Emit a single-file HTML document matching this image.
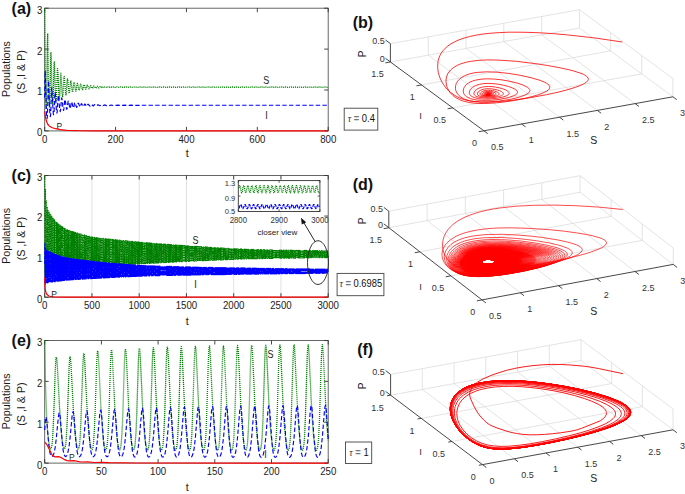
<!DOCTYPE html>
<html><head><meta charset="utf-8"><style>
html,body{margin:0;padding:0;background:#fff;width:685px;height:494px;overflow:hidden}
svg{display:block}
text{font-family:"Liberation Sans", sans-serif}
</style></head><body>
<svg width="685" height="494" viewBox="0 0 685 494" font-family='"Liberation Sans", sans-serif'>
<rect width="685" height="494" fill="#fff"/>
<rect x="44.7" y="8.2" width="283.5" height="122.7" fill="none" stroke="#555" stroke-width="0.9"/>
<line x1="44.7" y1="130.9" x2="44.7" y2="126.9" stroke="#333" stroke-width="0.9" />
<line x1="44.7" y1="8.2" x2="44.7" y2="12.2" stroke="#333" stroke-width="0.9" />
<text transform="translate(44.7,142.9) scale(0.93,1)" font-size="10.4" text-anchor="middle" font-weight="normal" fill="#222" >0</text>
<line x1="115.58" y1="130.9" x2="115.58" y2="126.9" stroke="#333" stroke-width="0.9" />
<line x1="115.58" y1="8.2" x2="115.58" y2="12.2" stroke="#333" stroke-width="0.9" />
<text transform="translate(115.58,142.9) scale(0.93,1)" font-size="10.4" text-anchor="middle" font-weight="normal" fill="#222" >200</text>
<line x1="186.45" y1="130.9" x2="186.45" y2="126.9" stroke="#333" stroke-width="0.9" />
<line x1="186.45" y1="8.2" x2="186.45" y2="12.2" stroke="#333" stroke-width="0.9" />
<text transform="translate(186.45,142.9) scale(0.93,1)" font-size="10.4" text-anchor="middle" font-weight="normal" fill="#222" >400</text>
<line x1="257.32" y1="130.9" x2="257.32" y2="126.9" stroke="#333" stroke-width="0.9" />
<line x1="257.32" y1="8.2" x2="257.32" y2="12.2" stroke="#333" stroke-width="0.9" />
<text transform="translate(257.32,142.9) scale(0.93,1)" font-size="10.4" text-anchor="middle" font-weight="normal" fill="#222" >600</text>
<line x1="328.2" y1="130.9" x2="328.2" y2="126.9" stroke="#333" stroke-width="0.9" />
<line x1="328.2" y1="8.2" x2="328.2" y2="12.2" stroke="#333" stroke-width="0.9" />
<text transform="translate(328.2,142.9) scale(0.93,1)" font-size="10.4" text-anchor="middle" font-weight="normal" fill="#222" >800</text>
<line x1="44.7" y1="130.9" x2="48.7" y2="130.9" stroke="#333" stroke-width="0.9" />
<line x1="328.2" y1="130.9" x2="324.2" y2="130.9" stroke="#333" stroke-width="0.9" />
<text transform="translate(42.3,136.3) scale(0.93,1)" font-size="10.4" text-anchor="end" font-weight="normal" fill="#222" >0</text>
<line x1="44.7" y1="90" x2="48.7" y2="90" stroke="#333" stroke-width="0.9" />
<line x1="328.2" y1="90" x2="324.2" y2="90" stroke="#333" stroke-width="0.9" />
<text transform="translate(42.3,95.4) scale(0.93,1)" font-size="10.4" text-anchor="end" font-weight="normal" fill="#222" >1</text>
<line x1="44.7" y1="49.1" x2="48.7" y2="49.1" stroke="#333" stroke-width="0.9" />
<line x1="328.2" y1="49.1" x2="324.2" y2="49.1" stroke="#333" stroke-width="0.9" />
<text transform="translate(42.3,54.5) scale(0.93,1)" font-size="10.4" text-anchor="end" font-weight="normal" fill="#222" >2</text>
<line x1="44.7" y1="8.2" x2="48.7" y2="8.2" stroke="#333" stroke-width="0.9" />
<line x1="328.2" y1="8.2" x2="324.2" y2="8.2" stroke="#333" stroke-width="0.9" />
<text transform="translate(42.3,13.6) scale(0.93,1)" font-size="10.4" text-anchor="end" font-weight="normal" fill="#222" >3</text>
<path d="M44.7 8.2l.7 78.1 .4 16.5 .2 4.4 .2 1.2 .3-3.7 .2-7.8 .7-55.4 .3-8.1 1 59.1 .4 11 .3 3.5 .3-2.5 .2-5.7 .8-39.2 .2-7.5 .3 5.1 .9 38.3 .4 7.2 .3 1.5 .4-5.9 .8-31.9 .3-4.4 .3 4.2 .9 28.5 .3 4.8 .2 1.9 .5-4.2 .7-24.5 .3-4.1 .4 3.5 1 22.8 .3 3.2 .2 .7 .4-4 .7-17.8 .4-3.9 .3 3 .9 16.7 .5 3.8 .5-2.7 .7-15 .4-2.5 .3 2.6 1 13 .5 2.8 .3-1.8 .8-11.7 .4-2.4 .3 1.6 1 10.7 .3 1.8 .2 .3 .4-2.4 .7-8.6 .4-1.5 .3 1.4 1 8.4 .5 1.5 .3-1.1 .8-7.3 .3-1.5 .5 1.2 1 6.6 .4 1.1 .4-1.5 .7-5.3 .4-1 .4 1 .9 5 .5 1 .3-.7 .8-4.5 .4-1 .4 .9 1 3.9 .4 .8 .3-.7 .8-3.6 .4-.7 .4 .7 1 3.2 .4 .6 .4-.6 .8-2.9 .3-.5 .4 .6 1 2.5 .4 .5 .3-.4 .8-2.3 .4-.5 .4 .4 1 2.1 .4 .3 .4-.3 .7-1.9 .4-.3 .4 .3 .9 1.6 .5 .4 .4-.3 .8-1.5 .3-.2 .5 .3 .9 1.2 .4 .3 .4-.2 .7-1.1 .4-.4 .4 .2 1 1.2 .4 .1 1.2-1.2 .3-.1 1.8 1.2 1.6-1.1 1.7 1 1.5-.9 1.8 .8 1.5-.7 1.8 .7 1.5-.7 1.9 .6 1.4-.5 1.8 .5 1.6-.5 1.7 .5 1.5-.5 1.8 .5 1.6-.5 1.7 .4 1.5-.4 1.9 .4 1.5-.3 1.7 .3 1.6-.3 1.8 .3 1.5-.3 1.8 .3 1.5-.3 1.8 .3 1.4-.3 1.9 .3 1.5-.3 1.8 .3 1.5-.3 1.8 .3 1.5-.3 1.8 .3 1.5-.3 1.8 .3 1.5-.3 1.8 .3 1.5-.3 1.8 .3 1.5-.3 1.8 .3 1.5-.3 1.8 .3 1.5-.3 1.8 .3 1.5-.3 1.8 .3 1.5-.3 1.8 .3 1.5-.3 1.8 .3 1.5-.3 1.9 .3 1.4-.3 1.8 .3 1.5-.3 1.8 .3 1.5-.3 1.8 .3 1.6-.3 1.7 .3 1.5-.3 1.9 .3 1.5-.3 1.7 .3 1.5-.3 1.9 .3 1.5-.3 1.7 .3 1.6-.3 1.8 .3 1.4-.3 1.9 .3 1.5-.3 1.7 .3 1.5-.3 1.9 .3 1.5-.3 1.7 .3 1.6-.3 1.8 .3 1.5-.3 1.7 .3 1.6-.3 1.8 .3 1.5-.3 1.8 .3 1.5-.3 1.8 .3 1.5-.3 1.8 .3 1.5-.3 1.8 .3 1.5-.3 1.8 .3 1.5-.3 1.8 .3 1.5-.3 1.8 .3 1.5-.3 1.8 .3 1.5-.3 1.8 .3 1.5-.3 1.8 .3 1.5-.3 1.8 .3 1.5-.3 1.8 .3 1.5-.3 1.8 .3 1.5-.3 1.8 .3 1.5-.3 1.8 .3 1.5-.3 1.9 .3 1.4-.3 1.8 .3 1.5-.3 1.8 .3 1.5-.3 1.8 .3 1.5-.3 1.8 .3 1.5-.3 1.9 .3 1.4-.3 1.8 .3 1.5-.3 1.9 .3 1.4-.3 1.8 .3 1.3-.3" fill="none" stroke="#008000" stroke-width="1.3" stroke-linejoin="round" stroke-dasharray="1.1 0.9"/>
<path d="M44.7 97.7l.3-22.2 .2-4.5 1.1 38.1 .3 7 .4 2.6 .3-1.2 .2-5.1 1-31.7 .2 3.8 1 25.8 .3 5 .3 1.3 .3-1.3 .2-3.3 .7-21.3 .3-3.2 1.2 22.3 .3 4 .3 .9 .5-3.3 .7-16.3 .3-3 .3 2.6 1 15.3 .5 3.1 .2-.5 .2-1.8 .7-12.6 .4-2.8 .3 2.2 1 11.7 .5 2.3 .4-1.5 .8-10.6 .3-1.7 .4 1.8 .9 8.6 .5 2.2 .2-.3 .2-1.2 .7-7.7 .4-1.7 .3 1.1 1.1 7.6 .4 1.2 .4-1 .8-6.5 .3-1.1 .4 1 1 5.9 .5 .9 .3-.9 .7-4.8 .4-1.1 .3 .6 1 4.4 .5 1.1 .4-.6 .7-4 .4-.7 .4 .7 1 3.5 .4 .6 .4-.6 .8-3.2 .3-.4 .5 .6 1 2.7 .3 .5 .4-.4 .7-2.5 .4-.5 .3 .3 1.1 2.3 .4 .4 .5-.5 .7-1.8 .3-.3 .5 .3 .9 1.7 .5 .3 .3-.3 .7-1.5 .4-.3 .3 .2 1.1 1.4 .4 .3 .4-.2 .7-1.2 .4-.3 1.9 1.6 .3-.2 .8-1.1 .4-.1 1.8 1.2 1.4-1.1 1.9 1 1.4-.9 1.9 .8 1.4-.7 1.8 .7 1.5-.6 1.9 .5 1.5-.5 1.8 .5 1.4-.5 1.9 .4 1.5-.3 1.8 .3 1.5-.3 1.8 .3 1.5-.3 1.8 .3 1.5-.3 1.8 .3 1.4-.3 1.9 .3 1.5-.3 1.8 .3 1.5-.2 1.8 .2 1.5-.2 1.8 .1 1.5-.1 1.8 .1 1.5-.1 1.8 .1 1.5-.1 1.8 .1 1.5-.1 1.8 .1 1.5-.1 1.8 .1 1.5-.1 1.9 .1 1.4-.1 1.8 .1 1.5-.1 1.9 .1 1.4-.1 1.8 .1 1.5-.1 1.9 .1 1.4-.1 1.9 .1 1.4-.1 1.8 .1 1.5-.1 1.9 .1 1.5-.1 1.7 .1 1.5-.1 1.9 .1 1.5-.1 1.8 .1 1.4-.1 1.9 .1 1.5-.1 1.8 .1 1.5-.1 1.8 .1 1.4-.1 1.9 .1 1.5-.1 1.8 .1 1.4-.1 1.9 .1 1.5-.1 1.8 .1 1.5-.1 1.8 .1 1.5-.1 1.8 .1 1.5-.1 1.8 .1 1.5-.1 1.8 .1 1.5-.1 1.8 .1 1.5-.1 1.8 .1 1.5-.1 1.8 .1 1.5-.1 1.9 .1 1.4-.1 1.8 .1 1.5-.1 1.8 .1 1.5-.1 1.8 .1 1.5-.1 1.8 .1 1.5-.1 1.9 .1 1.4-.1 1.8 .1 1.5-.1 1.9 .1 1.5-.1 1.7 .1 1.5-.1 1.9 .1 1.4-.1 1.9 .1 1.4-.1 1.9 .1 1.4-.1 1.9 .1 1.5-.1 1.7 .1 1.5-.1 1.9 .1 1.5-.1 1.7 .1 1.5-.1 1.9 .1 1.5-.1 1.8 .1 1.5-.1 1.8 .1 1.5-.1 1.8 .1 1.5-.1 1.8 .1 1.4-.1 1.9 .1 1.5-.1 1.7 .1 1.5-.1 1.9 .1 1.5-.1 5.5 .1" fill="none" stroke="#0000ff" stroke-width="1.15" stroke-linejoin="round" stroke-dasharray="4.4 2.3"/>
<path d="M44.7 111.3l.8 5.8 .9 4 1.2 2.9 1.6 1.9 2.5 1.6 3.8 1.2 5 1 6.2 .6 11.2 .4 18.8 .2 231.5 0" fill="none" stroke="#ff0000" stroke-width="1.2" stroke-linejoin="round" />
<text transform="translate(187.35,157.4) scale(0.92,1)" font-size="11.8" text-anchor="middle" font-weight="normal" fill="#222" >t</text>
<text transform="translate(10.2,69.15) rotate(-90)" font-size="10.7" text-anchor="middle" fill="#1a1a1a">Populations</text>
<text transform="translate(24.6,71.85) rotate(-90)" font-size="10.7" text-anchor="middle" fill="#1a1a1a">(S ,I &amp; P)</text>
<text x="11.6" y="13.7" font-size="16" text-anchor="start" font-weight="bold" fill="#111" >(a)</text>
<text transform="translate(266.3,83.8) scale(0.9,1)" font-size="10" text-anchor="middle" font-weight="normal" fill="#222" >S</text>
<text transform="translate(266.6,119.1) scale(0.9,1)" font-size="10" text-anchor="middle" font-weight="normal" fill="#222" >I</text>
<text x="59.3" y="128.7" font-size="8.5" text-anchor="middle" font-weight="normal" fill="#222" >P</text>
<rect x="344.2" y="108.2" width="33.6" height="21.9" fill="#fff" stroke="#444" stroke-width="0.9"/>
<text transform="translate(361.3,122.05) scale(0.92,1)" font-size="10.2" text-anchor="middle" fill="#111"><tspan font-family="Liberation Serif" font-style="italic" font-size="10.5" fill="#333">&#964;</tspan> <tspan font-weight="bold" fill="#777">=</tspan> 0.4</text>
<line x1="91.95" y1="175.5" x2="91.95" y2="297.2" stroke="#dadada" stroke-width="0.8" />
<line x1="139.2" y1="175.5" x2="139.2" y2="297.2" stroke="#dadada" stroke-width="0.8" />
<line x1="186.45" y1="175.5" x2="186.45" y2="297.2" stroke="#dadada" stroke-width="0.8" />
<line x1="233.7" y1="175.5" x2="233.7" y2="297.2" stroke="#dadada" stroke-width="0.8" />
<line x1="280.95" y1="175.5" x2="280.95" y2="297.2" stroke="#dadada" stroke-width="0.8" />
<rect x="44.7" y="175.5" width="283.5" height="121.7" fill="none" stroke="#555" stroke-width="0.9"/>
<line x1="44.7" y1="297.2" x2="44.7" y2="293.2" stroke="#333" stroke-width="0.9" />
<line x1="44.7" y1="175.5" x2="44.7" y2="179.5" stroke="#333" stroke-width="0.9" />
<text transform="translate(44.7,309.2) scale(0.93,1)" font-size="10.4" text-anchor="middle" font-weight="normal" fill="#222" >0</text>
<line x1="91.95" y1="297.2" x2="91.95" y2="293.2" stroke="#333" stroke-width="0.9" />
<line x1="91.95" y1="175.5" x2="91.95" y2="179.5" stroke="#333" stroke-width="0.9" />
<text transform="translate(91.95,309.2) scale(0.93,1)" font-size="10.4" text-anchor="middle" font-weight="normal" fill="#222" >500</text>
<line x1="139.2" y1="297.2" x2="139.2" y2="293.2" stroke="#333" stroke-width="0.9" />
<line x1="139.2" y1="175.5" x2="139.2" y2="179.5" stroke="#333" stroke-width="0.9" />
<text transform="translate(139.2,309.2) scale(0.93,1)" font-size="10.4" text-anchor="middle" font-weight="normal" fill="#222" >1000</text>
<line x1="186.45" y1="297.2" x2="186.45" y2="293.2" stroke="#333" stroke-width="0.9" />
<line x1="186.45" y1="175.5" x2="186.45" y2="179.5" stroke="#333" stroke-width="0.9" />
<text transform="translate(186.45,309.2) scale(0.93,1)" font-size="10.4" text-anchor="middle" font-weight="normal" fill="#222" >1500</text>
<line x1="233.7" y1="297.2" x2="233.7" y2="293.2" stroke="#333" stroke-width="0.9" />
<line x1="233.7" y1="175.5" x2="233.7" y2="179.5" stroke="#333" stroke-width="0.9" />
<text transform="translate(233.7,309.2) scale(0.93,1)" font-size="10.4" text-anchor="middle" font-weight="normal" fill="#222" >2000</text>
<line x1="280.95" y1="297.2" x2="280.95" y2="293.2" stroke="#333" stroke-width="0.9" />
<line x1="280.95" y1="175.5" x2="280.95" y2="179.5" stroke="#333" stroke-width="0.9" />
<text transform="translate(280.95,309.2) scale(0.93,1)" font-size="10.4" text-anchor="middle" font-weight="normal" fill="#222" >2500</text>
<line x1="328.2" y1="297.2" x2="328.2" y2="293.2" stroke="#333" stroke-width="0.9" />
<line x1="328.2" y1="175.5" x2="328.2" y2="179.5" stroke="#333" stroke-width="0.9" />
<text transform="translate(328.2,309.2) scale(0.93,1)" font-size="10.4" text-anchor="middle" font-weight="normal" fill="#222" >3000</text>
<line x1="44.7" y1="297.2" x2="48.7" y2="297.2" stroke="#333" stroke-width="0.9" />
<line x1="328.2" y1="297.2" x2="324.2" y2="297.2" stroke="#333" stroke-width="0.9" />
<text transform="translate(42.3,302.6) scale(0.93,1)" font-size="10.4" text-anchor="end" font-weight="normal" fill="#222" >0</text>
<line x1="44.7" y1="256.63" x2="48.7" y2="256.63" stroke="#333" stroke-width="0.9" />
<line x1="328.2" y1="256.63" x2="324.2" y2="256.63" stroke="#333" stroke-width="0.9" />
<text transform="translate(42.3,262.03) scale(0.93,1)" font-size="10.4" text-anchor="end" font-weight="normal" fill="#222" >1</text>
<line x1="44.7" y1="216.07" x2="48.7" y2="216.07" stroke="#333" stroke-width="0.9" />
<line x1="328.2" y1="216.07" x2="324.2" y2="216.07" stroke="#333" stroke-width="0.9" />
<text transform="translate(42.3,221.47) scale(0.93,1)" font-size="10.4" text-anchor="end" font-weight="normal" fill="#222" >2</text>
<line x1="44.7" y1="175.5" x2="48.7" y2="175.5" stroke="#333" stroke-width="0.9" />
<line x1="328.2" y1="175.5" x2="324.2" y2="175.5" stroke="#333" stroke-width="0.9" />
<text transform="translate(42.3,180.9) scale(0.93,1)" font-size="10.4" text-anchor="end" font-weight="normal" fill="#222" >3</text>
<path d="M44.7 175.5l.3 95.8 .1 3.5 .1-8.9 .3-77 .5 88.7 .4-76.9 .5 76.3 .4-69.7 .5 68.9 .4-65.6 .5 65.2 .4-63.7 .5 63.3 .5-61.9 .4 61.4 .5-59.9 .4 59.6 .5-58.1 .5 57.8 .4-56.7 .5 56.3 .4-55.1 .5 54.7 .4-53.6 .5 53.2 .4-51.9 .5 51.7 .4-50.7 .5 50.4 .4-49.8 .5 49.6 .4-48.9 .5 48.6 .4-47.9 .5 47.6 .4-46.8 .5 46.6 .4-45.8 .5 45.6 .4-45.1 .5 44.9 .5-44.3 .5 44 .4-43.4 .4 43.1 .5-42.4 .5 42.2 .4-41.5 .5 41.3 .4-40.9 .5 40.7 .4-40.4 .5 40.3 .4-40 .5 39.8 .4-39.4 .5 39.4 .4-39 .5 38.8 .4-38.6 .5 38.5 .4-38.2 .5 38 .4-37.7 .5 37.6 .5-37.3 .4 37.2 .4-36.8 .5 36.7 .4-36.5 .6 36.4 .4-36.2 .5 36 .4-35.7 .4 35.6 .5-35.3 .5 35.2 .4-34.9 .5 34.8 .4-34.6 .5 34.5 .4-34.3 .5 34.1 .4-33.8 .5 33.7 .4-33.4 .5 33.3 .4-33 .5 32.9 .4-32.8 .5 32.7 .4-32.4 .5 32.2 .4-32 .5 31.9 .5-31.6 .4 31.6 .4-31.4 .5 31.3 .5-31.1 .5 30.9 .4-30.7 .5 30.6 .4-30.3 .5 30.2 .4-29.9 .5 29.8 .4-29.7 .5 29.6 .4-29.5 .5 29.5 .4-29.4 .5 29.3 .4-29.2 .5 29.1 .4-28.9 .5 28.9 .4-28.8 .5 28.8 .4-28.7 .5 28.6 .4-28.5 .5 28.4 .5-28.3 .4 28.3 .5-28.1 .4 28 .5-28 .5 28 .4-27.9 .5 27.8 .4-27.7 .5 27.6 .4-27.5 .5 27.5 .4-27.3 .5 27.2 .4-27.1 .5 27.1 .4-27.1 .5 27 .4-26.9 .5 26.8 .4-26.6 .5 26.6 .4-26.5 .5 26.5 .4-26.4 .5 26.3 .4-26.3 .5 26.2 .5-26.1 .4 26 .5-25.8 .4 25.8 .4-25.7 .6 25.7 .4-25.7 .5 25.6 .4-25.5 .5 25.5 .4-25.4 .5 25.3 .4-25.2 .5 25.2 .4-25 .5 24.9 .4-24.9 .5 24.9 .4-24.8 .5 24.7 .4-24.6 .5 24.5 .4-24.4 .5 24.4 .4-24.3 .5 24.3 .4-24.2 .5 24.1 .4-24.1 .6 24 .4-23.9 .4 23.9 .5-23.7 .4 23.7 .5-23.6 .5 23.5 .4-23.5 .5 23.5 .4-23.4 .5 23.3 .4-23.2 .5 23.1 .4-23 .5 23 .4-22.9 .5 22.9 .4-22.9 .5 22.8 .4-22.7 .5 22.6 .4-22.5 .5 22.5 .4-22.4 .5 22.4 .4-22.3 .5 22.2 .4-22.2 .5 22.2 .5-22.1 .5 22 .4-21.9 .4 21.9 .5-21.8 .5 21.7 .4-21.6 .5 21.6 .4-21.6 .5 21.5 .4-21.4 .5 21.4 .4-21.3 .5 21.2 .4-21.1 .5 21.1 .4-21 .5 20.9 .4-20.9 .5 20.9 .4-20.8 .5 20.7 .4-20.6 .5 20.6 .5-20.5 .4 20.4 .4-20.3 .5 20.3 .5-20.3 .5 20.2 .4-20.1 .5 20.1 .4-20 .5 19.9 .4-19.8 .5 19.8 .4-19.7 .5 19.6 .4-19.6 .5 19.6 .4-19.5 .5 19.4 .4-19.3 .5 19.3 .4-19.2 .5 19.2 .4-19.2 .5 19.1 .4-19 .5 18.9 .4-18.8 .5 18.8 .5-18.8 .4 18.7 .5-18.5 .4 18.5 .5-18.5 .5 18.5 .4-18.5 .5 18.4 .4-18.3 .5 18.2 .4-18.1 .5 18.1 .4-18 .5 18 .4-18 .5 17.9 .4-17.8 .5 17.8 .4-17.7 .5 17.6 .4-17.6 .5 17.6 .4-17.5 .5 17.5 .4-17.4 .5 17.3 .4-17.3 .5 17.3 .5-17.2 .4 17.1 .5-17 .4 17 .4-16.9 .6 16.8 .4-16.8 .5 16.8 .4-16.8 .5 16.7 .4-16.6 .5 16.6 .4-16.5 .5 16.5 .4-16.4 .5 16.3 .4-16.3 .5 16.3 .4-16.2 .5 16.1 .4-16.1 .5 16.1 .4-16 .5 16 .4-15.9 .5 15.8 .4-15.8 .5 15.8 .4-15.7 .6 15.6 .4-15.6 .4 15.6 .5-15.5 .4 15.5 .5-15.4 .5 15.3 .4-15.3 .5 15.3 .4-15.3 .5 15.2 .4-15.1 .5 15.1 .4-15 .5 15 .4-15 .5 14.9 .4-14.8 .5 14.8 .4-14.8 .5 14.7 .4-14.6 .5 14.6 .4-14.5 .5 14.5 .4-14.5 .5 14.4 .4-14.3 .5 14.3 .5-14.3 .5 14.2 .4-14.1 .4 14.1 .5-14 .5 13.9 .4-13.9 .5 13.9 .4-13.8 .5 13.7 .4-13.7 .5 13.7 .4-13.6 .5 13.5 .4-13.4 .5 13.4 .4-13.4 .5 13.4 .4-13.3 .5 13.2 .4-13.2 .5 13.1 .4-13 .5 13 .5-12.9 .4 12.9 .4-12.9 .5 12.9 .5-12.8 .5 12.7 .4-12.7 .5 12.6 .4-12.5 .5 12.5 .4-12.4 .5 12.4 .4-12.4 .5 12.3 .4-12.3 .5 12.3 .4-12.2 .5 12.1 .4-12 .5 12 .4-12 .5 12 .4-11.9 .5 11.8 .4-11.8 .5 11.8 .4-11.7 .5 11.6 .5-11.6 .4 11.6 .5-11.5 .4 11.5 .4-11.5 .6 11.5 .4-11.4 .5 11.3 .4-11.3 .4 11.3 .5-11.2 .5 11.1 .4-11.1 .5 11.1 .4-11 .5 11 .4-11 .5 10.9 .4-10.9 .5 10.9 .4-10.8 .5 10.8 .4-10.7 .5 10.6 .4-10.6 .5 10.6 .4-10.6 .5 10.5 .4-10.4 .5 10.4 .5-10.4 .4 10.4 .4-10.3 .5 10.3 .5-10.3 .5 10.2 .4-10.2 .5 10.2 .4-10.1 .5 10 .4-10 .5 10 .4-9.9 .5 9.9 .4-9.9 .5 9.8 .4-9.7 .5 9.7 .4-9.7 .5 9.7 .4-9.6 .5 9.5 .4-9.5 .5 9.5 .4-9.5 .5 9.5 .4-9.5 .5 9.5 .5-9.4 .4 9.3 .5-9.3 .4 9.3 .5-9.3 .5 9.3 .4-9.3 .5 9.3 .4-9.3 .5 9.3 .4-9.2 .5 9.2 .4-9.2 .5 9.2 .4-9.2 .5 9.1 .4-9.1 .5 9.1 .4-9.1 .5 9.1 .4-9 .5 9 .4-9 .5 9 .4-9 .5 9 .4-9 .5 9 .5-9 .5 8.9 .4-8.8 .4 8.8 .5-8.8 .5 8.8 .4-8.8 .5 8.8 .4-8.8 .5 8.8 .4-8.8 .5 8.7 .4-8.7 .5 8.7 .4-8.6 .5 8.6 .4-8.6 .5 8.6 .4-8.6 .5 8.6 .4-8.6 .5 8.6 .4-8.6 .5 8.6 .5-8.5 .4 8.5 .4-8.5 .5 8.5 .4-8.5 .6 8.4 .4-8.4 .4 8.4 .5-8.4 .4 8.4 .5-8.3 .5 8.3 .4-8.3 .5 8.3 .4-8.3 .5 8.3 .4-8.3 .5 8.2 .4-8.2 .5 8.2 .4-8.2 .5 8.2 .4-8.2 .5 8.2 .4-8.2 .5 8.2 .4-8.1 .5 8.1 .4-8.1 .5 8.1 .4-8.1 .5 8.1 .4-8.1 .5 8 .5-8 .5 8 .4-8 .4 8 .5-7.9 .5 7.9 .4-7.9 .5 7.9 .4-7.9 .5 7.9 .4-7.9 .5 7.9 .4-7.9 .5 7.8 .4-7.7 .5 7.7 .4-7.7 .5 7.7 .4-7.7 .5 7.7 .4-7.7 .5 7.7 .4-7.7 .5 7.7 .5-7.7 .4 7.7 .4-7.6 .5 7.6 .5-7.6 .5 7.5 .4-7.5 .5 7.5 .4-7.5 .5 7.5 .4-7.5 .5 7.5 .4-7.5 .5 7.5 .4-7.5 .5 7.5 .4-7.5 .5 7.5 .4-7.4 .5 7.3 .4-7.3 .5 7.3 .4-7.3 .5 7.3 .4-7.3 .5 7.3 .4-7.3 .5 7.3 .5-7.3 .4 7.3 .5-7.2 .4 7.2 .5-7.2 .5 7.2 .4-7.2 .5 7.2 .4-7.2 .5 7.1 .4-7.1 .5 7.1 .4-7.1 .5 7.1 .4-7.1 .5 7.1 .4-7.1 .5 7.1 .4-7 .5 7 .4-7 .5 7 .4-7 .5 7 .4-7 .5 7 .4-7 .5 6.9 .5-6.9 .4 6.9 .5-6.9 .5 6.7" fill="none" stroke="#008000" stroke-width="1.1" stroke-linejoin="round" stroke-dasharray="1.2 0.5"/>
<path d="M44.7 264.3l.1-20.7 .5 40.4 .4-35.4 .5 34.6 .5-33.3 .5 33 .4-32.1 .5 31.9 .3-31.3 .6 31.1 .4-30.8 .5 30.7 .4-30.3 .5 30.2 .4-29.7 .5 29.5 .4-29.1 .5 28.9 .4-28.4 .5 28.3 .4-28 .5 27.9 .4-27.6 .5 27.5 .4-27.1 .5 26.9 .4-26.5 .5 26.4 .4-26.1 .5 26 .4-25.7 .5 25.6 .4-25.4 .6 25.3 .4-25 .5 24.9 .4-24.5 .5 24.3 .4-24 .5 23.9 .4-23.7 .5 23.6 .4-23.4 .5 23.3 .4-23 .5 22.9 .4-22.6 .5 22.5 .4-22.3 .5 22.2 .4-22.1 .5 22.1 .4-22 .5 21.9 .4-21.7 .5 21.7 .4-21.5 .6 21.4 .3-21.3 .5 21.2 .4-21.1 .5 21.1 .5-21 .5 20.9 .4-20.8 .5 20.8 .4-20.6 .5 20.5 .4-20.4 .5 20.3 .4-20.2 .5 20.2 .4-20.1 .5 20.1 .4-20 .5 19.9 .4-19.7 .5 19.6 .4-19.5 .5 19.5 .4-19.4 .5 19.3 .4-19.2 .5 19.2 .4-19.1 .5 19 .5-18.8 .5 18.7 .3-18.7 .5 18.7 .5-18.6 .5 18.6 .4-18.5 .5 18.4 .4-18.3 .5 18.2 .4-18 .5 18 .4-17.9 .5 17.8 .4-17.8 .5 17.8 .4-17.7 .5 17.6 .4-17.4 .5 17.4 .4-17.3 .5 17.2 .4-17.1 .5 17.1 .4-17.1 .5 17 .4-16.9 .5 16.9 .5-16.7 .5 16.6 .3-16.5 .5 16.5 .5-16.5 .5 16.4 .4-16.3 .5 16.3 .4-16.2 .5 16.1 .4-16 .5 16 .4-15.8 .5 15.7 .4-15.7 .5 15.7 .4-15.6 .5 15.5 .4-15.4 .5 15.4 .4-15.3 .5 15.2 .4-15.1 .5 15.1 .4-15.1 .5 15 .4-14.9 .5 14.9 .5-14.8 .5 14.7 .4-14.6 .5 14.6 .3-14.5 .6 14.4 .4-14.3 .5 14.3 .4-14.3 .5 14.3 .4-14.2 .5 14.1 .4-14 .5 13.9 .4-13.8 .5 13.8 .4-13.7 .5 13.7 .4-13.7 .5 13.6 .4-13.5 .5 13.5 .4-13.4 .5 13.3 .4-13.2 .5 13.2 .4-13.2 .5 13.1 .4-13 .6 13 .4-12.9 .5 12.9 .4-12.8 .5 12.7 .4-12.7 .5 12.7 .4-12.6 .5 12.5 .4-12.5 .5 12.5 .4-12.4 .5 12.3 .4-12.2 .5 12.2 .4-12.1 .5 12.1 .4-12.1 .5 12 .4-11.9 .5 11.9 .4-11.9 .5 11.8 .4-11.7 .6 11.7 .3-11.6 .5 11.6 .4-11.6 .5 11.5 .5-11.4 .5 11.4 .4-11.3 .5 11.2 .4-11.2 .5 11.2 .4-11.1 .5 11.1 .4-11.1 .5 11 .4-10.9 .5 10.9 .4-10.9 .5 10.8 .4-10.7 .5 10.7 .4-10.6 .5 10.6 .4-10.6 .5 10.5 .4-10.4 .5 10.4 .4-10.4 .5 10.4 .5-10.3 .4 10.2 .4-10.2 .5 10.2 .5-10.2 .5 10.2 .4-10.2 .5 10.2 .4-10.1 .5 10.1 .4-10.1 .5 10 .4-10 .5 10 .4-10 .5 10 .4-9.9 .5 9.9 .4-9.9 .5 9.9 .4-9.8 .5 9.7 .4-9.7 .5 9.7 .4-9.7 .5 9.7 .4-9.7 .5 9.7 .5-9.6 .5 9.6 .3-9.6 .5 9.5 .4-9.5 .6 9.5 .4-9.5 .5 9.5 .4-9.4 .5 9.4 .4-9.4 .5 9.4 .4-9.4 .5 9.3 .4-9.2 .5 9.2 .4-9.2 .5 9.2 .4-9.2 .5 9.2 .4-9.2 .5 9.2 .4-9.1 .5 9.1 .4-9.1 .5 9.1 .4-9.1 .5 9 .4-9 .6 9 .4-8.9 .5 8.9 .3-8.9 .5 8.9 .5-8.9 .5 8.9 .4-8.9 .5 8.8 .4-8.7 .5 8.7 .4-8.7 .5 8.7 .4-8.7 .5 8.7 .4-8.7 .5 8.7 .4-8.6 .5 8.6 .4-8.6 .5 8.5 .4-8.5 .5 8.5 .4-8.4 .5 8.4 .4-8.4 .5 8.4 .4-8.4 .5 8.4 .5-8.4 .5 8.3 .4-8.2 .5 8.2 .4-8.2 .5 8.2 .4-8.2 .5 8.2 .4-8.2 .5 8.2 .4-8.2 .5 8.2 .4-8.1 .5 8 .4-8 .5 8 .4-8 .5 8 .4-8 .5 8 .4-7.9 .5 7.9 .4-7.9 .5 7.8 .4-7.8 .5 7.8 .4-7.8 .5 7.8 .5-7.8 .5 7.8 .4-7.7 .5 7.7 .4-7.7 .5 7.7 .4-7.7 .5 7.7 .4-7.7 .5 7.7 .4-7.7 .5 7.6 .4-7.6 .5 7.6 .4-7.5 .5 7.5 .4-7.5 .5 7.5 .4-7.5 .5 7.5 .4-7.5 .5 7.5 .4-7.5 .5 7.5 .4-7.4 .5 7.3 .4-7.3 .5 7.3 .4-7.3 .6 7.3 .4-7.3 .5 7.3 .4-7.3 .5 7.3 .4-7.3 .5 7.3 .4-7.3 .5 7.3 .4-7.2 .5 7.2 .4-7.2 .5 7.2 .4-7.2 .5 7.1 .4-7.1 .5 7.1 .4-7.1 .5 7.1 .4-7.1 .5 7.1 .4-7 .5 7 .4-7 .6 7 .3-7 .5 7 .4-7 .5 7 .5-7 .5 7 .4-7 .5 6.9 .4-6.8 .5 6.8 .4-6.8 .5 6.8 .4-6.8 .5 6.8 .4-6.8 .5 6.8 .4-6.8 .5 6.8 .4-6.8 .5 6.8 .4-6.8 .5 6.8 .4-6.8 .5 6.7 .4-6.6 .5 6.6 .4-6.6 .5 6.6 .5-6.6 .5 6.6 .3-6.6 .5 6.6 .5-6.6 .5 6.6 .4-6.6 .5 6.6 .4-6.5 .5 6.5 .4-6.5 .5 6.4 .4-6.4 .5 6.4 .4-6.4 .5 6.4 .4-6.4 .5 6.4 .4-6.4 .5 6.4 .4-6.4 .5 6.4 .4-6.3 .5 6.3 .4-6.3 .5 6.3 .4-6.3 .5 6.3 .5-6.3 .5 6.3 .4-6.3 .5 6.2 .4-6.2 .5 6.2 .4-6.2 .5 6.2 .4-6.2 .5 6.2 .4-6.1 .5 6.1 .4-6.1 .5 6.1 .4-6.1 .5 6.1 .4-6.1 .5 6.1 .4-6.1 .5 6.1 .4-6 .5 5.9 .4-5.9 .5 5.9 .4-5.9 .5 5.9 .4-5.9 .5 5.9 .5-5.9 .5 5.9 .4-5.9 .5 5.9 .3-5.8 .6 5.7 .4-5.7 .5 5.7 .4-5.7 .5 5.7 .4-5.7 .5 5.7 .4-5.7 .5 5.7 .4-5.7 .5 5.7 .4-5.7 .5 5.7 .4-5.7 .5 5.7 .4-5.6 .5 5.6 .4-5.6 .5 5.5 .4-5.5 .5 5.5 .4-5.5 .5 5.5 .4-5.5 .6 5.5 .4-5.5 .5 5.5 .4-5.4 .5 5.4 .4-5.4 .5 5.4 .4-5.4 .5 5.4 .4-5.4 .5 5.4 .4-5.4 .5 5.4 .4-5.4 .5 5.3 .4-5.3 .5 5.3 .4-5.3 .5 5.3 .4-5.2 .5 5.2 .4-5.2 .5 5.2 .4-5.2 .6 5.2 .3-5.2 .5 5.2 .4-5.2 .5 5.2 .5-5.2 .5 5.2 .4-5.2 .5 5.1 .4-5 .5 5 .4-5 .5 5 .4-5 .5 5 .4-5 .5 5 .4-5 .5 5 .4-5 .5 5 .4-5 .5 5 .4-5 .5 5 .4-4.9 .5 4.8 .4-4.8 .5 4.8 .5-4.8 .5 4.8 .3-4.8 .5 4.8 .5-4.8 .5 4.8 .4-4.8 .5 4.8 .4-4.8 .5 4.8 .4-4.7 .5 4.7 .4-4.7 .5 4.7 .4-4.7 .5 4.7 .4-4.7 .5 4.6 .4-4.6 .5 4.6 .4-4.6 .5 4.6 .4-4.6 .5 4.6 .4-4.6 .5 4.6 .4-4.6 .5 4.6 .5-4.5 .5 4.5 .4-4.5 .4 4.5 .4-4.5 .6 4.5 .4-4.5 .5 4.5 .4-4.5 .5 4.4 .4-4.4 .5 4.4 .4-4.4 .5 4.4 .4-4.4 .5 4.4 .4-4.4 .5 4.4 .4-4.3 .5 4.3 .4-4.3 .5 4.3 .4-4.3 .5 4.3 .4-4.3 .5 4.3 .4-4.3 .5 4.3 .4-4.3 .6 4.3 .4-4.3 .4 4.2 .4-4.2 .5 4.2 .5-4.2 .5 4.2 .4-4.2 .4 4.2 .5-4.1 .3 2.8" fill="none" stroke="#0000ff" stroke-width="1.1" stroke-linejoin="round" stroke-dasharray="4 0.7"/>
<path d="M44.7 277.7l.5 10.7 .4 2.9 .6 1.9 1.1 1.6 1.6 1.2 2 .7 2.8 .3 11.2 .2 263.3 0" fill="none" stroke="#ff0000" stroke-width="1.2" stroke-linejoin="round" />
<text transform="translate(187.35,324.8) scale(0.92,1)" font-size="11.8" text-anchor="middle" font-weight="normal" fill="#222" >t</text>
<text transform="translate(10.2,235.95) rotate(-90)" font-size="10.7" text-anchor="middle" fill="#1a1a1a">Populations</text>
<text transform="translate(24.6,238.65) rotate(-90)" font-size="10.7" text-anchor="middle" fill="#1a1a1a">(S ,I &amp; P)</text>
<text x="11.6" y="181" font-size="16" text-anchor="start" font-weight="bold" fill="#111" >(c)</text>
<text transform="translate(195.5,243.6) scale(0.9,1)" font-size="10" text-anchor="middle" font-weight="normal" fill="#222" >S</text>
<text transform="translate(195.5,288.2) scale(0.9,1)" font-size="10" text-anchor="middle" font-weight="normal" fill="#222" >I</text>
<text x="54.2" y="296.7" font-size="8.5" text-anchor="middle" font-weight="normal" fill="#222" >P</text>
<rect x="337.1" y="273.4" width="46.8" height="22.3" fill="#fff" stroke="#444" stroke-width="0.9"/>
<text transform="translate(360.8,287.45) scale(0.92,1)" font-size="10.2" text-anchor="middle" fill="#111"><tspan font-family="Liberation Serif" font-style="italic" font-size="10.5" fill="#333">&#964;</tspan> <tspan font-weight="bold" fill="#777">=</tspan> 0.6985</text>
<rect x="238.3" y="180.6" width="81.6" height="30.9" fill="#fff" stroke="#333" stroke-width="0.9"/>
<line x1="238.3" y1="211.5" x2="238.3" y2="209.3" stroke="#333" stroke-width="0.8" />
<line x1="238.3" y1="180.6" x2="238.3" y2="182.8" stroke="#333" stroke-width="0.8" />
<text transform="translate(238.3,222.7) scale(0.95,1)" font-size="8.2" text-anchor="middle" font-weight="normal" fill="#333" >2800</text>
<line x1="279.1" y1="211.5" x2="279.1" y2="209.3" stroke="#333" stroke-width="0.8" />
<line x1="279.1" y1="180.6" x2="279.1" y2="182.8" stroke="#333" stroke-width="0.8" />
<text transform="translate(279.1,222.7) scale(0.95,1)" font-size="8.2" text-anchor="middle" font-weight="normal" fill="#333" >2900</text>
<line x1="319.9" y1="211.5" x2="319.9" y2="209.3" stroke="#333" stroke-width="0.8" />
<line x1="319.9" y1="180.6" x2="319.9" y2="182.8" stroke="#333" stroke-width="0.8" />
<text transform="translate(319.9,222.7) scale(0.95,1)" font-size="8.2" text-anchor="middle" font-weight="normal" fill="#333" >3000</text>
<line x1="238.3" y1="211.5" x2="240.5" y2="211.5" stroke="#333" stroke-width="0.8" />
<line x1="319.9" y1="211.5" x2="317.7" y2="211.5" stroke="#333" stroke-width="0.8" />
<text transform="translate(235.3,213.8) scale(0.95,1)" font-size="8.0" text-anchor="end" font-weight="normal" fill="#333" >0.5</text>
<line x1="238.3" y1="196.05" x2="240.5" y2="196.05" stroke="#333" stroke-width="0.8" />
<line x1="319.9" y1="196.05" x2="317.7" y2="196.05" stroke="#333" stroke-width="0.8" />
<text transform="translate(235.3,200.7) scale(0.95,1)" font-size="8.0" text-anchor="end" font-weight="normal" fill="#333" >0.9</text>
<line x1="238.3" y1="180.6" x2="240.5" y2="180.6" stroke="#333" stroke-width="0.8" />
<line x1="319.9" y1="180.6" x2="317.7" y2="180.6" stroke="#333" stroke-width="0.8" />
<text transform="translate(235.3,185.9) scale(0.95,1)" font-size="8.0" text-anchor="end" font-weight="normal" fill="#333" >1.3</text>
<path d="M238.9 188l.5-2.2 .2-.3 .1 0 .2 .1 .4 1.4 1 5.1 .3 .7 .2 0 .2-.3 .3-1.1 1-5.2 .3-.7 .2 0 .2 .3 .3 1.1 1 5.1 .3 .8 .2 0 .2-.3 .3-1 1.1-5.2 .3-.8 .2 0 .2 .2 .3 1.1 1 5.1 .3 .8 .2 .1 .2-.2 .3-1 1-5.2 .3-.8 .2-.1 .2 .2 .3 .9 1 5.3 .3 .8 .2 .1 .2-.2 .3-.9 1-5.2 .3-.9 .2-.1 .2 .1 .2 .6 1.1 5.6 .3 .9 .2 .1 .2-.1 .3-.9 1-5.2 .3-.9 .2-.2 .2 .1 .3 .8 1 5.2 .3 1 .2 .2 .2-.1 .3-.8 1.2-5.6 .3-.8 .2 0 .2 .2 .3 1.1 1 5.2 .3 .7 .2 .1 .2-.2 .3-1 1-5.2 .3-.8 .2-.1 .2 .2 .3 1 1 5.2 .3 .8 .2 .1 .2-.2 .3-.9 1-5.2 .3-.9 .2-.1 .2 .1 .3 .9 1.1 5.6 .2 .6 .2 .1 .2-.1 .3-.9 1-5.2 .3-.9 .2-.2 .2 .1 .3 .8 1 5.3 .3 .9 .2 .2 .2-.1 .3-.8 1.2-5.6 .3-.8 .2 0 .2 .2 .3 1.1 1 5.2 .3 .7 .2 .1 .2-.2 .3-1 1-5.2 .3-.8 .2-.1 .2 .2 .3 1 1 5.2 .3 .8 .2 .1 .2-.2 .3-.9 1-5.2 .3-.9 .2-.1 .2 .1 .3 1 1.1 5.5 .2 .6 .2 .1 .2-.1 .3-.9 1-5.2 .3-.9 .2-.2 .2 .1 .3 .9 1 5.2 .3 .9 .2 .2 .2-.1 .3-.8 1.2-5.6 .3-.8 .2 0 .2 .2 .3 1.1 1 5.2 .3 .7 .2 .1 .2-.2 .3-1 1-5.2 .3-.8 .2-.1 .2 .2 .3 1 1 5.2 .3 .8 .2 .1 .2-.2 .3-.9 1-5.2 .3-.9 .2-.1 .2 .1 .3 1 1.1 5.5 .2 .6 .2 .1 .2-.1 .3-.9 1-5.2 .3-.9 .2-.2 .2 .1 .3 .9 1 5.2 .3 .9 .2 .2 .2-.1 .3-.8 1.1-5.2 .3-1 .2-.2 .2 .1 .3 .8 1.1 5.6 .3 .7 .2 .1 .2-.2 .3-1 1-5.2 .3-.8 .2-.1 .2 .2 .3 1 .8 4.3 .4 1.5 .2 .3 .2 0 .2-.4 .3-1.2" fill="none" stroke="#008000" stroke-width="1.2" stroke-linejoin="round" stroke-dasharray="1.1 0.8"/>
<path d="M238.9 208.4l.3-.6 1-2.8 .3-.4 .2-.1 .2 .1 .3 .5 1.1 3 .3 .5 .2 .1 .3-.2 .3-.5 1.1-3 .3-.4 .2-.1 .2 .1 .3 .5 1.1 3.1 .4 .4 .2 .1 .2-.1 .3-.4 1.1-3.1 .3-.5 .2-.1 .2 .1 .3 .4 1.1 3 .3 .5 .3 .2 .2-.1 .3-.5 1.1-3 .3-.5 .2-.1 .2 .1 .3 .4 1.1 3.1 .3 .5 .2 .1 .2-.1 .3-.4 1.1-3 .3-.5 .3-.2 .2 .1 .3 .5 1.1 3 .3 .5 .2 .1 .2-.1 .3-.4 1.1-3 .3-.6 .2-.1 .2 0 .3 .4 1.2 3.1 .3 .5 .3 .2 .2-.1 .3-.5 1.1-3 .3-.5 .2-.1 .3 .2 .3 .5 1.1 3 .3 .4 .2 .1 .2-.1 .3-.5 1.1-3.1 .3-.4 .2-.1 .2 .1 .3 .4 1.1 3.1 .3 .5 .2 .1 .2-.1 .3-.4 1.1-3 .3-.5 .3-.2 .2 .1 .3 .5 1.1 3 .3 .5 .2 .1 .2-.1 .3-.4 1.1-3.1 .4-.5 .2-.1 .2 .1 .3 .3 1.1 3.1 .3 .5 .3 .2 .2-.1 .3-.5 1.1-3 .3-.5 .2-.1 .2 .1 .3 .4 1.1 3 .3 .6 .2 .1 .2 0 .3-.4 1.1-3 .3-.6 .3-.2 .2 .1 .3 .5 1.1 3 .3 .5 .2 .1 .3-.2 .3-.5 1.1-3 .3-.4 .2-.1 .2 .1 .3 .5 1.1 3 .3 .5 .2 .1 .2-.1 .3-.4 1.2-3.1 .3-.5 .2-.1 .2 .1 .3 .4 1.1 3 .3 .5 .3 .2 .2-.1 .3-.5 1.1-3 .3-.5 .2-.1 .2 .1 .3 .4 1.1 3 .3 .6 .2 .1 .2-.1 .3-.3 1.1-3.1 .3-.5 .3-.2 .2 .1 .3 .5 1.1 3 .3 .5 .2 .1 .2-.1 .3-.4 1.1-3 .3-.5 .2-.2 .2 0 .3 .4 1.1 3 .4 .6 .2 .2 .2 0 .3-.4 1.2-3.2 .3-.5 .2-.1 .2 .1 .3 .4 1.1 3 .3 .5 .2 .2 .2 0 .3-.4 1.1-3 .3-.6 .2-.2 .3 .1 .3 .4 .7 2" fill="none" stroke="#0000ff" stroke-width="1.2" stroke-linejoin="round" stroke-dasharray="3.5 1"/>
<text x="277.4" y="235.2" font-size="8.1" text-anchor="middle" font-weight="normal" fill="#222" >closer view</text>
<ellipse cx="318" cy="262.6" rx="10.5" ry="21.9" fill="none" stroke="#222" stroke-width="0.9"/>
<line x1="315.1" y1="241.6" x2="303.2" y2="221.6" stroke="#111" stroke-width="0.9" />
<path d="M301 217.8 L306.2 222.2 L301.8 224.6 Z" fill="#111"/>
<rect x="44.7" y="340.5" width="283.5" height="122.6" fill="none" stroke="#555" stroke-width="0.9"/>
<line x1="44.7" y1="463.1" x2="44.7" y2="459.1" stroke="#333" stroke-width="0.9" />
<line x1="44.7" y1="340.5" x2="44.7" y2="344.5" stroke="#333" stroke-width="0.9" />
<text transform="translate(44.7,475.1) scale(0.93,1)" font-size="10.4" text-anchor="middle" font-weight="normal" fill="#222" >0</text>
<line x1="101.4" y1="463.1" x2="101.4" y2="459.1" stroke="#333" stroke-width="0.9" />
<line x1="101.4" y1="340.5" x2="101.4" y2="344.5" stroke="#333" stroke-width="0.9" />
<text transform="translate(101.4,475.1) scale(0.93,1)" font-size="10.4" text-anchor="middle" font-weight="normal" fill="#222" >50</text>
<line x1="158.1" y1="463.1" x2="158.1" y2="459.1" stroke="#333" stroke-width="0.9" />
<line x1="158.1" y1="340.5" x2="158.1" y2="344.5" stroke="#333" stroke-width="0.9" />
<text transform="translate(158.1,475.1) scale(0.93,1)" font-size="10.4" text-anchor="middle" font-weight="normal" fill="#222" >100</text>
<line x1="214.8" y1="463.1" x2="214.8" y2="459.1" stroke="#333" stroke-width="0.9" />
<line x1="214.8" y1="340.5" x2="214.8" y2="344.5" stroke="#333" stroke-width="0.9" />
<text transform="translate(214.8,475.1) scale(0.93,1)" font-size="10.4" text-anchor="middle" font-weight="normal" fill="#222" >150</text>
<line x1="271.5" y1="463.1" x2="271.5" y2="459.1" stroke="#333" stroke-width="0.9" />
<line x1="271.5" y1="340.5" x2="271.5" y2="344.5" stroke="#333" stroke-width="0.9" />
<text transform="translate(271.5,475.1) scale(0.93,1)" font-size="10.4" text-anchor="middle" font-weight="normal" fill="#222" >200</text>
<line x1="328.2" y1="463.1" x2="328.2" y2="459.1" stroke="#333" stroke-width="0.9" />
<line x1="328.2" y1="340.5" x2="328.2" y2="344.5" stroke="#333" stroke-width="0.9" />
<text transform="translate(328.2,475.1) scale(0.93,1)" font-size="10.4" text-anchor="middle" font-weight="normal" fill="#222" >250</text>
<line x1="44.7" y1="463.1" x2="48.7" y2="463.1" stroke="#333" stroke-width="0.9" />
<line x1="328.2" y1="463.1" x2="324.2" y2="463.1" stroke="#333" stroke-width="0.9" />
<text transform="translate(42.3,468.5) scale(0.93,1)" font-size="10.4" text-anchor="end" font-weight="normal" fill="#222" >0</text>
<line x1="44.7" y1="422.23" x2="48.7" y2="422.23" stroke="#333" stroke-width="0.9" />
<line x1="328.2" y1="422.23" x2="324.2" y2="422.23" stroke="#333" stroke-width="0.9" />
<text transform="translate(42.3,427.63) scale(0.93,1)" font-size="10.4" text-anchor="end" font-weight="normal" fill="#222" >1</text>
<line x1="44.7" y1="381.37" x2="48.7" y2="381.37" stroke="#333" stroke-width="0.9" />
<line x1="328.2" y1="381.37" x2="324.2" y2="381.37" stroke="#333" stroke-width="0.9" />
<text transform="translate(42.3,386.77) scale(0.93,1)" font-size="10.4" text-anchor="end" font-weight="normal" fill="#222" >2</text>
<line x1="44.7" y1="340.5" x2="48.7" y2="340.5" stroke="#333" stroke-width="0.9" />
<line x1="328.2" y1="340.5" x2="324.2" y2="340.5" stroke="#333" stroke-width="0.9" />
<text transform="translate(42.3,345.9) scale(0.93,1)" font-size="10.4" text-anchor="end" font-weight="normal" fill="#222" >3</text>
<path d="M44.7 340.5l.8 43.9 1.2 33.4 .8 13 1 9.6 1 6.3 .6 1.7 .5 .5 .3-.2 .3-.5 .6-2.5 .6-4.7 .4-6.3 .9-18.4 1.7-49.5 .5-7.6 .1-1.5 .3-.7 .5 2.6 .5 6.2 2.1 39.4 1.3 20.1 1.2 13.1 .7 4.9 .6 3.3 .5 1.5 .5 .7 .4-.2 .4-.8 .7-3.4 .6-6.8 1-18.3 1.8-51.7 .5-7.9 .4-2.7 .5 2.2 .5 5.9 2.4 45.6 1.7 22.9 .9 7.6 .9 5.5 .5 1.6 .5 .8 .5-.1 .3-.7 .5-1.9 .5-3.4 .8-11.7 2.4-67 .5-8.3 .4-2.7 .4 1.6 .5 5.8 2.4 48 1.7 24.1 .9 8.1 .9 5.8 .5 1.7 .5 1 .5 .1 .3-.5 .6-2.1 .5-3.4 .8-11.7 .8-18.4 1.6-50.8 .5-8.8 .4-3 .4 1.5 .5 5.8 2.4 49.6 1.7 23.7 .8 8.5 .9 6.3 1 3.2 .5 .4 .3-.3 .6-1.7 .6-3.7 .8-11.2 .8-17.9 1.7-54.1 .5-8.5 .2-1.8 .2-.9 .4 1.8 .5 6.1 2.3 48.6 1.7 24.4 .8 8.7 1 6.6 .9 3.4 .5 .6 .3-.2 .6-1.5 .6-3.3 .9-12 .8-18 1.7-54.5 .5-8.7 .4-2.8 .4 1.8 .5 6.1 2.3 49 1.7 24.6 .8 8.8 .9 6.7 1 3.5 .5 .5 .3-.1 .6-1.4 .6-3.2 .9-11.7 .9-20.5 1.6-52.3 .5-9.2 .4-3.3 .2 .4 .3 2 .5 6.6 2.2 47.7 1.6 24.9 .9 9.1 .9 6.8 1 3.6 .5 .7 .3-.1 .7-1.6 .6-3.3 .9-12.1 .8-18.1 1.7-55.3 .4-8.9 .5-2.9 .4 1.7 .5 6.2 2.3 49.6 1.6 24.9 .9 9 .9 6.7 1 3.6 .5 .6 .3 0 .7-1.6 .6-3.4 .9-12.2 .8-18.3 1.7-55.5 .4-8.9 .5-2.9 .4 1.7 .5 6.2 2.3 49.9 1.5 23.9 .8 8.4 .8 6.8 .9 4.2 .5 1.3 .3 .5 .4-.1 .4-.6 .7-2.9 .5-5 .5-6.7 .9-19.8 1.7-55.8 .4-9.3 .5-3.2 .5 2.5 .4 6.8 2.3 48.4 1.5 24.1 .8 8.5 .8 7 .9 4.3 .5 1.3 .3 .5 .4 0 .4-.6 .7-2.7 .5-4.8 .5-6.5 .8-19.4 1.8-58.5 .5-8.7 .2-1.7 .3-.8 .4 2 .4 6.5 2.3 48.5 1.5 24.5 .9 9.6 .8 6.8 .9 4.2 .4 1.2 .4 .5 .4-.1 .4-.6 .6-2.9 .6-5 .5-6.7 .8-19.8 1.7-56.3 .5-9.4 .5-3.4 .2 .4 .2 2 .5 6.7 2.3 48.8 1.5 24.3 .8 8.6 .8 7 .9 4.4 .4 1.4 .4 .6 .4 0 .4-.5 .6-2.6 .6-4.6 .6-7.9 .8-20 1.7-56.4 .5-9.2 .5-3.2 .4 2.5 .5 6.8 2.3 48.9 1.5 24.3 .7 8.6 .9 7 .8 4.4 .5 1.3 .4 .6 .4 0 .4-.5 .6-2.6 .6-4.7 .5-7.8 .9-20.1 1.7-56.5 .5-9.2 .4-3.3 .5 2.5 .5 6.9 2.3 49 1.4 23.1 .7 8.9 .9 7.3 .8 4.7 .9 2.2 .4 .2 .3-.4 .8-2.7 .6-4.6 .5-7.8 .9-19.9 1.7-56.6 .5-9.5 .4-3.5 .2 .3 .3 2.1 .5 6.7 2.2 49.1 1.5 23.2 .7 9 .9 7.4 .8 4.7 .9 2.3 .3 .2 .4-.3 .8-2.7 .5-4.4 .6-7.7 .9-19.5 1.8-59.3 .4-8.6 .2-1.8 .3-.8 .4 2 .5 6.6 2.2 49 1.4 23.5 .8 9 .9 7.6 .7 4.4 .9 2.6 .3 .4 .4-.1 .8-2.2 .6-4.7 .6-7.4 .9-21.9 1.7-56.7 .5-9.2 .5-3.1 .5 2.6 .4 7 2.2 47.4 1.4 23.7 .8 9.2 .8 7.6 .8 4.6 .8 2.8 .4 .4 .4-.1 .4-.6 .4-1.3 .6-4.6 .6-7 .9-21.3 1.8-59.3 .5-8.7 .2-1.7 .3-.8 .4 2.1 .4 6.6 2.2 47.3 1.4 24.1 1.5 16.4 .8 5 .7 2.9 .5 .9 .4 .1 .5-.5 .3-1.3 .7-4.2 .7-8.2 .9-21.8 1.7-56.8 .5-9.4 .5-3.3 .1 .3 .3 2.1 .5 6.9 2.1 45.5 1.2 21.7 1.3 16.2 1.4 9.5 .4 1.9 .6 1.2 .5 .2 .4-.6 .9-4.1 .7-7 1-22.3 1.8-59.5 .5-9.1 .4-3 .5 2.7 .5 7 3 62.9 1 13.3 .9 9.7" fill="none" stroke="#008000" stroke-width="1.3" stroke-linejoin="round" stroke-dasharray="1.1 0.9"/>
<path d="M44.7 430l.8-11.1 .3-1.8 .2-.1 .2 .5 .7 4.9 1.8 21.5 .8 6.7 .7 3.1 .7 1.9 .9 .8 .5-.1 .4-.4 .7-1.1 .7-1.9 1.1-5.5 1.1-9.1 2.1-21.7 .6-3.3 .3-.5 .1 .1 .4 1.4 .5 3.7 1.8 22.8 1 9.2 .7 3.4 .7 2 .7 1 .4 .2 .5-.2 .7-.9 .8-1.8 1.3-6.1 1.1-9.2 2.1-22.3 .6-3.6 .3-.7 .2 0 .3 1.3 .5 3.7 1.9 24.4 .9 8.6 .6 3.1 .7 2.3 .7 1.2 .4 .3 .5-.1 .8-.8 .8-1.8 .7-2.8 .7-3.7 1.1-9.4 2.1-22.9 .5-3.2 .5-1.1 .4 1.4 .5 3.8 1.8 23.9 1 9.8 .6 3.2 .7 2.3 .7 1.2 .4 .3 .5-.1 .8-.8 .8-1.7 .7-2.9 .7-3.6 1.1-9.4 2.1-23.5 .5-3.4 .5-1.3 .4 1.2 .5 3.8 1.9 25.5 .9 9 .6 3.3 .7 2.3 .7 1.4 .4 .2 .5 0 .8-.7 .9-1.9 .7-3 .7-3.7 1.1-9.6 2.1-23.9 .5-3.4 .5-1.2 .4 1.4 .5 3.9 1.8 24.8 1 10.2 .6 3.3 .7 2.3 .7 1.3 .4 .3 .5 0 .8-.8 .9-1.9 .7-2.9 .7-3.8 1.1-9.7 2.1-24.2 .5-3.5 .5-1.3 .4 1.3 .5 4 1.8 25.1 1 10.4 .6 3.3 .7 2.4 .7 1.4 .4 .3 .5 0 .8-.7 .9-1.9 .7-2.9 .7-3.7 1.2-10.7 2.1-24.4 .5-3.4 .3-1 .1-.1 .5 1.7 .5 4.3 1.8 25.5 .9 9.5 .6 3.5 .7 2.5 .7 1.5 .4 .3 .5 .1 .8-.7 .9-1.8 .7-2.7 .8-4.3 1.2-10.8 2-23.9 .5-3.7 .4-1.4 .5 1.3 .5 3.9 1.9 26.9 .9 9.5 .6 3.4 .7 2.5 .7 1.4 .4 .3 .5 .1 .9-.8 .9-1.9 .7-3 .7-3.8 1.2-10.9 2-24.1 .5-3.7 .4-1.5 .5 1.2 .5 4 1.9 27.1 .9 9.6 .6 3.5 .6 2.5 .8 1.5 .4 .3 .4 0 .5-.2 .5-.5 .8-1.9 .8-3 .7-3.7 1.2-10.9 2.1-25.2 .4-3.5 .3-1 .2-.1 .5 1.6 .5 4.4 1.8 26.2 .9 9.8 .6 3.6 .6 2.6 .8 1.5 .4 .3 .4 .1 .5-.2 .5-.6 .8-1.8 .8-2.8 .7-3.7 1.2-10.8 2.1-25.4 .4-3.8 .5-1.4 .5 1.5 .5 4.1 1.7 26.3 1.1 10.8 .6 3.5 .6 2.5 .8 1.4 .4 .3 .4 .1 .5-.2 .5-.6 .8-1.9 .8-2.9 .6-3.8 1.3-10.9 2-25.5 .5-3.7 .5-1.2 .5 1.6 .4 4.3 1.8 26.5 1 10 .5 3.7 .7 2.6 .8 1.6 .3 .3 .5 .1 .5-.1 .5-.5 .8-1.8 .8-2.8 .7-4.3 1.3-11 2-25.6 .5-3.6 .3-1.1 .2-.1 .5 1.6 .4 4.4 1.8 26.7 1 9.9 .5 3.7 .7 2.7 .8 1.5 .3 .3 .5 .2 .5-.2 .4-.5 .9-1.8 .8-2.8 .7-4.2 1.2-11.1 2.1-25.7 .5-3.7 .5-1.2 .4 1.6 .5 4.4 1.8 26.7 1 10.1 .5 3.7 .7 2.6 .7 1.6 .4 .3 .5 .2 .5-.2 .4-.5 .9-1.8 .7-2.7 .8-4.2 1.2-11 2.1-25.9 .5-3.7 .4-1.4 .5 1.6 .5 4.2 1.8 26.8 1 10.9 .6 3.6 .7 2.5 .7 1.4 .4 .3 .5 .1 .4-.2 .5-.6 .9-1.8 .7-2.9 .8-4.4 1.2-11.3 2-24.9 .5-3.9 .4-1.5 .5 1.3 .5 4.2 1.9 28 .9 9.9 .6 3.6 .6 2.6 .8 1.5 .4 .3 .5 .1 .4-.2 .5-.5 .8-1.8 .8-2.8 .8-4.3 1.2-11.1 2.1-26 .4-3.7 .3-1.1 .2-.1 .5 1.6 .5 4.5 1.8 26.9 .9 10.1 .6 3.8 .6 2.6 .8 1.6 .8 .5 .5-.2 .5-.4 .8-1.8 .8-2.7 .7-4.2 1.3-10.9 2.1-26.1 .4-3.9 .5-1.5 .5 1.3 .4 4.1 1.9 28.2 1 9.9 .5 3.7 .7 2.6 .8 1.5 .3 .3 .5 .1 .5-.2 .5-.5 .8-1.8 .8-2.7 .7-4.3 1.3-11.1 2-26.1 .5-3.8 .5-1.3 .5 1.5 .4 4.3 1.8 27.1 1.1 11 .5 3.5 .7 2.6 .7 1.4 .4 .3 .5 .1 .5-.2 .4-.5 .9-1.8 .7-2.8 .8-4.4 1.2-11.2 2.1-26.1 .5-3.7 .3-1 .2-.2 .4 1.7 .5 4.5 1.8 27.1" fill="none" stroke="#0000ff" stroke-width="1.15" stroke-linejoin="round" stroke-dasharray="4.4 2.3"/>
<path d="M44.7 442.3l1.1 .9 1.2 1.6 4.6 9.3 1 1.4 1.2 .9 1.4 .4 3.1-.1 1.6 .3 1.6 .7 3.6 2.2 2 .7 1.6 .2 5.2-.1 7 1.3 6.6-.1 7 .6 7.1-.1 7.1 .3 28.1 .3 191.4 .1" fill="none" stroke="#ff0000" stroke-width="1.2" stroke-linejoin="round" />
<text transform="translate(187.35,490.7) scale(0.92,1)" font-size="11.8" text-anchor="middle" font-weight="normal" fill="#222" >t</text>
<text transform="translate(10.2,401.4) rotate(-90)" font-size="10.7" text-anchor="middle" fill="#1a1a1a">Populations</text>
<text transform="translate(24.6,404.1) rotate(-90)" font-size="10.7" text-anchor="middle" fill="#1a1a1a">(S ,I &amp; P)</text>
<text x="11.6" y="346" font-size="16" text-anchor="start" font-weight="bold" fill="#111" >(e)</text>
<text transform="translate(270.6,358.2) scale(0.9,1)" font-size="10" text-anchor="middle" font-weight="normal" fill="#222" >S</text>
<text transform="translate(265.6,458.4) scale(0.9,1)" font-size="10" text-anchor="middle" font-weight="normal" fill="#222" >I</text>
<text x="71.9" y="460" font-size="8.5" text-anchor="middle" font-weight="normal" fill="#222" >P</text>
<rect x="345.5" y="442" width="26.2" height="21.5" fill="#fff" stroke="#444" stroke-width="0.9"/>
<text transform="translate(358.9,455.65) scale(0.92,1)" font-size="10.2" text-anchor="middle" fill="#111"><tspan font-family="Liberation Serif" font-style="italic" font-size="10.5" fill="#333">&#964;</tspan> <tspan font-weight="bold" fill="#777">=</tspan> 1</text>
<line x1="521.7" y1="124" x2="428.25" y2="55.15" stroke="#dcdcdc" stroke-width="0.8" />
<line x1="428.25" y1="55.15" x2="428.25" y2="36.85" stroke="#dcdcdc" stroke-width="0.8" />
<line x1="559.5" y1="117.2" x2="466.05" y2="48.35" stroke="#dcdcdc" stroke-width="0.8" />
<line x1="466.05" y1="48.35" x2="466.05" y2="30.05" stroke="#dcdcdc" stroke-width="0.8" />
<line x1="597.3" y1="110.4" x2="503.85" y2="41.55" stroke="#dcdcdc" stroke-width="0.8" />
<line x1="503.85" y1="41.55" x2="503.85" y2="23.25" stroke="#dcdcdc" stroke-width="0.8" />
<line x1="635.1" y1="103.6" x2="541.65" y2="34.75" stroke="#dcdcdc" stroke-width="0.8" />
<line x1="541.65" y1="34.75" x2="541.65" y2="16.45" stroke="#dcdcdc" stroke-width="0.8" />
<line x1="452.75" y1="107.85" x2="641.75" y2="73.85" stroke="#dcdcdc" stroke-width="0.8" />
<line x1="641.75" y1="73.85" x2="641.75" y2="55.55" stroke="#dcdcdc" stroke-width="0.8" />
<line x1="421.6" y1="84.9" x2="610.6" y2="50.9" stroke="#dcdcdc" stroke-width="0.8" />
<line x1="610.6" y1="50.9" x2="610.6" y2="32.6" stroke="#dcdcdc" stroke-width="0.8" />
<path d="M390.4 43.7l189-34 93.5 68.8" fill="none" stroke="#dcdcdc" stroke-width="0.8" stroke-linejoin="round" />
<path d="M390.4 62l189-34 93.5 68.8" fill="none" stroke="#dcdcdc" stroke-width="0.8" stroke-linejoin="round" />
<line x1="579.45" y1="27.95" x2="579.45" y2="9.65" stroke="#dcdcdc" stroke-width="0.8" />
<line x1="672.9" y1="96.8" x2="672.9" y2="78.5" stroke="#dcdcdc" stroke-width="0.8" />
<path d="M622.3 42l-28.6-4.2-27.2-3-12.8-1.1-12.3-.8-11.5-.5-10.9-.2-10.2 0-9.3 .4-8.6 .6-7.9 .8-7.1 1.2-6.3 1.3-5.6 1.6-5 1.7-4.3 2-3.7 2-3.2 2.2-2.6 2.3-2.2 2.4-1.8 2.4-1.3 2.5-1 2.5-.7 2.5-.4 2.5-.1 4.8 .6 4.7 .6 2.2 1.5 4.2 2 3.9 1.2 1.8 2.5 3.4 2.9 3 1.6 1.4 3.4 2.4 3.8 2.2 2 .9 4.4 1.6 5 1.2 5.6 .8 6.3 .5 7.1 .1 7.9-.4 8.8-.7 9.6-1.1 15.6-2.3 16.3-3 10.7-2.3 9.8-2.5 8.5-2.6 6.7-2.6 2.5-1.3 1.9-1.3 1.2-1.3 .6-1.3-.1-1.3-.8-1.2-1.5-1.2-2.1-1.3-2.8-1.2-7.4-2.3-4.4-1.2-10.3-2.2-11.5-2.1-12.3-1.9-18.8-2.3-17.7-1.2-10.7-.2-4.9 .2-4.6 .3-8.1 1-3.6 .7-6.1 1.8-2.6 1.1-4.3 2.4-3.2 2.7-2.3 2.9-1.4 3-.7 3-.1 2.9 .7 4.3 1.1 2.6 2.2 3.7 3.1 3.1 2.4 1.9 4.4 2.3 3.4 1.3 5.9 1.4 4.5 .6 5 .4 5.5 0 6-.2 6.4-.5 10.4-1.2 7.2-1.1 10.7-2.1 6.7-1.7 6-1.7 5.1-1.9 3.9-1.9 1.4-1 1-1 .6-1 .2-1-.2-1-.6-1-1-.9-1.4-1-1.8-1-4.6-1.9-9.2-2.7-10.8-2.4-11.7-1.9-11.4-1.2-10.5-.4-9 .6-2.7 .3-4.7 1-2.1 .6-3.6 1.5-2.9 1.6-2.3 1.9-1.7 1.9-1.2 2.1-.7 2-.3 3 .3 1.9 1.1 2.7 1.9 2.4 1.6 1.4 3.1 1.9 2.5 1.1 4.5 1.2 3.4 .6 7.9 .5 9.3-.2 7.6-.7 5.2-.7 7.7-1.3 4.7-1.1 4.3-1.3 3.7-1.3 2.9-1.4 1.9-1.4 .9-1.5 0-.8-.2-.8-.5-.7-1.7-1.5-4.4-2.2-6-2.1-7.3-1.7-7.7-1.4-7.6-.8-7.2-.3-6.3 .4-5.3 .9-3 .9-2.5 1-2.1 1.2-1.7 1.4-1.3 1.4-.9 1.4-.6 1.4-.4 2.1 .3 2 .6 1.3 1.4 1.7 1.3 1 3.6 1.7 3.4 .9 2.7 .5 6.2 .4 9.1-.2 7.7-.8 8.9-1.8 5.5-1.9 1.9-1 1.2-1.1 .6-1.1-.2-1.1-.4-.6-1.3-1.2-3.1-1.6-4.1-1.5-5-1.3-5.3-1-5.3-.6-5-.2-4.5 .2-3.8 .7-4.2 1.3-3 1.8-1.1 1-1.2 1.5-.8 2 0 1.5 .4 .9 .9 1.3 .9 .7 2.7 1.3 4.7 1.1 4.8 .4 6.9-.2 5.8-.5 6.4-1.3 3.9-1.4 1.4-.7 .8-.8 .3-.9-.2-.8-1.2-1.3-2.1-1.3-3-1.1-3.5-1-3.7-.7-3.7-.5-3.5-.1-3.3 .2-2.8 .4-3.2 1-2.3 1.2-2 1.9-.8 1.8 .2 1.4 .6 .9 .7 .6 1.9 .9 3.6 .8 3.7 .3 5.2 0 4.3-.4 4.7-.9 2.8-1 1-.6 .6-.6 .2-.6-.2-.7-.5-.6-1.3-1-1.9-.8-2.4-.8-5.3-1-5-.2-2.2 .3-2.5 .6-1.9 .9-1.8 1.2-.9 1.4-.1 1 .7 1.2 1.3 .7 2.5 .7 2.6 .3 3.9 .1 3.2-.2 3.7-.6 2.2-.7 1.4-.9 .3-.4 0-.5-.4-.7-1-.7-3.1-1.3-3.8-.7-3.6-.2-3.1 .5-2.2 1-1.6 1.3-.4 .8 .1 .6 .6 .8 1 .5 3.6 .7 5.3-.1 2.7-.5 1.7-.5 1-.6 .2-.5-.1-.5-.9-.8-1.4-.6-1.7-.5-1.9-.4-2.2-.1-2.4 .3-1.8 .6-1.3 1-.5 1 .3 .7 .7 .4 2.5 .5 3.9 0 3.5-.6 .9-.4 .3-.4-.1-.4-.5-.5-2.1-1-3-.4-1.9 .1-1.4 .5-1.1 .7-.5 .8 .2 .5 .5 .3 1.8 .5 3 0 2.6-.5 .9-.6 0-.3-.4-.4-1.5-.7-2.3-.3-1.4 .1-1 .3-.9 .5-.4 .6 .1 .4 .4 .2 1.3 .4 2.3 0 1.9-.3 .7-.5-.2-.5-1.2-.6-1.7-.2-1.9 .3-.6 .4-.3 .5 .4 .4 1.1 .3 1.7 0 1.4-.3 .5-.3-.2-.5-1-.4-1.2-.1-1.5 .3-.5 .3-.1 .3 .4 .4 .9 .1 2.3-.2 .3-.3-.2-.3-1.8-.4-1 .2-.5 .6 .4 .2 .7 .1 1.7-.2 .3-.2-.3-.3-1.3-.3-.9 .3-.2 .4 .9 .2 1.3-.1 .1-.2-.2-.2-1.1-.2-.6 .2-.2 .3 .8 .2 1-.2 .1-.1-.2-.2-.8-.2-.6 .2-.1 .3 .6 .1 .8-.1-.1-.3-.6-.1-.5 .1 0 .3 1.1 0-.1-.3-.5 0-.4 .1 0 .2 .9 0 0-.2-.5-.1-.4 .3 .9-.1-.5-.2-.3 .3 .7-.1-.4-.2-.3 .2 .7 0-.4-.2-.3 .2 .7 0-.4-.2-.2 .2 .6 0-.4-.1-.2 .1 .6 0-.4-.1-.2 .1 .5 0-.3-.1-.2 .1 .5 0-.3-.1-.2 .1 .5 0-.3-.1-.2 .1 .5 0-.3-.1-.2 .1 .5 0-.3-.1-.2 .1 .5 0-.3-.1-.2 .1 .5 0-.3-.1-.2 .1 .5 0-.3-.1-.2 .1 .5 0-.3-.1-.2 .1 .5 0-.3-.1-.2 .1 .5 0-.3-.1-.2 .1 .5 0-.3-.1-.2 .1 .5 0-.3-.1-.2 .1 .5 0-.3-.1-.2 .1 .5 0-.3-.1-.2 .1 .5 0-.3-.1-.2 .1 .5 0-.3-.1-.2 .1 .5 0-.3-.1-.2 .1 .5 0-.3-.1-.2 .1 .5 0-.3-.1-.2 .1 .5 0-.3-.1-.2 .1 .5 0-.3-.1-.2 .1 .5 0-.3-.1-.2 .1 .5 0-.3-.1-.2 .1 .5 0-.3-.1-.2 .1 .5 0-.3-.1-.2 .1 .5 0-.3-.1-.2 .1 .5 0-.3-.1-.2 .1 .5 0-.3-.1-.2 .1 .5 0-.3-.1-.2 .1 .5 0-.3-.1-.2 .1 .5 0-.3-.1-.2 .1 .5 0-.3-.1-.2 .1 .5 0-.3-.1-.2 .1 .5 0-.3-.1-.2 .1 .5 0-.3-.1-.2 .1 .5 0-.3-.1-.2 .1 .5 0-.3-.1-.2 .1 .5 0-.3-.1-.2 .1 .5 0-.3-.1-.2 .1 .5 0-.3-.1-.2 .1 .5 0-.3-.1-.2 .1 .5 0-.3-.1-.2 .1 .5 0-.3-.1-.2 .1 .5 0-.3-.1-.2 .1 .5 0-.3-.1-.2 .1 .5 0-.3-.1-.2 .1 .5 0-.3-.1-.2 .1 .5 0-.3-.1-.2 .1 .5 0-.3-.1-.2 .1 .5 0-.3-.1-.2 .1 .5 0-.3-.1-.2 .1 .5 0-.3-.1-.2 .1 .5 0-.3-.1-.2 .1 .5 0-.3-.1-.2 .1 .5 0-.3-.1-.2 .1 .5 0-.3-.1-.2 .1 .5 0-.3-.1-.2 .1 .5 0-.3-.1-.2 .1 .5 0-.3-.1-.2 .1 .5 0" fill="none" stroke="#ff0000" stroke-width="0.8" stroke-linejoin="round" />
<path d="M390.4 43.7l0 18.3 93.5 68.8 189-34" fill="none" stroke="#333" stroke-width="0.9" stroke-linejoin="round" />
<line x1="483.9" y1="130.8" x2="487.76" y2="133.65" stroke="#333" stroke-width="0.9" />
<line x1="521.7" y1="124" x2="525.56" y2="126.85" stroke="#333" stroke-width="0.9" />
<line x1="559.5" y1="117.2" x2="563.36" y2="120.05" stroke="#333" stroke-width="0.9" />
<line x1="597.3" y1="110.4" x2="601.16" y2="113.25" stroke="#333" stroke-width="0.9" />
<line x1="635.1" y1="103.6" x2="638.96" y2="106.45" stroke="#333" stroke-width="0.9" />
<line x1="672.9" y1="96.8" x2="676.76" y2="99.65" stroke="#333" stroke-width="0.9" />
<line x1="483.9" y1="130.8" x2="478.76" y2="131.72" stroke="#333" stroke-width="0.9" />
<line x1="452.75" y1="107.85" x2="447.61" y2="108.77" stroke="#333" stroke-width="0.9" />
<line x1="421.6" y1="84.9" x2="416.46" y2="85.82" stroke="#333" stroke-width="0.9" />
<line x1="390.45" y1="61.95" x2="385.31" y2="62.87" stroke="#333" stroke-width="0.9" />
<line x1="390.45" y1="61.95" x2="385.47" y2="58.28" stroke="#333" stroke-width="0.9" />
<line x1="390.45" y1="43.65" x2="385.47" y2="39.98" stroke="#333" stroke-width="0.9" />
<text x="490.9" y="150.1" font-size="9" text-anchor="start" font-weight="normal" fill="#333" >0.5</text>
<text x="528.7" y="143.3" font-size="9" text-anchor="start" font-weight="normal" fill="#333" >1</text>
<text x="566.5" y="136.5" font-size="9" text-anchor="start" font-weight="normal" fill="#333" >1.5</text>
<text x="604.3" y="129.7" font-size="9" text-anchor="start" font-weight="normal" fill="#333" >2</text>
<text x="642.1" y="122.9" font-size="9" text-anchor="start" font-weight="normal" fill="#333" >2.5</text>
<text x="679.9" y="116.1" font-size="9" text-anchor="start" font-weight="normal" fill="#333" >3</text>
<text x="477.1" y="146.2" font-size="9" text-anchor="end" font-weight="normal" fill="#333" >0</text>
<text x="445.95" y="123.25" font-size="9" text-anchor="end" font-weight="normal" fill="#333" >0.5</text>
<text x="414.8" y="100.3" font-size="9" text-anchor="end" font-weight="normal" fill="#333" >1</text>
<text x="383.65" y="77.35" font-size="9" text-anchor="end" font-weight="normal" fill="#333" >1.5</text>
<text x="384.65" y="62.35" font-size="9" text-anchor="end" font-weight="normal" fill="#333" >0</text>
<text x="384.65" y="44.05" font-size="9" text-anchor="end" font-weight="normal" fill="#333" >0.5</text>
<text transform="translate(365.6,54) rotate(-90)" font-size="10" text-anchor="middle" fill="#222">P</text>
<text x="420.6" y="119.4" font-size="9.6" text-anchor="middle" font-weight="normal" fill="#333" >I</text>
<text x="593.7" y="143.5" font-size="10.5" text-anchor="middle" font-weight="normal" fill="#222" >S</text>
<text x="373.2" y="28.1" font-size="16" text-anchor="end" font-weight="bold" fill="#111">(b)</text>
<line x1="520.25" y1="292.8" x2="427.1" y2="220.65" stroke="#dcdcdc" stroke-width="0.8" />
<line x1="427.1" y1="220.65" x2="427.1" y2="204.15" stroke="#dcdcdc" stroke-width="0.8" />
<line x1="558.5" y1="285.7" x2="465.35" y2="213.55" stroke="#dcdcdc" stroke-width="0.8" />
<line x1="465.35" y1="213.55" x2="465.35" y2="197.05" stroke="#dcdcdc" stroke-width="0.8" />
<line x1="596.75" y1="278.6" x2="503.6" y2="206.45" stroke="#dcdcdc" stroke-width="0.8" />
<line x1="503.6" y1="206.45" x2="503.6" y2="189.95" stroke="#dcdcdc" stroke-width="0.8" />
<line x1="635" y1="271.5" x2="541.85" y2="199.35" stroke="#dcdcdc" stroke-width="0.8" />
<line x1="541.85" y1="199.35" x2="541.85" y2="182.85" stroke="#dcdcdc" stroke-width="0.8" />
<line x1="450.95" y1="275.85" x2="642.2" y2="240.35" stroke="#dcdcdc" stroke-width="0.8" />
<line x1="642.2" y1="240.35" x2="642.2" y2="223.85" stroke="#dcdcdc" stroke-width="0.8" />
<line x1="419.9" y1="251.8" x2="611.15" y2="216.3" stroke="#dcdcdc" stroke-width="0.8" />
<line x1="611.15" y1="216.3" x2="611.15" y2="199.8" stroke="#dcdcdc" stroke-width="0.8" />
<path d="M388.8 211.2l191.3-35.5 93.1 72.2" fill="none" stroke="#dcdcdc" stroke-width="0.8" stroke-linejoin="round" />
<path d="M388.8 227.7l191.3-35.5 93.1 72.2" fill="none" stroke="#dcdcdc" stroke-width="0.8" stroke-linejoin="round" />
<line x1="580.1" y1="192.25" x2="580.1" y2="175.75" stroke="#dcdcdc" stroke-width="0.8" />
<line x1="673.25" y1="264.4" x2="673.25" y2="247.9" stroke="#dcdcdc" stroke-width="0.8" />
<path d="M622.8 209.5l-24-2.4-23.2-1.4-21.8-.6-20.2 .2-18 .9-15.9 1.8-7.1 1.1-6.5 1.3-5.9 1.4-5.4 1.6-4.9 1.7-4.4 1.8-3.9 1.9-3.4 1.9-3 2.1-2.7 2.1-2.2 2.1-1.9 2.2-1.6 2.1-2.4 4.3-1.3 4.2-.6 4 .2 3.9 .3 1.8 .9 3.5 1.5 3.1 .9 1.5 2.1 2.8 2.6 2.4 1.4 1.2 3.2 2 3.7 1.6 2 .8 4.5 1.2 8.1 1.1 6.3 .3 7.3-.1 8.2-.5 14.3-1.4 10.7-1.5 11.6-1.9 12.2-2.2 12.4-2.5 12.1-2.8 11.3-2.9 10-2.9 7.9-3 3.1-1.4 2.4-1.4 1.7-1.4 .9-1.3 .2-1.3-.5-1.2-1.4-1.2-2.1-1.2-2.8-1.1-7.5-2.1-4.7-1-10.9-1.8-12.3-1.7-13.4-1.4-20.6-1.4-19.9-.6-12.2 .2-5.7 .3-5.4 .4-9.8 1.3-4.4 .8-7.7 1.9-6.5 2.3-5.1 2.6-4.1 2.9-3 2.9-2.2 3-1.5 3.1-.4 1.4-.4 3 0 1.4 .4 2.8 1.4 3.8 2.4 3.4 3.3 3 4.2 2.4 5.2 1.9 4.1 1 7.3 .8 5.7 .2 6.4-.1 7.2-.4 12.4-1.3 9.2-1.3 20-3.6 10.3-2.2 10-2.3 9.3-2.6 8.1-2.5 6.5-2.6 2.5-1.3 2-1.3 1.3-1.2 .8-1.3 .2-1.2-.5-1.1-1-1.2-1.7-1.1-2.3-1.1-6.1-2-3.8-1-8.8-1.9-15.5-2.5-11.2-1.3-11.4-1-16.7-.9-15.1 .2-4.6 .3-8.3 .9-3.8 .6-6.7 1.5-5.6 2-4.6 2.2-3.5 2.4-2.7 2.7-2 2.7-.7 1.3-.9 2.7-.4 2.7 .4 3.8 1.4 3.6 2.2 3.1 3.1 2.8 4 2.2 4.9 1.8 3.9 .9 6.9 .8 5.4 .2 6-.1 6.8-.4 11.4-1.2 8.4-1.2 18.1-3.2 9.3-2 8.9-2.2 8.2-2.3 7.2-2.4 5.6-2.4 2.2-1.2 1.7-1.2 1.2-1.1 .6-1.2 .1-1.1-.4-1.2-1-1.1-1.5-1-2-1.1-5.5-2-3.4-1-7.9-1.9-13.9-2.4-10-1.3-10.3-1.1-15-.9-13.8 .1-4.1 .2-7.7 .8-3.5 .6-6.2 1.4-5.2 1.8-4.3 2.1-3.4 2.2-2.6 2.5-1.8 2.5-.7 1.3-1 2.5-.4 2.5 .2 3.6 1.3 3.3 2.1 3 2.9 2.6 3.8 2.2 4.8 1.6 3.8 .9 6.6 .7 5.2 .2 5.8-.1 6.4-.4 10.9-1.1 8-1.1 17.1-3.1 8.6-1.8 8.3-2.1 7.7-2.1 6.6-2.3 5.2-2.3 3.6-2.3 1.1-1.1 .6-1.1 .1-1.1-.5-1.1-.9-1.1-1.4-1-1.9-1-5.1-2-10.5-2.7-12.9-2.4-14.3-1.9-14.3-1.1-13.4-.3-11.9 .7-3.5 .4-6.4 1.2-5.5 1.5-4.6 1.8-3.8 2.1-2.9 2.2-2.3 2.4-.8 1.2-1.3 2.5-.5 1.2-.5 2.4 .2 3.4 1 3.2 2 2.9 2.8 2.5 3.6 2 4.7 1.7 3.7 .7 6.5 .8 5.1 .2 5.7-.1 6.3-.4 10.6-1.1 7.8-1.1 16.6-3 8.3-1.8 8.1-2 7.3-2.1 6.4-2.2 5-2.2 3.4-2.2 1-1.1 .6-1.1 .1-1.1-.4-1-.9-1.1-1.4-1-1.8-1-4.9-1.9-10.1-2.7-12.5-2.3-13.7-1.7-13.8-1.1-12.9-.3-11.5 .7-3.5 .4-6.2 1.2-5.3 1.4-4.6 1.8-3.6 2-3 2.1-2.2 2.3-.9 1.2-1.4 2.3-1 3.5 .1 3.3 .9 3.1 1.9 2.8 2.7 2.4 3.6 2 4.5 1.6 3.6 .7 6.5 .7 5 .2 5.5-.1 6.2-.4 10.5-1.1 7.5-1.1 16.2-2.8 15.8-3.7 7.2-2.1 6.1-2.1 4.8-2.2 3.2-2.1 1-1.1 .5-1.1 .1-1-.4-1-.9-1-1.3-1-1.8-1-4.7-1.9-9.8-2.5-12-2.3-13.2-1.7-13.3-1-12.6-.2-11.1 .6-3.4 .4-6 1.1-5.3 1.5-4.4 1.7-3.6 1.9-2.9 2.1-2.3 2.2-.9 1.1-1.3 2.3-1.1 3.3-.1 3.3 .9 3 1.8 2.6 2.6 2.4 3.5 1.9 4.5 1.5 3.5 .8 6.4 .7 4.9 .1 5.5-.1 6.1-.4 10.2-1 7.4-1.1 15.7-2.8 15.4-3.6 6.9-2 5.8-2.1 4.7-2.1 3.1-2.1 .9-1 .5-1.1 0-1-.4-1-.8-1-1.3-.9-1.7-1-4.6-1.8-9.5-2.5-11.6-2.2-12.8-1.6-12.8-1-12.2-.2-10.8 .6-6.3 .9-5.6 1.2-4.7 1.6-3.9 1.7-3.3 2-2.5 2.1-2 2.2-1.9 3.3-.6 2.1-.1 3.1 .8 3 1.7 2.6 2.5 2.2 3.5 1.9 4.4 1.5 3.5 .7 6.2 .7 4.8 .1 11.4-.4 10.1-1.1 7.2-1 15.3-2.8 15-3.5 6.6-1.9 5.7-2.1 4.5-2 3-2.1 .8-1 .5-1 0-1-.4-1-.8-.9-1.3-1-1.7-.9-4.5-1.8-9.1-2.4-11.3-2.1-12.3-1.6-12.5-1-11.8-.2-10.5 .7-6.2 .8-5.4 1.2-4.6 1.5-3.9 1.7-3.2 1.9-2.6 2.1-1.9 2.1-1.9 3.2-.7 2.1-.2 3 .8 2.9 1.6 2.5 2.5 2.2 3.4 1.9 4.3 1.4 3.5 .7 6.1 .7 4.8 .1 11.2-.5 9.8-1 7.1-1 15-2.7 14.5-3.4 6.5-1.9 5.5-2 4.3-2 2.8-2 .9-1 .4-1 0-1-.4-.9-.9-1-1.2-.9-3.6-1.8-2.4-.8-5.6-1.7-10.4-2.1-11.7-1.8-12.2-1.1-11.8-.5-10.7 .4-9.3 1.1-5.2 1.2-4.6 1.5-3.8 1.6-3.2 1.9-2.5 1.9-2.7 3.1-1.6 3.2-.5 3 .4 2.8 1.3 2.6 2.1 2.3 3 1.9 4 1.6 3.2 .8 5.6 .8 4.5 .2 10.5-.2 9.2-.8 6.8-.9 14.5-2.4 14.4-3.2 6.6-1.8 5.8-1.9 4.8-1.9 3.5-2 1.2-1 .8-1 .4-.9-.1-1-.4-.9-.8-1-1.2-.9-3.6-1.7-7.8-2.5-10-2.1-11.4-1.7-11.9-1.1-11.4-.4-10.4 .3-9.1 1.2-5.1 1.1-4.5 1.4-3.8 1.6-3.1 1.8-2.5 2-2.7 3-1.6 3-.5 3 .3 2.8 1.2 2.5 2.1 2.2 3 1.9 3.9 1.5 3.1 .8 5.6 .8 4.4 .2 10.3-.2 9.2-.8 6.6-.8 14.2-2.4 14-3.1 6.5-1.8 5.6-1.8 4.6-1.9 3.4-2 1.1-.9 .7-1 .4-.9 0-1-.4-.9-.8-.9-1.2-.9-3.5-1.7-7.6-2.4-9.8-2.1-11.1-1.7-11.5-1-11.1-.5-10.2 .4-8.8 1.1-5.1 1.1-4.4 1.4-3.7 1.6-3.1 1.7-2.5 1.9-2.7 3-1.5 2.9-.6 2.9 .3 2.8 1.2 2.4 2 2.2 2.9 1.9 3.8 1.5 3.1 .7 5.6 .8 4.3 .2 10.2-.2 9-.7 6.5-.9 13.8-2.3 13.8-3 6.2-1.8 5.5-1.8 4.5-1.9 3.2-1.9 1.1-.9 .7-.9 .4-1-.1-.9-.4-.9-.8-.9-1.2-.9-3.4-1.7-7.4-2.3-9.5-2.1-10.8-1.6-11.2-1-10.9-.4-9.9 .3-5.9 .7-5.3 .9-4.7 1.2-3.9 1.5-3.4 1.6-2.7 1.8-2.2 1.9-2.3 2.9-1 1.9-.6 2.9 .3 2.6 1.1 2.5 2 2.1 2.9 1.8 3.8 1.5 3 .7 5.5 .8 4.3 .2 10.1-.2 8.8-.7 6.4-.8 13.6-2.3 13.4-3 6-1.7 5.3-1.8 4.3-1.8 3.1-1.8 1.1-1 .7-.9 .3-.9-.1-.9-.4-.9-.8-.9-1.1-.8-3.4-1.7-7.2-2.3-9.3-2-10.5-1.6-11-1.1-10.5-.4-9.7 .4-5.8 .6-5.2 .9-4.5 1.2-3.9 1.4-3.3 1.6-2.7 1.8-2.1 1.8-2.3 2.9-1 1.9-.6 2.8 .2 2.6 1.1 2.4 2 2.1 2.8 1.8 3.8 1.4 3 .8 5.4 .7 4.2 .2 9.9-.2 8.7-.7 6.3-.8 13.3-2.2 13-2.9 5.9-1.7 5.2-1.7 4.2-1.8 2.9-1.8 1-.9 .7-.9 .3-.9-.1-.9-.4-.9-.8-.9-1.1-.8-3.3-1.7-7.1-2.3-9.1-1.9-10.2-1.6-10.7-1.1-10.3-.3-9.4 .3-5.7 .6-5 .9-4.5 1.2-3.8 1.4-3.2 1.5-2.7 1.8-2.1 1.8-2.3 2.8-.9 1.8-.7 2.8 .3 2.5 1 2.4 2 2.1 2.7 1.7 3.7 1.4 3 .8 5.4 .7 4.1 .2 9.8-.1 8.6-.8 6.1-.7 13-2.2 12.8-2.9 5.7-1.6 5-1.7 4-1.7 2.9-1.8 .9-.9 .7-.9 .2-.9-.1-.9-.4-.8-.8-.9-1.1-.8-3.2-1.6-6.9-2.3-8.9-2-10-1.5-10.4-1.1-10-.3-9.3 .3-5.5 .6-4.9 .9-4.4 1.1-3.7 1.4-3.2 1.5-2.6 1.7-2.1 1.8-2.3 2.7-.9 1.8-.7 2.7 .2 2.6 1.1 2.3 1.9 2 2.7 1.8 3.7 1.4 2.9 .7 5.3 .7 4.1 .2 9.7-.1 8.4-.7 6-.8 12.8-2.1 12.4-2.8 5.6-1.6 4.8-1.7 3.9-1.7 2.8-1.7 .9-.9 .6-.9 .2-.9-.1-.8-.4-.9-.8-.8-1.1-.8-3.1-1.6-6.8-2.3-8.7-1.9-9.7-1.6-10.1-1-9.9-.3-9 .3-5.4 .5-4.8 .9-4.3 1.1-3.7 1.4-3.1 1.5-2.6 1.6-2 1.8-2.3 2.7-.9 1.8-.7 2.6 .2 2.5 1 2.3 1.9 2 2.7 1.7 3.6 1.4 2.9 .7 5.3 .7 4 .2 9.5-.1 8.3-.7 6-.7 12.4-2.1 12.2-2.8 5.4-1.5 4.7-1.7 3.8-1.6 2.6-1.8 .9-.8 .6-.9 .2-.8-.1-.9-.5-.8-.7-.9-1.1-.8-3.1-1.6-6.7-2.2-8.4-1.9-9.5-1.5-9.9-1-9.6-.4-8.8 .3-5.3 .6-4.7 .8-4.2 1.1-3.6 1.4-3.1 1.4-2.5 1.7-2.1 1.7-2.2 2.6-.9 1.8-.7 2.6 .2 2.4 1 2.3 1.8 1.9 2.7 1.7 3.5 1.4 2.9 .7 5.2 .7 4 .2 9.4-.1 8.1-.7 5.9-.7 12.2-2 11.8-2.7 5.3-1.5 4.6-1.6 3.6-1.7 2.6-1.7 .9-.9 .5-.8 .2-.8-.1-.9-.5-.8-.8-.8-1-.8-3.1-1.6-6.5-2.2-8.2-1.9-9.3-1.5-9.7-.9-9.4-.4-8.6 .3-5.1 .5-4.7 .9-4.1 1-3.5 1.3-3 1.5-2.5 1.6-2 1.6-2.2 2.6-1 1.8-.6 2.5 .1 2.4 1 2.2 1.8 2 2.6 1.7 3.6 1.3 2.8 .7 5.1 .7 4 .2 9.2-.1 8.1-.7 5.7-.7 12-1.9 11.5-2.7 5.2-1.5 4.4-1.5 3.6-1.7 2.4-1.6 .8-.9 .5-.8 .2-.8-.1-.9-.5-.8-.7-.8-1.1-.8-3-1.5-6.3-2.2-8.1-1.8-9.1-1.5-9.4-1-9.2-.4-8.4 .3-5.1 .6-4.5 .8-4 1-3.5 1.3-3 1.4-2.4 1.6-2 1.6-2.2 2.6-.9 1.7-.7 2.5 .2 2.4 .9 2.1 1.8 2 2.6 1.6 3.5 1.3 2.8 .7 5.1 .7 3.9 .2 9.1-.1 7.9-.6 5.6-.7 11.8-1.9 11.3-2.6 5-1.5 4.3-1.5 3.4-1.7 2.4-1.6 1.2-1.6 .2-.8-.1-.9-.5-.8-.8-.8-1-.7-2.9-1.6-6.3-2.1-7.9-1.8-8.9-1.5-9.2-1-8.9-.3-8.3 .2-4.9 .6-4.5 .8-3.9 1-3.4 1.2-2.9 1.4-2.4 1.6-2 1.6-2.2 2.5-.9 1.7-.7 2.4 .2 2.4 .9 2.1 1.8 1.9 2.5 1.7 3.5 1.3 2.8 .6 5 .7 3.8 .3 9-.2 7.8-.6 5.5-.7 11.5-1.9 11.1-2.5 4.9-1.4 4.2-1.5 3.3-1.6 2.3-1.6 1.2-1.7 .1-.8-.1-.8-1.2-1.5-1.1-.8-2.9-1.5-6.1-2.1-7.7-1.8-8.7-1.5-9-.9-8.7-.4-8.1 .2-4.8 .6-4.4 .8-3.9 1-3.3 1.2-2.9 1.4-2.4 1.5-1.9 1.6-2.1 2.4-.9 1.7-.7 2.4 .1 2.3 .9 2.1 1.7 1.9 1.6 1.1 3.2 1.4 2.5 .7 4.6 .9 3.6 .3 8.5 .1 7.4-.5 5.3-.6 11.2-1.6 11.1-2.4 5-1.3 4.4-1.5 3.7-1.5 2.7-1.6 1.7-1.6 .4-.8 .2-.8-.2-.8-.5-.7-.7-.8-2.3-1.5-5.4-2.2-7.1-1.9-8.2-1.6-8.8-1.1-8.7-.5-8.1 0-5 .4-4.5 .6-4 .9-3.6 1.1-3 1.3-2.6 1.4-2.1 1.5-2.4 2.4-1.1 1.7-1 2.4-.1 2.3 .6 2.1 1.5 2 2.2 1.6 3.1 1.4 2.5 .8 4.6 .8 3.5 .3 8.4 .1 7.3-.5 5.2-.5 11-1.7 10.8-2.3 4.9-1.3 4.3-1.4 3.6-1.5 2.6-1.6 1.7-1.5 .3-.8 .2-.8-.2-.8-.5-.7-.7-.8-2.3-1.5-5.2-2.1-7-1.9-8.1-1.6-8.5-1.1-8.5-.5-8 0-4.9 .4-4.4 .6-3.9 .9-3.5 1.1-3 1.2-2.5 1.4-2.1 1.5-2.4 2.4-1.1 1.6-1 2.3-.1 2.3 .6 2.1 1.4 1.9 2.2 1.7 3.1 1.4 2.5 .7 4.5 .8 3.5 .3 8.3 .1 7.1-.4 5.2-.6 10.8-1.6 10.5-2.2 4.8-1.3 4.2-1.4 3.5-1.5 2.6-1.5 1.5-1.6 .4-.7 .1-.8-.2-.8-.5-.8-.7-.7-2.2-1.5-5.2-2.1-6.8-1.9-7.9-1.5-8.4-1.1-8.3-.5-7.8 0-4.8 .4-4.3 .6-3.9 .8-3.4 1.1-3 1.2-2.5 1.4-2 1.5-2.4 2.3-1.1 1.6-.9 2.3-.2 2.3 .6 2.1 1.4 1.9 2.2 1.6 3 1.3 2.5 .8 4.5 .8 3.4 .3 8.2 .1 7.1-.5 5.1-.5 10.7-1.6 10.4-2.2 4.7-1.3 4.2-1.4 3.4-1.4 2.5-1.5 1.5-1.5 .4-.8 .1-.8-.2-.7-.5-.8-.7-.8-2.2-1.4-5.1-2.1-6.7-1.9-7.8-1.5-8.3-1.1-8.2-.5-7.8 0-4.7 .4-4.2 .6-3.9 .8-3.4 1.1-2.9 1.2-2.5 1.4-2 1.4-2.4 2.3-1 1.6-1 2.3-.2 2.2 .6 2.1 1.4 1.9 2.2 1.6 3 1.4 2.4 .7 4.5 .8 3.5 .3 8.1 .1 7-.4 5-.6 10.6-1.5 10.3-2.2 4.6-1.3 4.1-1.4 3.4-1.4 2.5-1.5 1.4-1.5 .4-.8 .1-.7-.2-.8-.5-.7-.7-.8-2.2-1.4-5-2.1-6.7-1.9-7.7-1.5-8.2-1.1-8.1-.5-7.6 0-4.7 .4-4.2 .6-3.8 .8-3.3 1.1-2.9 1.2-2.5 1.3-2 1.5-2.3 2.2-1.1 1.6-1 2.3-.1 2.2 .6 2.1 1.3 1.8 2.2 1.6 2.9 1.4 2.5 .7 4.4 .8 3.5 .3 8 .1 7-.4 5-.5 10.4-1.6 10.2-2.2 4.6-1.2 4-1.4 3.3-1.4 2.4-1.5 1.5-1.5 .3-.7 .1-.8-.2-.8-.5-.7-.7-.7-2.2-1.5-5-2-6.5-1.9-7.7-1.5-8-1-8-.6-7.6 0-4.6 .4-4.1 .6-3.8 .8-3.3 1-2.9 1.2-2.4 1.4-2 1.4-2.3 2.3-1.1 1.5-.9 2.3-.2 2.2 .6 2 1.3 1.9 2.2 1.6 2.9 1.3 2.5 .7 4.3 .8 3.5 .3 8 .1 6.9-.4 4.9-.5 10.3-1.6 10.1-2.1 4.5-1.3 4-1.3 3.2-1.4 2.4-1.5 1.4-1.5 .3-.7 .1-.8-.2-.7-.4-.7-.8-.8-2.1-1.4-5-2.1-6.5-1.8-7.5-1.5-8-1-7.9-.6-7.4 0-4.6 .4-4.1 .6-3.7 .8-3.3 1-2.8 1.2-2.4 1.3-2 1.4-2.3 2.3-1.1 1.5-.9 2.3-.2 2.1 .6 2.1 1.3 1.8 2.2 1.6 2.9 1.3 2.4 .7 4.4 .8 3.4 .3 7.9 .1 6.8-.4 5-.5 10.2-1.5 9.9-2.1 4.4-1.3 3.9-1.3 3.2-1.4 2.4-1.5 1.4-1.4 .3-.8 0-.7-.6-1.5-.7-.7-2.2-1.5-4.9-2-6.4-1.8-7.4-1.5-7.9-1-7.8-.6-7.4 .1-4.5 .3-4.1 .6-3.6 .8-3.3 1-2.8 1.2-2.4 1.3-1.9 1.4-2.3 2.2-1.1 1.5-.9 2.2-.2 2.2 .6 2 1.3 1.8 2.1 1.6 3 1.3 2.4 .7 4.3 .8 3.4 .3 7.8 .1 6.8-.4 4.9-.5 10.1-1.5 9.8-2.1 4.4-1.2 3.8-1.3 3.2-1.4 2.3-1.5 1.3-1.4 .3-.8 .1-.7-.7-1.5-.7-.7-2.1-1.4-4.9-2-6.3-1.8-7.4-1.5-7.8-1-7.7-.6-7.2 .1-4.5 .3-4 .6-3.6 .8-3.2 1-2.8 1.1-2.4 1.3-2 1.4-2.2 2.2-1 1.5-1 2.2-.1 2.2 .5 2 1.3 1.8 2.1 1.5 2.9 1.3 2.4 .7 4.3 .8 3.4 .3 7.8 .1 11.5-.9 10-1.5 9.7-2 4.3-1.2 3.8-1.3 3.1-1.4 2.3-1.4 1.3-1.5 .3-.7 0-.8-.6-1.4-.7-.7-2.2-1.4-4.8-2-6.2-1.8-7.3-1.5-7.7-1-7.6-.6-7.2 .1-4.4 .3-4 .6-3.5 .8-3.2 .9-2.8 1.2-2.3 1.3-2 1.4-2.2 2.1-1 1.5-.9 2.2-.2 2.1 .5 2 1.3 1.8 2.1 1.5 2.9 1.3 2.4 .7 4.2 .8 3.4 .3 7.7 .1 11.5-.9 9.9-1.4 9.5-2.1 4.3-1.2 3.7-1.3 3.1-1.3 2.2-1.4 1.3-1.5 .3-.7 0-.7-.7-1.5-.7-.7-2.1-1.4-4.7-2-6.2-1.7-7.2-1.5-7.6-1-7.6-.6-7 .1-4.4 .3-3.9 .6-3.6 .7-3.1 1-2.7 1.2-2.3 1.2-2 1.4-2.2 2.1-1 1.5-.9 2.2-.2 2.1 .5 2 1.3 1.7 2.1 1.6 2.9 1.2 2.3 .7 4.3 .8 3.3 .3 7.7 .1 11.3-.8 9.8-1.5 9.4-2 4.3-1.2 3.6-1.3 3-1.3 2.2-1.4 1.3-1.5 .2-.7 .1-.7-.7-1.4-.7-.7-2.1-1.4-4.7-2-6.1-1.7-7.1-1.5-7.5-1-7.5-.5-7 0-4.3 .3-3.9 .6-3.5 .7-3.1 1-2.7 1.1-2.3 1.3-1.9 1.3-2.2 2.2-1 1.4-.9 2.2-.2 2.1 .6 1.9 1.2 1.8 2.1 1.5 2.8 1.3 2.4 .6 4.2 .8 3.3 .3 7.6 .1 11.2-.8 9.7-1.4 9.4-2.1 4.1-1.1 3.6-1.3 3-1.3 2.1-1.4 1.3-1.4 .2-.7 0-.8-.6-1.4-.7-.7-2.1-1.4-4.7-1.9-6-1.8-7.1-1.4-7.4-1-7.3-.5-6.9 0-4.3 .3-3.8 .5-3.5 .8-3.1 1-2.6 1.1-2.3 1.2-1.9 1.4-2.2 2.1-1 1.4-.9 2.2-.2 2 .6 2 1.2 1.7 2.1 1.5 2.8 1.3 2.3 .7 4.2 .7 3.3 .3 7.5 .1 11.2-.8 9.6-1.4 9.2-2 4.1-1.2 3.6-1.2 2.9-1.3 2.1-1.4 1.2-1.4 .2-.7 0-.7-.7-1.4-.7-.7-2-1.4-4.6-1.9-6-1.8-7-1.4-7.3-1-7.3-.5-6.8 0-4.2 .3-3.8 .5-3.4 .8-3.1 .9-2.6 1.1-2.2 1.3-1.9 1.3-2.2 2.1-1 1.4-.9 2.2-.2 2 .6 1.9 1.2 1.7 2 1.6 2.8 1.2 2.4 .7 4.1 .7 3.3 .3 7.5 .1 11-.8 9.5-1.4 9.1-1.9 4.1-1.2 3.5-1.2 2.8-1.3 2.1-1.4 1.2-1.4 .2-.7 0-.7-.7-1.4-.7-.7-2-1.3-4.6-2-5.9-1.7-6.9-1.4-7.2-1-7.2-.5-6.7 0-4.2 .3-3.7 .5-3.4 .8-3 .9-2.7 1.1-2.2 1.2-1.9 1.3-2.1 2.1-1 1.4-.9 2.1-.2 2.1 .6 1.9 1.2 1.7 2 1.5 2.8 1.2 2.3 .7 4.1 .7 3.2 .3 7.5 .1 11-.8 9.3-1.3 9-2 4-1.1 3.5-1.2 2.8-1.3 2-1.4 1.2-1.4 .2-.7 0-.7-.7-1.3-.7-.7-2-1.4-4.5-1.9-5.9-1.7-6.8-1.4-7.1-1-7.1-.5-6.7 0-4.1 .3-3.7 .5-3.3 .8-3 .9-2.6 1.1-2.2 1.2-1.9 1.3-2.1 2-1 1.4-.9 2.1-.2 2 .6 1.9 1.2 1.7 2 1.5 2.8 1.2 2.2 .7 4.2 .7 3.1 .3 7.5 .2 10.8-.8 9.3-1.4 8.9-1.9 3.9-1.1 3.4-1.3 2.8-1.3 2-1.3 1.1-1.4 .2-.6 0-.7-.7-1.4-.7-.7-2-1.3-4.5-1.9-5.8-1.7-6.7-1.4-7-1-7-.5-6.6 0-4.1 .3-3.6 .5-3.4 .7-2.9 1-2.6 1-2.2 1.2-1.8 1.3-2.1 2.1-1 1.3-.9 2.1-.2 2 .6 1.9 1.2 1.7 1.2 1 2.5 1.3 2.1 .7 3.8 .8 3 .4 7 .3 8.3-.4 9-1 11.3-2.1 7.8-2.3 3-1.2 2.4-1.3 1.5-1.4 .4-.6 .2-1.4-.2-.7-.5-.7-1.6-1.3-3.8-2-5.4-1.7-8.6-1.9-7-1-7-.5-6.5 0-4 .3-3.6 .5-3.3 .7-2.9 .9-2.5 1.1-2.2 1.2-1.8 1.2-2.1 2.1-1 1.3-.9 2.1-.1 2 .5 1.8 1.2 1.7 1.2 1 2.5 1.3 2.1 .7 3.7 .8 3 .4 7 .3 8.2-.4 8.9-1 11.2-2.1 7.6-2.2 3-1.2 2.3-1.3 1.5-1.3 .5-.7 .2-1.4-.3-.7-.5-.6-1.5-1.4-3.9-1.9-5.3-1.7-8.5-2-6.9-.9-6.9-.6-6.4 .1-3.9 .3-3.7 .5-3.2 .7-2.9 .9-2.5 1-2.1 1.2-1.8 1.3-2.1 2-1 1.3-.9 2.1-.1 1.9 .5 1.9 1.2 1.6 1.2 1 2.4 1.3 2.1 .7 3.8 .9 2.9 .3 6.9 .3 8.1-.3 8.9-1 11.1-2.1 7.5-2.2 3-1.2 2.2-1.3 1.5-1.3 .4-.7 .2-.7-.3-1.3-.4-.7-1.6-1.3-3.8-1.9-5.3-1.8-8.4-1.9-6.8-.9-6.8-.6-6.3 0-3.9 .3-3.6 .6-3.2 .7-2.9 .9-2.5 1-2.1 1.2-1.8 1.2-2 2-1 1.4-.9 2-.1 1.9 .5 1.8 1.2 1.7 1.2 1 2.4 1.3 2.1 .7 3.7 .8 2.9 .3 6.9 .3 8-.3 8.8-1 10.9-2.1 7.5-2.1 2.9-1.2 2.2-1.3 1.5-1.3 .4-.7 .1-.6-.2-1.4-.5-.7-1.6-1.3-3.7-1.9-5.2-1.7-8.4-1.9-6.7-1-6.7-.5-6.3 0-3.8 .3-3.6 .5-3.1 .7-2.9 .9-2.4 1.1-2.1 1.1-1.8 1.3-2 1.9-1 1.4-.9 2-.1 1.9 .5 1.8 1.2 1.6 1.1 1 2.5 1.3 2 .7 3.7 .8 2.9 .4 6.8 .2 8-.3 8.7-1 10.8-2 7.3-2.2 2.9-1.2 2.2-1.2 1.4-1.3 .4-.7 .2-.6-.3-1.4-.5-.6-1.5-1.3-3.8-1.9-5.1-1.7-8.3-1.9-6.6-1-6.6-.5-6.2 0-3.8 .3-3.5 .5-3.2 .7-2.8 .9-2.4 1-2.1 1.2-1.7 1.2-2.1 1.9-.9 1.4-.9 1.9-.1 2 .4 1.7 1.2 1.7 1.2 .9 2.4 1.3 2.1 .7 3.6 .8 2.9 .4 6.8 .3 7.9-.4 8.6-1 8.6-1.5 7.7-2 3.1-1.2 2.5-1.2 1.8-1.3 1-1.3 .1-.6-.3-1.3-.4-.7-1.6-1.3-3.7-1.9-5.1-1.7-8.1-1.8-6.6-1-6.5-.5-6.2 0-3.7 .3-3.5 .5-3.1 .7-2.8 .9-2.4 1-2 1.1-1.8 1.2-2 2-.9 1.3-.9 1.9-.1 1.9 .4 1.8 1.2 1.6 1.2 1 2.4 1.2 2 .7 3.7 .8 2.8 .4 6.7 .3 7.9-.4 8.5-.9 8.5-1.5 7.6-2.1 3.1-1.1 2.4-1.2 1.8-1.2 .9-1.3 .2-.7-.3-1.3-.5-.6-1.5-1.3-3.7-1.9-5-1.7-8.1-1.8-6.5-1-6.4-.5-6.1 0-3.7 .3-3.4 .5-3.1 .7-2.7 .8-2.4 1-2.1 1.2-1.7 1.2-2 1.9-.9 1.3-.9 1.9-.2 1.9 .5 1.8 1.2 1.6 1.2 .9 2.3 1.3 2 .6 3.7 .8 2.8 .4 6.7 .3 7.8-.3 8.4-1 8.4-1.5 7.5-2 3-1.1 2.5-1.2 1.7-1.2 .9-1.3 .2-.7-.3-1.3-.5-.6-1.5-1.3-3.7-1.8-5-1.7-7.9-1.9-6.5-.9-6.4-.5-5.9 0-3.7 .3-3.4 .5-3 .6-2.7 .9-2.4 1-2 1.1-1.7 1.2-2 1.9-.9 1.3-.9 1.9-.2 1.9 .5 1.7 1.2 1.6 1.1 1 2.4 1.2 2 .7 3.6 .8 2.8 .3 6.6 .3 7.7-.3 8.4-1 8.3-1.4 7.4-2 3-1.1 2.4-1.2 1.7-1.2 .9-1.3 .1-.6-.3-1.3-.5-.7-1.5-1.2-3.6-1.9-4.9-1.7-7.9-1.8-6.4-.9-6.3-.5-5.9 0-7 .8-3 .6-2.6 .9-2.4 .9-2 1.1-1.7 1.2-1.9 1.9-.9 1.3-.9 1.9-.2 1.8 .5 1.8 1.2 1.6 1.1 .9 2.4 1.2 1.9 .7 3.6 .8 2.8 .3 6.6 .3 7.6-.3 8.3-.9 8.2-1.5 7.3-1.9 3-1.1 2.3-1.2 1.7-1.2 .9-1.3 .1-.6-.3-1.3-.5-.6-1.5-1.3-3.6-1.8-4.8-1.7-7.9-1.8-6.2-.9-6.3-.5-5.8 0-6.9 .7-3 .7-2.6 .8-2.3 1-2 1.1-1.7 1.2-1.9 1.8-1 1.3-.8 1.9-.2 1.8 .5 1.7 1.1 1.6 1.2 .9 2.3 1.2 2 .7 3.5 .8 2.8 .4 6.5 .2 7.6-.3 8.2-.9 8.2-1.4 7.1-2 2.9-1.1 2.4-1.1 1.6-1.2 .8-1.3 .2-.6-.3-1.3-.5-.6-1.5-1.3-3.6-1.8-4.8-1.6-7.7-1.8-6.2-.9-6.2-.5-5.8 0-6.8 .7-2.9 .7-2.6 .8-2.3 1-2 1-1.6 1.2-2 1.8-.9 1.3-.8 1.9-.2 1.8 .5 1.7 1.1 1.5 1.2 1 2.3 1.2 1.9 .6 3.5 .8 2.8 .4 6.5 .3 9.5-.5 8.2-1.1 7.9-1.5 6.7-2 2.5-1.1 2-1.2 1.2-1.2 .3-.7 .2-.6-.4-1.3-.4-.6-1.5-1.2-3.5-1.8-4.8-1.6-7.6-1.8-6.2-1-6.1-.4-5.7 0-6.7 .7-2.9 .6-2.6 .9-4.2 2-1.7 1.1-1.9 1.9-.9 1.2-.8 1.9-.2 1.8 .5 1.7 1.1 1.5 1.1 .9 2.3 1.2 1.9 .7 3.6 .7 2.7 .4 6.4 .3 9.4-.5 8.1-1 7.9-1.6 6.6-2 2.5-1.1 1.9-1.1 1.2-1.2 .3-.7 .2-.6-.4-1.2-.4-.6-1.5-1.3-3.5-1.8-4.7-1.6-7.6-1.8-6.1-.9-6-.4-5.6-.1-6.7 .8-5.4 1.4-4.2 2-1.6 1.2-1.9 1.8-.9 1.2-.8 1.9-.2 1.7 .5 1.7 1.1 1.5 1.1 1 2.3 1.1 1.9 .7 3.5 .8 2.7 .3 6.4 .3 9.3-.5 8-1 7.7-1.5 6.6-2 2.5-1.1 1.9-1.1 1.1-1.2 .3-.6 .2-.7-.4-1.2-.5-.6-1.4-1.2-3.5-1.8-4.7-1.6-7.4-1.8-6-.9-6-.5-5.6 0-6.5 .7-5.4 1.5-4.2 2-1.6 1.1-1.8 1.8-.9 1.2-.8 1.8-.2 1.8 .4 1.7 1.1 1.5 1.2 .9 2.2 1.2 1.9 .6 3.5 .8 2.7 .3 6.3 .3 9.3-.4 7.9-1 7.6-1.6 6.5-1.9 2.4-1.1 1.9-1.1 1.2-1.2 .3-.6 .1-.6-.4-1.3-.5-.6-1.4-1.2-3.4-1.8-4.7-1.6-7.3-1.7-6-.9-5.8-.5-5.6 0-6.5 .7-5.3 1.5-4.1 1.9-1.6 1.1-1.9 1.8-.9 1.2-.8 1.8-.2 1.8 .5 1.6 1.1 1.5 1.1 .9 2.2 1.2 1.9 .7 3.4 .7 2.7 .4 6.3 .3 9.2-.5 7.9-1 7.6-1.5 6.4-1.9 2.4-1.1 1.9-1.2 1.1-1.1 .3-.6 .1-.7-.3-1.2-.5-.6-1.4-1.2-3.4-1.7-4.6-1.6-7.3-1.7-5.9-.9-5.9-.5-5.4 0-6.5 .7-5.3 1.4-4.1 2-1.6 1.1-1.9 1.7-.9 1.2-.8 1.8-.2 1.8 .5 1.6 1 1.5 1.1 .9 2.3 1.2 1.9 .6 3.4 .8 2.7 .3 6.2 .3 9.2-.5 7.8-1 7.5-1.5 6.4-1.9 2.4-1.1 1.8-1.1 1.2-1.2 .3-.6 .1-.6-.4-1.2-.4-.6-1.5-1.2-3.3-1.7-4.6-1.6-7.2-1.7-5.9-.9-5.8-.4-5.4 0-6.5 .7-5.2 1.4-4.1 1.9-1.6 1.1-1.9 1.8-.8 1.2-.9 1.7-.2 1.8 .5 1.6 1 1.5 1.1 .9 2.2 1.1 1.9 .7 3.4 .7 2.7 .3 6.2 .3 9.1-.4 7.8-1 7.5-1.5 6.3-1.9 2.4-1.1 1.8-1.1 1.1-1.2 .3-.6 .1-.6-.3-1.2-.5-.6-1.4-1.2-3.3-1.7-4.6-1.5-7.2-1.7-5.8-.9-5.7-.5-5.4 .1-6.4 .7-5.2 1.3-4.1 2-1.6 1.1-1.8 1.7-.9 1.2-.9 1.8-.2 1.7 .5 1.6 1 1.4 1.1 .9 2.2 1.2 1.9 .6 3.3 .7 2.7 .4 6.2 .2 9-.4 7.8-1 7.4-1.5 6.3-1.9 2.4-1 1.8-1.2 1.1-1.1 .3-.6 .1-.6-.3-1.2-.5-.6-1.4-1.2-3.3-1.7-4.5-1.5-7.2-1.7-5.7-.8-5.7-.5-5.4 0-6.3 .7-5.3 1.4-4 1.9-1.6 1.1-1.8 1.7-.9 1.2-.8 1.8-.3 1.7 .4 1.6 1.1 1.4 1.1 .9 2.2 1.1 1.8 .6 3.4 .8 2.6 .3 6.2 .3 9-.5 7.7-1 7.4-1.4 6.2-1.9 2.4-1.1 1.8-1.1 1.1-1.1 .3-.6 .1-.6-.4-1.2-.4-.6-1.4-1.2-3.3-1.6-4.5-1.6-7.1-1.6-5.7-.9-5.6-.4-5.4 0-6.3 .7-5.2 1.4-4 1.9-1.6 1-1.8 1.7-.9 1.2-.8 1.8-.3 1.6 .4 1.6 1.1 1.5 1 .8 2.2 1.2 1.9 .6 3.3 .7 2.6 .3 6.2 .3 8.9-.4 7.7-1 7.4-1.5 6.1-1.9 2.4-1 1.8-1.1 1.1-1.2 .2-.5 .1-.6-.3-1.2-.5-.6-1.4-1.2-3.2-1.6-4.4-1.5-7.1-1.7-5.6-.8-5.6-.4-5.3 0-6.3 .7-5.2 1.3-4 1.9-1.5 1.1-1.9 1.7-.9 1.1-.8 1.8-.3 1.6 .4 1.6 1.1 1.4 1 .9 2.2 1.1 1.8 .6 3.3 .7 2.7 .4 6.1 .2 8.9-.4 7.6-1 7.3-1.4 6.1-1.9 2.4-1 1.7-1.1 1.1-1.2 .3-.6 .1-.5-.3-1.2-.5-.6-1.4-1.1-3.2-1.7-4.4-1.5-7-1.6-5.6-.8-5.6-.5-5.2 .1-6.2 .6-5.2 1.4-4 1.9-1.5 1-1.9 1.7-.9 1.2-.8 1.7-.2 1.6 .3 1.6 1.1 1.4 1 .9 2.1 1.1 1.9 .6 3.3 .7 2.6 .3 6 .3 8.9-.5 7.6-.9 7.3-1.5 6.1-1.8 2.3-1.1 1.7-1.1 1.1-1.1 .3-.6 .1-.5-.4-1.2-1.8-1.7-3.2-1.7-4.4-1.5-6.9-1.6-5.6-.8-5.5-.4-5.2 0-6.2 .7-5.1 1.4-4 1.8-1.5 1.1-1.9 1.6-.9 1.2-.8 1.7-.2 1.6 .3 1.6 1 1.4 1.1 .8 2.1 1.1 1.8 .6 3.3 .7 2.6 .3 6 .3 8.9-.4 7.5-1 7.2-1.4 6.1-1.9 2.3-1 1.7-1.1 1.1-1.1 .2-.6 .1-.6-.3-1.1-1.8-1.7-3.2-1.7-4.3-1.4-6.9-1.6-5.5-.8-5.5-.4-5.2 0-6.1 .7-5.1 1.3-4 1.9-1.5 1-1.9 1.7-.8 1.1-.9 1.7-.2 1.6 .3 1.5 1 1.4 1.1 .9 2.1 1.1 1.8 .6 3.2 .7 2.6 .3 6 .2 8.8-.4 7.5-1 7.2-1.4 6-1.8 2.3-1 1.7-1.1 1.1-1.1 .2-.6 .1-.6-.3-1.1-1.8-1.7-3.2-1.6-4.3-1.5-6.8-1.6-5.5-.8-5.4-.4-5.2 .1-6.1 .7-5 1.3-4 1.8-1.5 1-1.8 1.7-.9 1.1-.9 1.7-.2 1.6 .3 1.5 1 1.4 1 .8 2.1 1.1 1.8 .6 3.3 .7 2.5 .3 6 .3 8.8-.5 7.4-.9 7.1-1.5 6-1.8 2.3-1 1.7-1 1-1.2 .3-.5 .1-.6-.3-1.1-1.8-1.7-3.2-1.6-4.2-1.5-6.8-1.5-5.4-.8-5.4-.4-5.1 0-6.1 .7-5 1.4-3.9 1.8-1.6 1-1.8 1.6-.9 1.1-.9 1.7-.2 1.6 .3 1.5 1 1.4 1 .8 2.1 1.1 1.8 .6 3.2 .6 2.6 .4 5.9 .2 8.7-.4 7.4-1 7.1-1.4 5.9-1.8 2.3-1 1.7-1.1 1-1.1 .3-.5 .1-.6-.4-1.1-1.7-1.7-3.2-1.6-4.2-1.4-6.7-1.6-5.4-.7-5.3-.4-5.1 0-6 .7-5 1.3-3.9 1.8-1.6 1-1.8 1.6-.9 1.1-.9 1.7-.2 1.6 .3 1.5 1 1.3 1 .9 2.1 1 1.7 .6 3.3 .7 2.5 .3 5.9 .2 8.7-.4 7.3-.9 7.1-1.5 5.8-1.7 2.3-1 1.7-1.1 1-1.1 .3-.5 0-.6-.3-1.1-1.7-1.7-3.2-1.6-4.1-1.4-6.7-1.5-5.3-.8-5.4-.3-5 0-6 .7-5 1.3-3.8 1.8-1.6 1-1.8 1.6-1.3 1.6-.6 1.6-.1 1.6 .3 1 1 1.3 1 .8 2 1.1 1.8 .6 3.2 .6 2.5 .3 5.9 .3 8.6-.5 7.3-.9 7-1.4 5.9-1.8 2.2-1 1.7-1 1-1.1 .2-.6 .1-.5-.3-1.1-1.8-1.7-3-1.5-4.2-1.4-6.6-1.6-5.3-.7-5.3-.4-5 .1-5.9 .6-5 1.3-3.8 1.8-1.6 1-1.8 1.6-1.2 1.6-.7 1.6-.1 1.6 .3 .9 .9 1.4 1 .8 2.1 1 1.7 .6 3.2 .7 2.5 .3 5.9 .2 8.6-.4 7.2-1 7-1.4 5.8-1.7 2.2-1 1.7-1.1 1-1 .2-.6 .1-.5-.3-1.1-1.8-1.7-3-1.5-4.1-1.4-6.6-1.5-5.3-.7-5.2-.4-5 0-5.9 .7-4.9 1.3-3.8 1.8-1.6 .9-1.8 1.6-1.2 1.6-.7 1.6-.1 1.6 .3 .9 .9 1.4 1 .7 2 1.1 1.8 .6 3.2 .6 2.5 .3 5.8 .2 8.5-.4 7.2-.9 7-1.4 5.7-1.8 2.2-.9 1.7-1.1 1-1 .2-.6 .1-.5-.3-1.1-1.8-1.7-3-1.5-4.1-1.4-6.5-1.5-5.2-.7-5.2-.3-4.9 0-5.9 .7-4.9 1.3-2 .8-2.6 1.4-1.4 1-1.7 1.6-.7 1-.7 1.6-.1 1.5 .3 1 .9 1.3 1 .8 2 1 1.7 .6 3.2 .7 2.5 .3 5.8 .2 8.5-.5 7.2-.9 6.8-1.4 5.7-1.7 2.2-1 1.6-1 1-1.1 .3-.5 .1-.5-.4-1.1-1.7-1.6-3-1.6-4-1.3-6.5-1.5-5.2-.7-5.1-.4-4.9 .1-5.9 .6-4.8 1.3-2.1 .8-2.5 1.4-1.4 1-1.7 1.6-.7 1.1-.7 1.5-.1 1.5 .3 1 .9 1.3 1 .8 2 1 1.7 .6 5.6 .9 5.8 .2 8.4-.4 7.2-.9 6.8-1.4 5.7-1.7 2.1-1 1.6-1 1-1.1 .3-.5 .1-.6-.4-1-1.7-1.6-2.9-1.5-4.1-1.4-6.4-1.4-5.1-.8-5.1-.3-4.9 0-5.8 .7-4.8 1.3-2.1 .8-2.5 1.4-1.4 1-1.6 1.5-.8 1.1-.7 1.5-.1 1.5 .3 1 .9 1.3 .9 .7 2 1 1.7 .6 5.6 .9 5.8 .3 8.4-.5 7.1-.9 6.8-1.4 5.6-1.7 2.2-.9 1.5-1.1 1-1 .3-.5 .1-.6-.4-1-1.7-1.6-2.9-1.5-4-1.4-6.4-1.4-5.1-.7-5.1-.3-4.8 0-5.7 .7-4.8 1.2-2.1 .8-2.5 1.4-1.4 1-1.6 1.5-.8 1.1-.7 1.5-.1 1.5 .2 .9 .9 1.3 1 .8 2 1 1.7 .6 5.5 .9 5.8 .2 8.3-.4 7.1-.9 6.7-1.4 5.6-1.7 2.2-1 1.6-1 .9-1 .3-.5 .1-.6-.4-1-1.7-1.6-2.9-1.5-4-1.3-6.3-1.4-5-.7-5.1-.4-4.8 .1-5.7 .6-4.8 1.3-2 .8-2.5 1.4-1.4 .9-1.6 1.6-.8 1-.7 1.5-.1 1.5 .2 .9 .9 1.3 1 .8 2 1 1.6 .5 5.6 .9 5.7 .2 8.3-.4 7-.9 6.7-1.4 5.6-1.7 2.1-.9 1.6-1 .9-1 .3-.6 0-.5-.3-1-1.6-1.6-3-1.5-3.9-1.3-6.2-1.4-5.1-.7-5-.3-4.7 0-5.7 .7-4.8 1.3-2 .7-2.5 1.4-1.4 1-1.6 1.5-.8 1-.7 1.5-.1 1.5 .2 .9 .9 1.3 1 .7 1.9 1 1.7 .6 5.5 .9 5.7 .2 8.2-.5 7-.9 6.7-1.3 5.5-1.7 2.1-.9 1.6-1 .9-1.1 .3-.5 0-.5-.3-1-1.6-1.6-2.9-1.5-3.9-1.3-6.2-1.3-5-.7-5-.4-4.7 .1-5.7 .7-4.7 1.2-2 .8-2.5 1.3-1.4 1-1.6 1.5-.8 1-.7 1.5-.1 1.5 .2 .9 .9 1.2 .9 .8 2 1 1.6 .5 5.5 .9 5.6 .2 8.3-.4 6.9-.9 6.6-1.3 5.5-1.7 2.1-1 1.6-.9 .9-1.1 .3-.5 0-.5-.3-1-1.6-1.6-2.9-1.4-3.9-1.3-6.1-1.4-5-.7-4.9-.3-4.7 .1-5.6 .6-4.7 1.3-2 .7-2.5 1.4-1.4 .9-1.6 1.5-.8 1-.7 1.5-.1 1.5 .2 .9 .9 1.2 .9 .8 1.9 .9 1.7 .6 5.4 .9 5.6 .2 8.2-.5 6.9-.9 6.6-1.3 5.5-1.7 2-.9 1.6-1 .9-1 .3-.5 0-.5-.3-1.1-1.6-1.5-2.9-1.4-3.8-1.3-6.1-1.4-4.9-.6-4.9-.3-4.7 0-5.6 .7-4.6 1.2-2 .8-2.5 1.3-1.4 1-1.6 1.4-.8 1.1-.7 1.4-.1 1.5 .2 .9 .9 1.2 .9 .7 1.9 1 1.6 .5 5.5 .9 5.5 .2 8.2-.4 6.8-.9 6.6-1.3 5.4-1.7 2.1-.9 1.5-1 .9-1 .3-.5 0-.5-.3-1.1-1.6-1.5-2.8-1.4-3.9-1.3-6-1.3-4.9-.7-4.9-.3-4.6 .1-5.5 .7-4.7 1.2-1.9 .7-2.5 1.4-1.4 .9-1.6 1.5-.8 1-.7 1.4-.1 1.4 .2 .9 .8 1.3 1 .7 1.9 .9 1.6 .6 5.4 .8 5.5 .2 8.1-.4 6.9-.9 6.5-1.3 5.3-1.6 2.1-1 1.5-.9 .9-1 .3-.5 0-.5-.3-1.1-1.6-1.5-2.8-1.4-3.8-1.2-6-1.4-4.8-.6-4.9-.3-4.6 .1-5.5 .6-4.6 1.2-1.9 .8-2.5 1.3-1.4 .9-1.6 1.5-.8 1-.7 1.4-.1 1.4 .2 .9 .8 1.2 .9 .8 1.9 .9 1.7 .5 5.3 .9 5.5 .2 8.1-.5 6.8-.8 6.4-1.3 5.4-1.7 2-.9 1.5-.9 .9-1 .3-.5 0-.5-.3-1.1-1.6-1.4-2.8-1.4-3.7-1.3-6-1.3-4.8-.6-4.8-.3-4.5 0-5.5 .7-4.6 1.2-2 .7-2.4 1.3-1.4 1-1.6 1.4-.8 1-.7 1.4-.1 1.4 .2 .9 .8 1.2 .9 .7 1.9 1 1.6 .5 5.3 .8 5.5 .2 8-.4 6.8-.9 6.4-1.3 5.3-1.6 2-.9 1.5-1 .9-.9 .3-.5 0-.6-.3-1-1.6-1.4-2.7-1.4-3.8-1.3-5.9-1.3-4.7-.6-4.8-.3-4.5 .1-5.5 .6-4.5 1.2-2 .8-2.4 1.3-1.4 .9-1.6 1.4-.8 1-.7 1.4-.1 1.4 .2 .9 .8 1.2 .9 .7 1.8 .9 1.7 .5 5.3 .9 5.4 .2 8-.5 6.7-.8 6.4-1.3 5.3-1.6 2-.9 1.4-1 .9-1 .3-.5 0-.5-.3-1-1.5-1.4-2.8-1.4-3.7-1.2-5.9-1.3-4.7-.6-4.7-.3-4.5 .1-5.4 .6-4.6 1.2-1.9 .7-2.4 1.3-1.4 .9-1.6 1.5-.8 .9-.7 1.4-.2 1.4 .3 .9 .8 1.2 .8 .7 1.9 .9 1.6 .5 5.3 .8 5.4 .2 7.9-.4 6.7-.9 6.4-1.3 5.2-1.6 2-.9 1.5-.9 .9-1 .2-.5 0-.5-.3-1-1.5-1.4-2.8-1.4-3.6-1.2-5.8-1.3-4.7-.6-4.7-.3-4.5 .1-5.4 .7-4.5 1.1-1.9 .8-2.5 1.2-1.3 1-1.6 1.4-.8 .9-.7 1.4-.2 1.4 .2 .8 .8 1.2 .9 .7 1.9 .9 1.6 .5 5.2 .9 5.4 .1 7.9-.4 6.6-.8 6.3-1.3 5.2-1.6 2-.9 1.5-.9 .9-1 .2-.5 .1-.5-.4-1-1.5-1.4-2.7-1.4-3.6-1.2-5.8-1.2-4.7-.6-4.6-.3-4.5 .1-5.3 .6-4.5 1.2-1.9 .7-2.5 1.3-1.3 .9-1.6 1.4-.8 .9-.7 1.4-.2 1.4 .2 .8 .8 1.2 .9 .7 1.8 .9 1.6 .5 5.2 .8 5.4 .2 7.8-.4 6.7-.9 6.2-1.3 5.2-1.5 1.9-.9 1.5-1 .9-.9 .2-.5 .1-.5-.3-1-1.6-1.4-2.7-1.3-3.6-1.2-5.7-1.3-4.6-.6-4.7-.2-4.4 .1-5.3 .6-4.4 1.1-1.9 .8-2.5 1.2-1.3 .9-1.6 1.4-.8 1-.7 1.3-.2 1.4 .2 .8 .8 1.2 .9 .7 1.8 .9 1.6 .5 5.2 .8 5.3 .1 7.8-.4 6.6-.8 6.2-1.3 5.1-1.6 2-.9 1.4-.9 1.1-1.4 .1-.5-.3-1-1.6-1.4-2.6-1.3-3.6-1.2-5.7-1.2-4.6-.6-4.6-.3-4.3 .1-5.3 .7-4.5 1.1-3.5 1.5-3.2 2.3-.9 .9-.9 1.4-.4 1.3 .1 .9 .6 1.2 .7 .7 1.6 .9 1.4 .6 4.8 .9 5.1 .3 5.9-.2 6.5-.6 6.5-1.1 5.7-1.4 4.3-1.7 1.4-.9 .9-.9 .2-.5 0-1-1.1-1.4-2.3-1.4-4.5-1.6-5.7-1.2-4.5-.6-4.6-.2-4.3 .1-5.3 .6-4.4 1.2-3.5 1.5-3.2 2.2-.9 .9-.9 1.4-.4 1.3 .1 .9 .5 1.2 .8 .7 1.5 .9 1.5 .5 4.7 1 5.1 .2 5.9-.1 6.5-.7 6.4-1 5.7-1.4 4.2-1.7 1.5-.9 .8-1 .2-.4 0-1-1.1-1.4-2.3-1.3-4.5-1.6-5.6-1.2-4.5-.6-4.5-.3-4.3 .1-5.2 .7-4.4 1.1-3.5 1.5-3.2 2.2-.9 .9-.9 1.4-.4 1.3 .1 .9 .5 1.1 .7 .7 1.6 1 1.4 .5 4.8 .9 5 .3 5.9-.2 6.4-.6 6.4-1.1 5.6-1.4 4.3-1.6 1.4-.9 .8-1 .2-.4 0-1-1-1.4-2.3-1.3-4.5-1.6-5.6-1.2-4.4-.6-4.5-.2-4.3 .1-5.2 .6-4.3 1.2-3.6 1.5-3.1 2.1-.9 .9-.9 1.4-.4 1.3 .1 .9 .5 1.1 .7 .7 1.6 .9 1.4 .6 4.7 .9 5 .2 5.9-.2 6.3-.6 6.4-1 5.6-1.4 4.2-1.7 1.4-.9 .9-.9 .2-.4 0-1-1.1-1.4-2.3-1.3-4.4-1.6-5.5-1.1-4.5-.6-4.4-.2-4.3 .1-5.1 .6-4.4 1.1-3.5 1.5-3.1 2.2-.9 .9-.9 1.3-.4 1.3 0 .8 .6 1.2 .7 .7 1.5 .9 1.4 .5 4.7 .9 5 .3 5.8-.2 6.4-.6 6.3-1.1 5.6-1.3 4.2-1.7 1.3-.9 .9-.9 .2-.5 0-.9-1.1-1.4-2.2-1.3-4.4-1.5-5.5-1.2-4.4-.5-4.5-.3-4.2 .1-5.1 .6-4.3 1.2-3.5 1.4-3.1 2.2-.9 .9-.9 1.3-.4 1.3 0 .8 .6 1.2 .7 .7 1.5 .9 1.4 .5 4.7 .9 4.9 .2 5.8-.2 6.3-.6 6.3-1 5.5-1.4 4.2-1.6 1.4-.9 .8-.9 .2-.5 0-.9-1.1-1.4-2.2-1.3-4.4-1.5-5.4-1.1-4.4-.6-4.4-.2-4.2 .1-5 .6-4.3 1.1-3.5 1.5-3.1 2.1-.9 .9-.9 1.3-.4 1.3 0 .8 .6 1.1 .6 .7 1.6 .9 1.3 .5 4.7 .9 4.9 .3 5.8-.2 6.3-.6 6.2-1 5.5-1.4 4.1-1.6 1.4-.9 .8-.9 .2-.5 0-.9-1-1.4-2.2-1.2-4.4-1.6-5.4-1.1-4.3-.5-4.4-.3-4.1 .1-5.1 .7-4.2 1.1-3.5 1.4-3.1 2.1-.9 .9-.9 1.3-.4 1.3 0 .8 .5 1.1 .7 .7 1.5 .9 1.4 .5 4.6 .9 4.9 .2 5.8-.2 6.2-.6 6.2-1 5.5-1.3 4.1-1.7 1.3-.8 .8-.9 .3-.5-.1-.9-1-1.4-2.2-1.2-4.3-1.5-5.4-1.2-4.3-.5-4.3-.2-4.1 .1-5 .6-4.3 1.1-3.4 1.4-3.1 2.1-.9 .9-.9 1.3-.4 1.3 0 .8 .5 1.1 .7 .7 1.5 .9 1.4 .5 4.6 .8 4.8 .3 5.7-.2 6.2-.6 6.2-1 5.4-1.4 4.1-1.6 1.4-.9 .8-.8 .2-.5 0-.9-1.1-1.3-2.1-1.3-4.3-1.5-5.3-1.1-4.3-.5-4.3-.3-4.1 .1-5 .7-4.2 1.1-3.4 1.4-3.2 2.1-.8 .8-.9 1.3-.4 1.3 0 .8 .5 1.1 .7 .6 1.5 .9 1.3 .5 4.6 .9 4.8 .2 5.7-.2 6.2-.6 6.1-1 5.4-1.3 4.1-1.6 1.3-.9 .8-.9 .2-.4 0-.9-1-1.3-2.2-1.3-4.2-1.5-5.3-1.1-4.3-.5-4.2-.2-4.1 .1-4.9 .6-4.2 1.1-3.4 1.4-3.2 2.1-.8 .8-.9 1.3-.4 1.3 0 .8 .5 1.1 .6 .6 1.5 .9 1.4 .5 4.5 .8 4.9 .3 5.6-.2 6.1-.6 6.1-1 5.4-1.4 4-1.5 1.3-.9 .8-.9 .2-.4 0-.9-1-1.3-2.1-1.3-4.3-1.4-5.2-1.1-4.2-.5-4.2-.2-4.1 .1-4.9 .6-4.2 1-3.4 1.5-3.1 2-.8 .9-1 1.2-.4 1.3 .1 .8 .5 1 .6 .7 1.5 .9 1.3 .4 4.6 .9 4.8 .2 5.6-.2 6.1-.6 6-1 5.4-1.3 3.9-1.6 1.4-.8 .8-.9 .2-.4-.1-.9-1-1.3-2.1-1.3-4.2-1.4-5.2-1.1-4.2-.5-4.2-.2-4 .1-4.8 .6-4.2 1.1-3.4 1.4-3.1 2-.8 .9-1 1.2-.4 1.3 .1 .7 .4 1.1 .7 .7 1.5 .8 1.3 .5 4.5 .8 4.8 .3 5.6-.2 6-.6 6-1 5.3-1.3 4-1.6 1.3-.8 .8-.9 .2-.4 0-.9-1-1.3-2.1-1.2-4.2-1.5-5.1-1-4.2-.5-4.2-.2-4 .1-4.8 .6-4.1 1-3.4 1.4-3.1 2-1.8 2.1-.4 1.3 0 .7 .5 1.1 .7 .6 1.4 .9 1.3 .5 4.5 .8 4.8 .2 5.5-.2 6.1-.6 5.9-.9 5.3-1.4 3.9-1.5 1.3-.8 .8-.9 .2-.4 0-.9-1-1.3-2.1-1.2-4.1-1.4-5.1-1.1-4.1-.5-4.2-.2-3.9 .1-4.9 .6-4.1 1.1-3.3 1.4-3.1 2-1.8 2.1-.4 1.2 0 .7 .5 1.1 .6 .6 1.5 .9 1.3 .4 4.5 .8 4.7 .3 5.5-.2 6-.6 5.9-1 5.3-1.3 3.9-1.5 1.3-.9 .8-.8 .1-.5 0-.8-1-1.3-2-1.2-4.1-1.4-5.1-1.1-4.1-.4-4.1-.2-3.9 .1-4.8 .6-4.1 1-3.3 1.4-3.1 2-1.8 2.1-.4 1.1 0 .8 .5 1.1 .6 .6 1.5 .8 1.3 .5 4.4 .8 4.7 .2 5.5-.2 5.9-.6 5.9-.9 5.3-1.3 3.8-1.6 1.3-.8 .8-.8 .2-.5 0-.8-1-1.3-2.1-1.2-4-1.4-5.1-1-4-.5-4.1-.2-3.9 .1-4.8 .6-4 1.1-3.4 1.3-3 2-1.8 2.1-.4 1.1 0 .8 .5 1 .6 .7 1.4 .8 1.3 .5 4.4 .7 4.7 .3 5.5-.2 5.9-.6 5.9-1 5.1-1.3 3.9-1.5 1.3-.8 .7-.8 .2-.5 0-.8-1-1.3-2-1.2-4-1.3-5-1.1-4.1-.4-4-.2-3.9 .1-4.7 .6-4.1 1-3.3 1.4-3 1.9-1.8 2.1-.4 1.1 0 .8 .4 1 .7 .6 1.4 .9 1.3 .4 4.4 .8 4.6 .2 5.4-.2 5.9-.6 5.9-.9 5.1-1.3 3.8-1.5 1.3-.8 .8-.9 .2-.4-.1-.8-.9-1.3-2.1-1.1-4-1.4-4.9-1-4-.5-4-.2-3.9 .1-4.7 .6-4 1.1-3.3 1.3-3 2-1.8 2-.4 1.1 0 .8 .4 1 .6 .6 1.4 .8 1.3 .5 4.4 .8 4.6 .2 6.9-.3 5.9-.7 5.6-1 4.9-1.4 3.4-1.5 1.3-1.3 .2-.4 0-.8-1-1.3-2-1.1-4-1.4-4.9-1-4-.4-3.9-.2-3.9 .1-4.6 .6-4 1-3.3 1.3-3 2-1.8 2-.4 1.1 0 .8 .4 1 .6 .6 1.4 .8 1.3 .4 4.3 .8 4.6 .2 6.8-.3 5.9-.6 5.6-1.1 4.9-1.3 3.3-1.5 1.3-1.3 .2-.4 0-.8-1-1.3-1.9-1.1-4-1.3-4.9-1-3.9-.5-4-.2-3.8 .2-4.6 .5-4 1.1-3.2 1.3-3 1.9-1.8 2-.5 1.1 0 .8 .5 1 .6 .6 1.4 .8 1.2 .4 4.4 .8 4.5 .2 6.8-.3 5.8-.7 5.7-1 4.7-1.3 3.4-1.6 1.3-1.2 .2-.4-.1-.8-.9-1.2-2-1.2-3.9-1.3-4.8-1-3.9-.4-4-.2-3.8 .1-4.6 .6-3.9 1-3.3 1.3-3 1.9-1.7 2-.5 1.1 0 .7 .5 1 .6 .6 1.3 .8 1.3 .5 4.3 .7 4.5 .2 6.8-.3 5.8-.6 5.6-1.1 4.7-1.3 3.3-1.5 1.3-1.2 .2-.4 0-.8-1-1.2-1.9-1.2-3.9-1.3-4.8-1-3.9-.4-3.9-.2-3.7 .2-4.6 .5-3.9 1-3.3 1.3-3 1.9-1.7 2-.5 1.1 0 .7 .4 1 .6 .6 1.4 .8 1.2 .4 4.3 .8 4.5 .2 6.7-.3 5.8-.7 5.6-1 4.7-1.3 3.3-1.5 1.3-1.2 .1-.4 0-.8-.9-1.2-2-1.2-3.8-1.3-4.8-.9-3.8-.5-3.9-.1-3.7 .1-4.6 .6-3.9 1-3.2 1.3-3 1.8-1.8 2-.4 1.1 0 .7 .4 1 .6 .6 1.4 .8 1.2 .4 4.2 .7 4.5 .2 6.7-.3 5.8-.6 5.5-1 4.7-1.3 3.2-1.5 1.3-1.2 .2-.4 0-.8-1-1.2-1.9-1.1-3.8-1.3-4.7-1-3.9-.4-3.8-.2-3.7 .2-4.5 .5-3.9 1-3.2 1.3-3 1.9-1.8 1.9-.4 1.1 0 .7 .4 1 .6 .6 1.3 .7 1.3 .5 4.2 .7 4.5 .2 6.6-.3 5.7-.7 5.5-1 4.6-1.3 3.3-1.4 1.3-1.2 .1-.4 0-.8-.9-1.2-1.9-1.1-3.8-1.3-4.7-.9-3.8-.5-3.8-.1-3.7 .1-4.5 .6-3.9 1-3.2 1.2-2.9 1.9-1.8 1.9-.4 1.1 0 .7 .4 1 .6 .6 1.3 .7 1.2 .4 4.2 .8 4.5 .2 6.6-.3 5.7-.7 5.4-1 4.6-1.3 3.3-1.4 1.2-1.2 .2-.4 0-.8-1-1.2-1.9-1.1-3.7-1.3-4.7-.9-3.8-.4-3.8-.2-3.6 .1-4.5 .6-3.8 1-3.2 1.3-2.9 1.8-1.8 1.9-.4 1.1 0 .7 .4 .9 .5 .6 1.4 .8 1.2 .4 4.2 .7 4.4 .2 6.6-.3 5.6-.6 5.4-1 4.6-1.3 3.2-1.4 1.3-1.2 .1-.4 0-.8-.9-1.2-1.9-1.1-3.8-1.2-4.6-1-3.8-.4-3.7-.2-3.7 .2-4.4 .5-3.8 1-3.8 1.6-2.7 1.9-1.5 1.9-.3 1 .1 .7 .6 .9 .7 .6 2.2 .9 4.1 .7 4.5 .2 6.5-.3 5.6-.6 5.4-1 4.5-1.3 3.2-1.4 1.2-1.2 .2-.4 0-.8-1-1.2-1.9-1.1-3.7-1.2-4.6-.9-3.7-.5-3.8-.1-3.6 .1-4.4 .6-3.8 .9-3.8 1.6-2.6 1.9-1.5 1.8-.3 1.1 .1 .7 .6 .9 .7 .6 2.2 .9 4.1 .7 4.4 .2 6.5-.3 5.5-.7 5.4-.9 4.5-1.3 3.2-1.4 1.2-1.2 .1-1.2-.9-1.1-1.9-1.1-3.7-1.3-4.6-.9-3.7-.4-3.7-.2-3.6 .1-4.4 .6-3.7 1-3.8 1.5-2.7 1.9-1.4 1.8-.3 1.1 .1 .7 .6 .9 .7 .5 2.1 .9 4.2 .8 4.3 .1 6.5-.2 5.5-.7 5.3-1 4.5-1.2 3.1-1.4 1.2-1.2 .2-1.2-1-1.1-1.8-1.1-3.7-1.3-4.6-.9-3.7-.4-3.6-.2-3.6 .2-4.3 .5-3.8 1-3.7 1.6-2.7 1.8-1.4 1.8-.3 1.1 .1 .7 .6 .9 .7 .5 2.1 .9 4.1 .7 4.4 .2 6.4-.3 5.5-.6 5.2-1 4.5-1.2 3.1-1.4 1.2-1.2 .1-1.2-.9-1.1-1.9-1.1-3.6-1.2-4.6-1-3.6-.4-3.7-.1-3.5 .1-4.3 .6-3.7 .9-3.8 1.6-2.6 1.8-1.5 1.8-.2 1.1 .1 .6 .5 .9 .7 .6 2.2 .9 4.1 .7 4.3 .2 6.4-.3 5.4-.6 5.3-1 4.4-1.2 3.1-1.4 1.1-1.2 .2-1.2-1-1.1-1.8-1.1-3.6-1.2-4.5-.9-3.7-.4-3.6-.2-3.5 .1-4.3 .6-3.7 .9-3.7 1.6-2.6 1.8-1.5 1.8-.2 1.1 .1 .6 .5 .9 .7 .6 2.1 .9 4.1 .7 4.3 .2 6.4-.3 5.4-.6 5.2-1 4.4-1.2 3-1.4 1.2-1.2 .1-1.1-.9-1.2-1.9-1-3.6-1.3-4.4-.9-3.6-.4-3.7-.2-3.4 .2-4.3 .5-3.7 .9-3.7 1.6-2.6 1.8-1.4 1.8-.3 1.1 .1 .6 .6 .9 .7 .5 2.1 .9 4.1 .7 4.2 .2 6.4-.2 5.4-.7 5.1-.9 4.4-1.2 3-1.4 1.2-1.2 .1-1.1-1-1.2-1.8-1-3.6-1.3-4.4-.9-3.6-.4-3.6-.1-3.5 .1-4.2 .5-3.6 1-3.7 1.5-2.6 1.8-1.4 1.8-.3 1 .1 .7 .6 .9 .7 .5 2.1 .9 4 .7 4.3 .2 6.3-.3 5.3-.6 5.2-.9 4.3-1.2 3-1.4 1.1-1.2 .1-1.1-.9-1.1-1.8-1.1-3.6-1.2-4.4-.9-3.6-.4-3.5-.2-3.5 .1-4.2 .6-3.6 .9-3.6 1.5-2.6 1.8-1.4 1.8-.3 1 .1 .7 .6 .9 .7 .5 2.1 .9 4 .7 4.2 .2 6.3-.3 5.3-.6 5.1-1 4.3-1.2 3-1.4 1.1-1.1 .1-1.1-.9-1.1-1.9-1.1-3.5-1.2-4.4-.9-3.5-.4-3.6-.2-3.4 .2-4.2 .5-3.6 .9-3.6 1.5-2.5 1.8-1.4 1.8-.3 1 .1 .7 .6 .9 .6 .5 2.1 .9 4 .6 4.2 .2 6.3-.2 5.3-.6 5-1 4.3-1.2 2.9-1.4 1.1-1.1 .1-1.1-.9-1.1-1.8-1.1-3.5-1.2-4.4-.9-3.5-.4-3.5-.1-3.4 .1-4.1 .5-3.6 .9-3.6 1.6-2.6 1.7-1.4 1.8-.2 1 .1 .7 .5 .8 .7 .6 2.1 .8 4 .7 4.2 .2 6.2-.3 5.2-.6 5.1-.9 4.2-1.2 2.9-1.4 1.1-1.1 .1-1.1-.9-1.1-1.8-1-3.5-1.2-4.4-.9-3.4-.4-3.5-.2-3.4 .1-4.1 .5-3.6 1-3.6 1.5-2.5 1.7-1.4 1.8-.2 1 .1 .6 .5 .9 .7 .5 2.1 .9 3.9 .7 4.2 .2 6.2-.3 5.2-.6 5-.9 4.2-1.2 2.9-1.4 1.1-1.1 0-1.1-.9-1.1-1.7-1-3.5-1.2-4.3-.9-3.5-.4-3.5-.2-3.3 .1-4.1 .6-3.6 .9-3.5 1.5-2.5 1.7-1.4 1.8-.2 1 0 .6 .6 .9 .7 .5 2 .9 4 .7 4.1 .1 6.2-.2 5.2-.6 4.9-.9 4.2-1.2 2.9-1.4 1-1.1 .1-1.1-.9-1.1-1.8-1-3.4-1.2-4.3-.9-3.5-.4-3.4-.1-3.3 .1-4.1 .5-3.5 .9-3.5 1.5-2.5 1.7-1.4 1.8-.3 1 .1 .6 .6 .9 .7 .5 2 .9 3.9 .6 4.2 .2 6.1-.2 5.1-.6 5-.9 4.1-1.2 2.8-1.4 1.1-1 .1-1.2-.9-1.1-1.8-1-3.5-1.2-4.2-.9-3.4-.4-3.5-.1-3.3 .1-4 .5-3.5 .9-3.5 1.5-2.5 1.7-1.3 1.8-.3 1 .1 .6 .6 .9 .6 .5 2.1 .8 3.9 .7 4.1 .2 6-.3 5.2-.5 4.9-.9 4.1-1.2 2.8-1.4 1.1-1 0-1.2-.9-1-1.7-1.1-3.5-1.1-4.2-.9-3.4-.4-3.4-.2-3.3 .1-4 .6-3.4 .8-3.5 1.5-2.5 1.7-1.4 1.8-.2 1 .1 .6 .6 .8 .6 .6 2 .8 3.9 .7 4.1 .2 6-.3 5.2-.6 4.8-.9 4.1-1.1 2.8-1.4 1-1 .1-1.1-.9-1.1-1.8-1-3.4-1.2-4.2-.9-3.3-.4-3.4-.1-3.3 .1-4 .5-3.4 .9-3.5 1.4-2.4 1.7-1.4 1.8-.2 1 .1 .6 .5 .8 .7 .5 2 .9 3.9 .7 4.1 .1 5.9-.2 5.1-.6 4.9-.9 4-1.1 2.8-1.4 1-1 .1-1.1-.9-1.1-1.8-1-3.4-1.2-4.1-.9-3.4-.4-3.4-.1-3.2 .1-4 .5-3.4 .9-3.4 1.5-2.4 1.6-1.4 1.8-.2 .9 .1 .7 .5 .8 .7 .5 2 .9 3.8 .6 4.1 .2 5.9-.2 5.1-.6 4.8-.9 4-1.1 2.8-1.4 1-1 0-1.1-.9-1.1-1.7-1-3.4-1.2-4.1-.8-3.4-.4-3.3-.2-3.2 .1-3.9 .5-3.4 .9-3.5 1.5-2.4 1.6-1.3 1.8-.3 .9 .1 .6 .6 .9 .6 .5 2 .8 3.9 .7 4 .2 5.9-.3 5.1-.5 4.7-.9 4-1.1 2.7-1.4 1-1 .1-1.1-.9-1.1-1.7-1-3.4-1.1-4.1-.9-3.3-.4-3.3-.1-3.2 .1-3.9 .5-3.4 .8-3.4 1.5-2.4 1.6-1.3 1.7-.3 1 .1 .6 .6 .9 .6 .5 2 .8 3.8 .7 4 .2 5.9-.3 5-.6 4.8-.8 3.9-1.2 2.7-1.3 1-1 .1-1.1-.9-1.1-1.8-1-3.3-1.1-4.1-.9-3.3-.4-3.3-.1-3.1 .1-3.9 .5-3.4 .8-3.3 1.5-2.4 1.7-1.4 1.6-.2 1 .1 .6 .6 .9 .6 .5 2 .8 3.8 .6 4 .2 5.8-.2 5-.6 4.7-.8 3.9-1.2 2.7-1.3 1-1 0-1.1-.9-1.1-1.7-.9-3.3-1.2-4-.9-3.3-.3-3.3-.2-3.1 .1-3.9 .5-3.3 .9-3.4 1.4-2.4 1.7-1.3 1.6-.2 1 .1 .6 .5 .8 .7 .5 2 .9 3.7 .6 4 .2 5.8-.2 5-.6 4.6-.9 3.9-1.1 2.7-1.3 1-1 0-1.1-.9-1-1.7-1-3.3-1.2-4-.8-3.3-.4-3.2-.2-3.2 .1-3.8 .5-3.3 .9-3.3 1.4-2.4 1.7-1.3 1.6-.2 1 .1 .6 .5 .8 .6 .5 2 .8 3.8 .7 3.9 .2 5.8-.3 4.9-.5 4.7-.9 3.8-1.1 2.7-1.3 .9-1 .1-1.1-.9-1-1.7-1-3.3-1.2-4-.8-3.2-.4-3.3-.1-3.1 .1-3.8 .5-3.3 .8-3.3 1.4-2.3 1.7-1.3 1.6-.3 1 .1 .6 .6 .8 .6 .5 2 .8 3.7 .7 4 .1 5.7-.2 4.9-.5 4.6-.9 3.8-1.1 2.7-1.3 .9-1 0-1.1-.8-1-1.7-1-3.3-1.1-4-.9-3.2-.4-3.2-.1-3.1 .1-3.8 .5-3.2 .8-3.3 1.4-2.3 1.7-1.3 1.6-.3 1 .1 .6 .6 .8 .6 .5 1.9 .8 3.8 .6 3.9 .2 5.7-.2 4.9-.6 4.5-.8 3.9-1.1 2.5-1.3 1-1 0-1.1-.9-1-1.7-1-3.2-1.1-3.9-.8-3.2-.4-3.2-.2-3.1 .1-3.7 .5-3.3 .9-3.3 1.4-2.3 1.6-1.3 1.6-.2 1 .1 .6 .5 .8 .7 .5 1.9 .8 3.7 .6 3.9 .2 5.7-.2 4.8-.6 4.6-.8 3.8-1.1 2.5-1.3 1-1 0-1.1-.9-1-1.7-1-3.2-1.1-3.9-.8-3.2-.4-3.2-.1-3 .1-3.7 .4-3.3 .9-3.2 1.4-2.3 1.6-1.3 1.6-.2 1 .1 .5 .5 .9 .6 .4 2 .8 3.7 .7 3.8 .2 5.7-.3 4.8-.5 4.5-.8 3.8-1.1 2.5-1.3 .9-1 .1-1-.9-1.1-1.7-.9-3.2-1.2-3.9-.8-3.1-.4-6.2 0-3.7 .5-3.2 .8-3.3 1.4-2.2 1.6-1.3 1.6-.2 .9 .1 .6 .5 .8 .6 .5 1.9 .8 3.7 .7 3.9 .1 5.6-.2 4.8-.5 4.5-.9 3.7-1 2.5-1.3 .9-1 0-1-.8-1.1-1.7-.9-3.2-1.1-3.9-.9-3.1-.3-6.1-.1-3.7 .5-3.2 .8-3.2 1.4-2.3 1.6-1.2 1.6-.3 .9 .1 .6 .6 .8 .6 .5 1.9 .8 3.7 .6 3.8 .2 5.6-.2 4.7-.5 4.5-.9 3.7-1 2.5-1.3 .9-1 0-1-.9-1-1.6-1-3.2-1.1-3.8-.8-3.1-.4-6.1-.1-3.7 .5-3.2 .8-3.1 1.4-2.3 1.6-1.3 1.6-.2 .9 .1 .6 .5 .8 .7 .5 1.9 .8 3.6 .6 3.8 .2 5.6-.2 4.7-.6 4.4-.8 3.7-1 2.5-1.3 .9-1 0-1-.9-1-1.6-1-3.2-1.1-3.8-.8-3.1-.4-6.1 0-3.6 .4-3.1 .9-3.2 1.3-2.2 1.6-1.3 1.6-.2 .9 .1 .6 .5 .8 .6 .5 1.9 .8 3.7 .6 3.7 .2 4.4-.2 4.7-.4 4.5-.8 3.9-1 2.8-1.2 1.2-.9 .3-1.1-.6-1-1.4-1-2.9-1.1-2.7-.7-4-.7-3.1-.2-4 .1-3.6 .5-3.1 .8-3.1 1.3-2.3 1.6-1.2 1.6-.2 .9 .1 .6 .5 .8 .6 .4 1.9 .8 3.6 .7 3.8 .1 4.3-.1 4.7-.4 4.5-.8 3.8-1 2.8-1.2 1.2-.9 .2-1.1-.6-1-1.3-.9-2.9-1.2-2.7-.7-4-.6-3-.2-4 0-3.6 .5-3.1 .8-3.1 1.3-2.2 1.6-1.2 1.6-.3 .9 .1 .6 .6 .8 .6 .4 1.9 .8 3.5 .6 3.8 .2 4.3-.1 4.7-.5 4.4-.7 3.8-1 2.8-1.2 1.1-.9 .3-1.1-.6-1-1.4-.9-2.8-1.2-2.7-.7-3.9-.6-3.1-.2-3.9 .1-3.5 .4-3.1 .8-3.1 1.4-2.2 1.5-1.3 1.6-.2 .9 .1 .6 .5 .7 .6 .5 1.9 .8 3.6 .6 3.7 .2 4.3-.1 4.6-.5 4.5-.7 3.8-1 2.7-1.2 1.1-.9 .3-1-.6-1-1.4-1-2.8-1.1-2.7-.7-3.9-.7-3-.2-3.9 .1-3.5 .4-3.1 .8-3.1 1.4-2.2 1.5-1.2 1.6-.2 .9 .1 .5 .5 .8 .6 .5 1.9 .8 3.5 .6 3.8 .2 4.2-.2 4.6-.4 4.4-.7 3.8-1 2.7-1.2 1.1-.9 .3-1-.6-1-1.4-1-2.8-1.1-2.6-.7-3.9-.6-3-.3-3.9 .1-3.5 .5-3.1 .8-3 1.3-2.2 1.5-1.2 1.6-.2 .9 .1 .5 .5 .8 .6 .5 1.8 .7 3.6 .7 3.7 .1 4.3-.1 4.5-.4 4.4-.8 3.7-.9 2.7-1.2 1.1-.9 .3-1-.6-1-1.4-1-2.8-1.1-2.6-.7-3.9-.6-3-.2-3.8 0-3.5 .5-3 .8-3.1 1.3-2.1 1.5-1.2 1.6-.3 .9 .1 .5 .6 .8 .6 .5 1.8 .7 3.5 .6 3.7 .2 4.3-.1 4.5-.4 4.3-.8 3.7-.9 2.7-1.2 1.1-.9 .2-1-.5-1-1.4-1-2.8-1.1-2.6-.7-3.9-.6-2.9-.2-3.8 .1-3.5 .4-3 .8-3 1.3-2.2 1.5-1.2 1.6-.2 .8 .1 .6 .5 .8 .6 .4 1.9 .8 3.5 .6 3.6 .2 4.3-.1 4.4-.5 4.3-.7 3.7-.9 2.7-1.2 1.1-.9 .2-1-.6-1-1.3-.9-2.8-1.2-2.6-.6-3.8-.7-2.9-.2-3.8 .1-3.5 .4-3 .8-3 1.3-2.1 1.5-1.2 1.6-.2 .8 .1 .6 .5 .8 .6 .4 1.8 .8 3.5 .6 3.7 .2 4.2-.2 4.4-.4 4.3-.7 3.7-1 2.6-1.1 1.1-.9 .2-1-.6-1-1.3-.9-2.8-1.1-2.6-.7-3.8-.6-2.9-.3-3.7 .1-3.5 .5-2.9 .7-3 1.3-2.1 1.5-1.2 1.6-.2 .8 .1 .6 .5 .7 .6 .5 1.8 .8 3.5 .6 3.6 .1 4.2-.1 4.4-.4 4.2-.7 3.7-1 2.6-1.1 1.1-.9 .2-1-.6-1-1.3-.9-2.8-1.1-2.5-.7-3.8-.6-2.9-.2-3.8 0-3.4 .5-2.9 .8-2.4 1-2.3 1.4-1.4 1.5-.3 .9 0 .6 .3 .8 .5 .5 1.6 .8 3.2 .6 3.4 .3 4.1-.1 4.4-.3 4.3-.6 3.8-.9 2.9-1.1 1.5-1.2 .3-1-.6-1-1.3-.9-2.8-1.1-2.5-.7-3.8-.6-2.9-.2-3.7 .1-3.3 .4-3 .8-2.4 1-2.3 1.4-1.3 1.5-.4 .9 0 .6 .4 .8 .5 .4 1.6 .8 3.2 .7 3.4 .3 4-.1 4.3-.3 4.3-.6 3.8-.9 2.9-1.1 1.5-1.2 .3-1-.6-1-1.3-.9-2.8-1.1-2.5-.6-3.7-.7-2.9-.2-3.7 .1-3.3 .4-2.9 .8-2.5 1-2.2 1.4-1.4 1.5-.3 .9 0 .6 .4 .8 .5 .4 1.5 .8 3.2 .7 3.4 .2 4 0 4.3-.3 4.3-.7 3.7-.8 2.9-1.1 1.5-1.2 .3-1-.6-.9-1.3-1-2.7-1.1-2.6-.6-3.7-.6-2.8-.2-3.7 0-3.3 .5-2.9 .7-2.4 1-2.3 1.4-1.3 1.5-.3 .9 0 .6 .3 .7 .5 .5 1.6 .8 3.2 .7 3.3 .2 4 0 4.3-.4 4.2-.6 3.8-.9 2.8-1 1.5-1.2 .2-1-.5-.9-1.4-1-2.6-1-2.5-.7-3.7-.6-2.9-.2-3.6 0-3.3 .5-2.9 .7-2.4 1-2.2 1.4-1.3 1.5-.3 .9 0 .6 .3 .7 .5 .5 1.6 .8 3.1 .7 3.4 .2 3.9 0 4.3-.4 4.2-.6 3.7-.9 2.8-1 1.5-1.2 .2-1-.5-.9-1.4-.9-2.6-1.1-2.5-.7-3.7-.6-2.8-.2-3.6 .1-3.3 .4-2.8 .7-2.4 1-2.2 1.4-1.4 1.5-.3 .9 0 .6 .4 .7 .5 .5 1.5 .8 3.1 .6 3.4 .3 3.9-.1 4.3-.3 4.2-.6 3.6-.9 2.8-1 1.5-1.2 .2-1-.6-.9-1.3-.9-2.6-1.1-2.5-.7-3.6-.6-2.8-.2-3.6 .1-3.3 .4-2.8 .8-2.4 .9-2.2 1.5-1.3 1.4-.3 .9 0 .5 .4 .8 .4 .5 1.6 .7 3.1 .7 3.3 .3 3.9-.1 4.3-.3 4.1-.6 3.7-.9 2.7-1 1.5-1.2 .2-1-.6-.9-1.3-.9-2.6-1.1-2.5-.6-3.6-.6-2.7-.2-3.6 0-3.3 .4-2.8 .8-2.3 1-2.2 1.4-1.3 1.4-.3 .9 0 .5 .3 .8 .5 .4 1.6 .8 3 .7 3.4 .2 3.8 0 4.2-.3 4.2-.6 3.6-.9 2.7-1 1.5-1.2 .2-1-.6-.9-1.3-.9-2.6-1.1-2.4-.6-3.6-.6-2.8-.2-3.5 0-3.3 .5-2.8 .7-2.3 1-2.2 1.4-1.3 1.4-.3 .9 0 .5 .4 .8 .5 .4 1.5 .8 3.1 .7 3.3 .2 3.9 0 4.1-.4 4.1-.6 3.6-.8 2.7-1.1 1.5-1.1 .2-1-.6-.9-1.3-.9-2.6-1-2.4-.7-3.6-.6-2.7-.2-3.5 .1-3.2 .4-2.8 .7-2.3 1-2.2 1.4-1.3 1.4-.3 .9 0 .5 .4 .8 .4 .4 1.6 .8 3 .6 3.3 .3 3.9-.1 4.1-.3 4.1-.6 3.6-.8 2.6-1.1 1.5-1.1 .2-1-.6-.9-1.3-.9-2.6-1-2.4-.7-3.5-.6-2.7-.2-3.5 .1-3.2 .4-2.8 .7-2.3 1-2.1 1.4-1.3 1.4-.3 .9 0 .5 .3 .7 .5 .5 1.5 .8 3.1 .6 3.2 .3 3.9-.1 4.1-.3 4-.6 3.6-.8 2.7-1.1 1.4-1.1 .2-.9-.6-1-1.3-.9-2.5-1-2.4-.6-3.6-.6-2.7-.2-3.5 0-3.1 .4-2.8 .8-2.2 .9-2.2 1.4-1.3 1.4-.3 1.4 .4 .7 .5 .5 1.5 .7 3 .7 3.3 .2 3.8 0 4.1-.3 4-.6 3.5-.8 2.7-1.1 1.4-1.1 .2-.9-.6-1-1.3-.8-2.5-1.1-2.4-.6-3.5-.6-2.7-.2-3.5 0-3.1 .5-2.7 .7-2.3 .9-2.1 1.4-1.3 1.4-.3 1.4 .4 .7 .4 .5 1.6 .7 3 .7 3.2 .2 3.8 0 4.1-.3 4-.6 3.5-.9 2.6-1 1.4-1.1 .2-.9-.6-.9-1.3-.9-2.5-1.1-2.4-.6-3.5-.6-2.6-.2-3.5 .1-3.1 .4-2.7 .7-2.2 .9-2.2 1.4-1.2 1.4-.3 1.4 .3 .7 .5 .5 1.5 .7 3 .7 3.2 .2 3.8 0 4-.4 4-.5 3.5-.9 2.6-1 1.4-1.1 .2-.9-.6-.9-1.3-.9-2.5-1-2.4-.7-3.4-.6-2.7-.2-3.4 .1-3.1 .4-2.7 .7-2.2 .9-2.1 1.4-1.3 1.4-.2 1.4 .3 .7 .5 .4 1.5 .8 3 .6 3.2 .3 3.7-.1 4-.3 4-.6 3.4-.8 2.6-1 1.4-1.1 .2-.9-.6-.9-1.3-.9-2.5-1-2.3-.7-3.5-.5-2.6-.2-3.4 0-3.1 .4-2.6 .7-2.3 1-2 1.3-1.3 1.4-.3 1.4 .4 .7 .4 .4 1.5 .8 3 .6 3.2 .2 3.7 0 4-.3 3.9-.6 3.5-.8 2.5-1 1.4-1.1 .2-.9-.6-.9-1.3-.9-2.5-1-2.3-.6-3.4-.6-2.6-.2-3.4 0-3.1 .4-2.6 .7-2.2 1-2.1 1.3-1.2 1.4-.3 1.3 .3 .8 .5 .4 1.5 .8 2.9 .6 3.2 .2 3.7 0 4-.3 3.9-.6 3.4-.8 2.5-1 1.4-1.1 .1-.9-.5-.9-1.3-.9-2.5-1-2.3-.6-3.4-.6-2.6-.2-3.3 .1-3 .4-2.7 .7-2.2 .9-2 1.3-1.2 1.4-.3 1.3 .3 .8 .5 .4 1.5 .7 2.9 .7 3.2 .2 3.6 0 4-.3 3.9-.6 3.3-.8 2.5-1 1.4-1.1 .1-.9-.5-.9-1.3-.8-2.5-1.1-2.3-.6-3.3-.6-2.6-.2-3.3 .1-3 .4-2.7 .7-2.1 .9-2.1 1.3-1.2 1.4-.2 1.3 .3 .7 .5 .5 1.4 .7 3 .6 3.1 .3 3.7-.1 3.9-.3 3.8-.5 3.4-.8 2.5-1 1.3-1.1 .1-.9-.6-.9-1.2-.8-2.5-1-2.2-.7-3.4-.5-2.6-.2-3.2 0-3 .4-2.6 .7-2.2 .9-2 1.3-1.2 1.4-.3 1.3 .4 .7 .4 .5 1.5 .7 2.9 .6 3.1 .3 3.7-.1 3.9-.3 3.8-.5 3.3-.8 2.5-1 1.3-1.1 .1-.9-.6-.9-1.2-.8-2.5-1-2.2-.6-3.4-.6-2.5-.2-3.3 0-2.9 .4-2.6 .7-2.1 .9-2 1.3-1.2 1.4-.3 1.3 .4 .7 .4 .4 1.5 .8 2.9 .6 3.1 .2 3.6 0 3.9-.3 3.7-.5 3.3-.8 2.5-1 1.3-1.1 .1-.9-.6-.8-1.2-.9-2.5-1-2.2-.6-3.3-.6-2.5-.2-3.3 0-2.9 .4-2.6 .7-2.1 .9-2 1.3-1.2 1.4-.2 1.3 .3 .7 .5 .4 1.5 .8 2.8 .6 3.1 .2 3.6 0 3.8-.3 3.8-.5 3.3-.8 2.4-1 1.3-1.1 .1-.9-.6-.8-1.2-.9-2.5-1-3-.8-2.5-.4-2.5-.2-3.2 .1-2.9 .4-2.6 .6-2.1 .9-1.9 1.3-1.2 1.4-.2 1.3 .3 .7 .5 .4 1.4 .7 2.9 .7 3 .2 3.6 0 3.8-.3 3.8-.6 3.2-.7 2.4-1 1.2-1.1 .2-.8-.6-.9-1.2-.9-2.4-1-3.1-.7-2.4-.4-2.5-.2-3.2 0-2.9 .4-2.5 .6-2.1 .9-2 1.3-1.1 1.4-.3 1.3 .4 .7 .4 .4 1.5 .7 2.8 .6 3.1 .3 3.5 0 3.8-.3 3.7-.6 3.2-.7 2.4-1 1.2-1.1 .2-.8-.6-.9-1.2-.8-2.4-1-3-.8-2.5-.4-2.5-.2-3.1 0-2.9 .4-2.5 .7-2.1 .8-1.9 1.3-1.1 1.4-.3 1.2 .4 .7 .4 .5 1.5 .7 2.8 .6 3 .3 3.5-.1 3.8-.2 3.7-.6 3.2-.7 2.3-1 1.2-1.1 .1-.8-.5-.9-1.2-.8-2.4-1-3-.8-2.5-.4-2.4-.2-3.2 0-2.8 .4-2.5 .7-2 .8-1.9 1.3-1.2 1.4-.2 1.2 .3 .7 .5 .5 1.4 .7 2.9 .6 3 .2 3.5 0 3.7-.3 3.6-.5 3.2-.7 2.3-1 1.2-1.1 .1-.8-.6-.9-1.2-.8-2.3-1-3-.8-2.4-.4-2.4-.2-3.2 .1-2.8 .3-2.5 .7-2 .8-1.9 1.3-1.1 1.3-.2 1.3 .3 .7 .5 .4 1.4 .8 2.8 .6 3 .2 3.5 0 3.7-.3 3.6-.5 3.1-.7 2.3-1 1.2-1.1 .1-.8-.6-.9-1.2-.8-2.3-1-3-.8-2.4-.4-2.4-.2-3.1 .1-2.8 .3-2.4 .7-2 .9-1.9 1.2-1.1 1.3-.2 1.3 .7 1.1 1.5 .7 2.8 .7 2.9 .2 3.5 0 3.7-.3 3.6-.5 3.1-.8 2.3-.9 1.1-1.1 .1-.8-.6-.9-1.2-.8-2.3-1-2.9-.7-2.4-.4-2.4-.2-3.1 0-2.8 .4-2.4 .6-2 .9-1.9 1.2-1.1 1.3-.2 1.3 .8 1.1 1.4 .7 2.8 .6 3 .3 3.4 0 3.7-.3 3.5-.5 3.1-.8 2.3-.9 1.1-1 .1-.9-.6-.8-1.2-.9-2.3-.9-2.9-.8-2.4-.4-2.4-.2-3 0-2.8 .4-2.4 .6-2 .9-1.8 1.2-1.1 1.3-.2 1.3 .8 1.1 1.4 .7 2.8 .6 2.9 .3 3.4-.1 3.7-.2 3.5-.5 3-.8 2.3-.9 1.1-1 .1-.9-.6-.8-1.2-.8-2.3-1-2.9-.8-2.3-.4-2.4-.2-3 0-2.8 .4-2.4 .6-1.9 .9-1.9 1.2-1 1.3-.2 1.3 .8 1.1 1.4 .7 2.7 .6 2.9 .2 4.3 0 3.7-.3 3.4-.6 2.8-.8 2-.9 .7-.8 .1-.9-.6-.8-1.2-.8-2.3-1-2.9-.8-2.3-.4-2.3-.2-3 .1-2.8 .3-2.3 .6-2 .9-1.8 1.2-1.1 1.3-.2 1.3 .8 1.1 1.4 .7 2.8 .6 2.9 .2 4.2 0 3.6-.4 3.4-.5 2.9-.8 1.9-.9 .7-.8 .1-.9-.6-.8-1.2-.8-2.3-1-2.8-.8-2.3-.3-2.4-.3-3 .1-2.7 .3-2.3 .7-1.9 .8-1.8 1.2-1.1 1.3-.2 1.3 .8 1 1.4 .7 2.7 .7 2.9 .2 4.2 0 3.6-.4 3.4-.5 2.8-.8 1.9-.9 .7-.8 .1-.9-.6-.8-1.2-.8-2.3-1-2.8-.7-2.3-.4-2.3-.2-3 0-2.7 .3-2.3 .7-1.9 .8-1.8 1.2-1 1.3-.2 1.2 .8 1.1 1.4 .7 2.7 .6 2.9 .3 4.2-.1 3.5-.3 3.3-.5 2.8-.8 1.9-.9 .7-.8 .1-.8-.6-.9-1.2-.8-2.2-1-2.9-.7-2.2-.4-2.4-.2-2.9 0-2.7 .4-2.3 .6-1.9 .8-1.7 1.2-1.1 1.3-.1 1.2 .7 1.1 1.4 .7 2.7 .6 2.9 .3 4.2-.1 3.5-.3 3.3-.5 2.8-.8 1.8-.9 .7-.8 .1-.8-.6-.9-1.2-.8-2.2-.9-2.8-.8-2.3-.4-2.3-.2-2.9 0-2.6 .4-2.3 .6-1.9 .8-1.8 1.2-1 1.3-.2 1.2 .8 1.1 1.4 .7 2.7 .6 2.8 .2 4.2 0 3.5-.3 3.3-.6 2.7-.7 1.9-.9 .6-.8 .1-.8-.6-.9-1.2-.8-2.2-.9-2.8-.8-2.3-.4-2.2-.2-2.9 .1-2.6 .3-2.3 .6-1.9 .8-1.7 1.2-1 1.3-.2 1.2 .8 1.1 1.4 .7 2.6 .6 2.9 .2 6.7-.2 3.3-.5 2.9-.7 2.1-.9 .9-.7 .2-.8-.6-1.1-1.2-.8-2.2-1-2.8-.8-2.2-.3-2.3-.2-2.8 0-2.6 .3-2.3 .6-2.2 1.1-1.6 1.2-.9 1.2 0 1 .8 1.1 1.3 .7 2.7 .6 2.8 .2 6.7-.2 3.3-.5 2.9-.7 2-.9 .9-.7 .2-.8-.6-1.1-1.2-.8-2.2-1-2.7-.7-2.3-.4-2.2-.2-2.9 0-2.5 .3-2.3 .6-2.2 1.1-1.6 1.2-.8 1.2-.1 1 .8 1.1 1.4 .6 2.6 .6 2.8 .3 6.7-.2 3.3-.5 2.8-.7 2-.9 .9-.7 .2-.8-.6-1.1-1.1-.8-2.3-1-4.9-1.1-2.2-.2-2.9 0-2.5 .3-2.2 .6-2.3 1.1-1.5 1.2-.8 1.2-.1 1 .8 1 1.4 .7 2.6 .6 2.8 .3 6.6-.3 3.2-.4 2.8-.7 2.1-.9 .8-.7 .3-.8-.7-1.1-1.1-.8-2.2-.9-5-1.2-2.2-.2-2.8 0-2.5 .4-2.2 .6-2.2 1-1.5 1.2-.9 1.2 0 1 .8 1 1.3 .7 2.6 .6 2.8 .2 6.5-.2 3.3-.4 2.8-.7 2-.9 .8-.7 .3-.8-.7-1.1-1.1-.8-2.2-.9-4.9-1.2-2.2-.2-2.8 0-2.5 .4-2.2 .6-2.2 1-1.5 1.2-.8 1.2 0 1 .7 1 1.4 .7 2.6 .6 2.7 .2 6.5-.2 3.3-.5 2.7-.6 2-.9 .8-.7 .3-.8-.7-1.1-1.1-.8-2.2-.9-4.9-1.1-2.1-.2-2.8 0-2.5 .3-2.2 .6-2.1 1-1.5 1.2-.8 1.2-.1 1 .8 1 1.3 .7 2.6 .6 2.8 .2 6.4-.2 3.2-.5 2.8-.6 1.9-.9 .9-.7 .2-.8-.7-1.1-1.1-.8-2.2-.9-4.8-1.1-4.9-.2-2.5 .3-2.1 .6-2.2 1-1.5 1.2-.8 1.2 0 .9 .8 1.1 1.3 .7 2.6 .5 2.7 .3 6.4-.2 3.2-.5 2.7-.6 2-.9 .8-.7 .2-.8-.7-1.1-1.1-.7-2.2-1-4.8-1.1-4.8-.2-2.5 .3-2.1 .6-2.1 1-1.5 1.2-.8 1.2 0 .9 .7 1.1 1.4 .6 2.5 .6 2.7 .3 6.4-.2 3.2-.5 2.6-.6 2-.9 .8-.7 .2-.8-.7-1.1-1.1-.7-2.1-1-4.8-1.1-4.8-.2-2.5 .3-2.1 .6-2.1 1-1.5 1.2-.7 1.2-.1 .9 .8 1.1 1.3 .6 2.6 .6 2.6 .3 6.4-.2 3.1-.5 2.7-.7 1.9-.8 .8-.7 .2-.8-.7-1-1.1-.8-2.1-.9-4.7-1.2-4.9-.2-2.4 .4-2.1 .5-2.1 1-1.4 1.2-.8 1.2 0 .9 .8 1 1.3 .7 2.5 .6 2.7 .2 6.3-.2 3.1-.4 2.6-.7 1.9-.8 .8-.7 .2-.8-.7-1-1.1-.8-2.1-.9-4.7-1.1-4.8-.2-2.4 .3-2.1 .5-2 1-1.5 1.2-.7 1.2 0 .9 .7 1 1.3 .7 2.6 .6 2.6 .2 6.3-.2 3.1-.4 2.6-.7 1.9-.8 .7-.7 .2-.8-.7-1-1.1-.8-2.1-.9-4.6-1.1-4.8-.2-2.4 .3-2 .6-2.1 .9-1.4 1.2-.7 1.2-.1 .9 .8 1 1.3 .7 2.5 .6 2.6 .2 6.3-.2 3-.4 2.6-.7 1.9-.8 .7-.7 .2-.8-.6-1-1.1-.8-2.1-.9-4.7-1.1-4.7-.2-2.4 .3-2 .6-2 .9-1.5 1.2-.7 1.2 0 .9 .8 1 1.3 .7 2.5 .5 2.6 .3 6.1-.2 3.1-.4 2.6-.7 1.8-.8 .8-.7 .1-.8-.6-1-1.1-.8-2.1-.9-4.6-1.1-4.7-.2-2.4 .3-2 .6-2 .9-1.4 1.2-.7 1.2 0 .9 .7 1 1.3 .6 2.5 .6 2.6 .3 6.1-.2 3.1-.4 2.5-.7 1.8-.8 .8-.7 .1-.8-.6-1-1.1-.7-2.1-1-4.6-1.1-4.6-.2-2.4 .3-2 .6-2 1-1.3 1.1-.8 1.2 0 .9 .8 1 1.3 .6 2.4 .6 2.6 .2 6.1-.1 3-.5 2.6-.6 1.8-.8 .7-.7 .2-.7-.7-1.1-1.1-.7-2.1-.9-4.5-1.1-4.6-.3-2.3 .3-2 .6-2 1-1.4 1.1-.7 1.2 0 .9 .7 1 1.3 .6 2.5 .6 2.6 .2 6-.1 3-.5 2.5-.6 1.8-.8 .7-.7 .2-.7-.7-1.1-1.1-.7-2-.9-4.6-1.1-4.5-.2-2.3 .3-2 .5-2 1-1.3 1.1-.7 1.2-.1 .8 .8 1 1.3 .7 2.4 .6 2.6 .2 6-.2 3-.4 2.4-.6 1.8-.8 .7-.7 .2-.7-.7-1.1-1.1-.7-2-.9-4.5-1.1-4.5-.2-2.3 .3-2 .5-1.9 1-1.4 1.1-.7 1.1 0 .9 .8 1 1.2 .7 2.5 .6 2.5 .2 6-.2 2.9-.4 2.5-.6 1.7-.8 .8-.7 .1-.7-.7-1-1.1-.8-2-.9-4.5-1.1-4.5-.2-2.2 .3-2 .5-1.9 1-1.3 1.1-.7 1.1 0 .9 .7 1 1.3 .7 2.4 .5 2.6 .3 5.9-.2 2.9-.4 2.4-.6 1.8-.8 .7-.7 .1-.7-.7-1-1-.8-2.1-.9-4.4-1.1-4.5-.2-2.2 .3-1.9 .5-2 1-1.3 1.1-.7 1.1 0 .9 .8 1 1.3 .6 2.4 .6 2.5 .3 5.9-.2 2.9-.4 2.4-.6 1.7-.8 .7-.7 .1-.7-.6-1-1.1-.8-2-.9-4.4-1-4.5-.3-2.2 .3-1.9 .6-1.9 .9-1.3 1.1-.7 1.1 0 .9 .8 1 1.2 .6 2.4 .6 2.5 .2 5.9-.1 2.8-.4 2.4-.6 1.7-.8 .7-.7 .1-.7-.6-1-1.1-.8-2-.8-4.4-1.1-4.4-.2-2.2 .2-1.9 .6-1.9 .9-1.3 1.1-.6 1.1 0 .9 .7 1 1.3 .6 2.4 .6 2.4 .2 5.9-.1 2.8-.4 2.4-.6 1.7-.8 .6-.7 .2-.7-.7-1-1.1-.7-2-.9-4.3-1.1-4.4-.2-2.2 .3-1.9 .5-1.8 .9-1.3 1.1-.7 1.1 0 .9 .8 1 1.2 .6 2.4 .6 2.5 .2 5.7-.1 2.9-.4 2.3-.6 1.7-.8 .7-.7 .1-.7-.7-1-1.1-.7-1.9-.9-4.4-1.1-4.3-.2-2.2 .3-1.9 .5-1.8 .9-1.3 1.1-.6 1.1 0 .9 .7 .9 1.3 .7 2.3 .6 2.5 .2 5.7-.2 2.8-.3 2.4-.6 1.6-.8 .7-.7 .1-.7-.7-1-1-.7-2-.9-4.3-1.1-4.3-.2-2.2 .3-1.8 .5-1.9 .9-1.2 1.1-.7 1.1 0 .9 .8 .9 1.2 .7 2.4 .5 2.4 .3 5.7-.2 2.8-.4 2.3-.5 1.7-.8 .6-.7 .1-.7-.7-1-1-.7-2-.9-4.2-1.1-4.3-.2-2.2 .3-1.8 .5-1.8 .9-1.3 1.1-.6 1.1 0 .9 .8 .9 1.2 .7 2.3 .5 2.4 .3 5.7-.2 2.8-.4 2.3-.6 1.6-.7 .6-.7 .1-.7-.6-1-1.1-.7-1.9-.9-4.3-1-4.2-.3-2.2 .3-1.8 .5-1.8 .9-1.2 1.1-.7 1.1 .1 .9 .7 .9 1.2 .6 2.4 .6 2.4 .2 5.6-.1 2.7-.4 2.3-.6 1.6-.7 .7-.7 .1-.7-.7-1-1.1-.7-1.9-.9-4.2-1-4.3-.2-2.1 .2-1.8 .5-1.8 .9-1.2 1.1-.6 1.1 0 .8 .8 1 1.2 .6 2.3 .6 2.4 .2 5.6-.1 2.7-.4 2.3-.6 1.6-.7 .6-.7 .1-.7-.7-1-1-.7-2-.8-4.2-1.1-4.2-.2-2.1 .2-1.8 .5-1.7 .9-1.2 1.1-.6 1.1 0 .8 .7 1 1.2 .6 2.3 .6 2.4 .2 5.6-.1 2.7-.4 2.2-.6 1.6-.7 .6-.7 .1-.7-.7-.9-1-.8-1.9-.8-4.2-1.1-4.2-.2-2.1 .3-1.7 .5-1.8 .8-1.2 1.1-.6 1.1 0 .8 .8 1 1.2 .6 2.3 .6 2.4 .2 5.5-.1 2.6-.4 2.3-.6 1.5-.7 .6-.7 .1-.7-.7-.9-1-.7-1.9-.9-4.1-1.1-4.2-.2-2 .3-1.8 .5-1.8 .9-1.1 1-.6 1.1 0 .8 .7 1 1.3 .6 2.2 .5 2.4 .3 5.5-.1 2.6-.4 2.2-.6 1.6-.7 .6-.7 0-.7-.6-.9-1.1-.7-1.9-.9-4.1-1.1-4.1-.2-2 .3-1.8 .5-1.7 .9-1.2 1-.6 1.1 .1 .8 .7 .9 1.2 .7 2.3 .5 2.3 .3 5.4-.2 2.7-.3 2.2-.6 1.5-.7 .6-.7 .1-.7-.7-.9-1-.7-1.9-.9-4.1-1-4.1-.3-2 .3-1.8 .5-1.7 .9-1.2 1-.5 1.1 0 .8 .8 .9 1.2 .6 2.2 .6 2.3 .2 5.4-.1 2.6-.3 2.2-.6 1.5-.7 .6-.7 .1-.7-.7-.9-1-.7-1.9-.9-4.1-1-4-.2-2 .2-1.7 .5-1.7 .9-1.2 1-.6 1.1 .1 .8 .7 .9 1.2 .6 2.2 .6 2.4 .2 5.3-.1 2.6-.3 2.2-.6 1.5-.7 .5-.7 .1-.6-.7-1-1-.7-1.9-.9-4-1-4-.2-2 .2-1.7 .5-1.7 .9-1.2 1-.5 1.1 0 .8 .8 .9 1.2 .6 2.2 .6 2.3 .2 5.3-.1 2.6-.4 2.1-.5 1.5-.7 .6-.7 0-.6-.6-1-1.1-.7-1.8-.8-4-1.1-4-.2-2 .2-1.7 .5-1.7 .9-1.1 1-.6 1.1 .1 .8 .7 .9 1.2 .6 2.2 .6 2.3 .2 5.3-.1 2.6-.4 2.1-.5 1.4-.7 .6-.7 .1-.6-.7-1-1-.7-1.9-.8-4-1.1-3.9-.2-2 .3-1.7 .4-1.6 .9-1.2 1-.5 1.1 0 .8 .8 .9 1.1 .6 2.3 .5 2.2 .3 5.3-.1 2.5-.4 2.1-.5 1.5-.7 .5-.7 .1-.6-.7-1-1-.7-1.8-.8-4-1.1-3.9-.2-2 .3-1.7 .5-1.6 .8-1.1 1-.6 1.1 .1 .8 .7 .9 1.2 .6 2.2 .5 2.2 .3 5.3-.1 2.5-.4 2.1-.5 1.5-.7 .5-.7 .1-.6-.7-1-1-.7-1.8-.8-4-1-3.9-.3-2 .3-1.6 .5-1.7 .8-1.1 1-.5 1.1 0 .8 .7 .9 1.2 .6 2.2 .5 2.2 .3 5.3-.1 2.5-.4 2.1-.5 1.4-.8 .6-.6 0-.6-.6-1-1-.7-1.9-.8-3.9-1-3.9-.2-2 .2-1.6 .5-1.4 .6-1.2 1-.7 1.1 0 .8 .5 .9 1.1 .6 2 .6 2.1 .3 5.2 0 2.6-.3 2.2-.5 1.6-.7 .7-.6 .2-.6-.4-.9-.9-.7-1.7-.9-2.1-.7-2.3-.5-3.9-.2-1.9 .2-1.7 .5-1.3 .6-1.3 1-.6 1.1-.1 .8 .6 .9 1 .6 2 .6 2.1 .3 5.2 0 2.5-.3 2.2-.5 1.7-.7 .7-.6 .2-.6-.5-.9-.8-.7-1.7-.9-2.1-.7-2.3-.5-3.9-.2-1.9 .2-1.7 .5-1.3 .7-1.2 .9-.7 1.1-.1 .8 .6 .9 1 .6 2 .6 2.2 .3 5.1 0 2.5-.3 2.2-.5 1.6-.7 .7-.6 .2-.6-.4-.9-.9-.7-1.7-.9-2.1-.7-2.2-.5-3.9-.2-1.9 .2-1.7 .5-1.3 .7-1.2 .9-.7 1.1 0 .8 .5 .9 1 .6 2 .6 2.2 .3 5.1 0 2.5-.3 2.2-.5 1.6-.7 .7-.6 .2-.6-.5-.9-.8-.7-1.7-.9-2.1-.7-2.2-.5-3.9-.2-1.9 .3-1.6 .4-1.4 .7-1.2 .9-.6 1.1-.1 .8 .5 .9 1.1 .6 1.9 .6 2.2 .2 5 0 2.6-.3 2.2-.4 1.5-.7 .7-.6 .2-.6-.4-.9-.9-.7-1.6-.9-2.1-.7-2.3-.5-3.8-.2-1.9 .3-1.6 .4-1.4 .7-1.2 .9-.6 1.1-.1 .8 .6 .9 1 .6 2 .6 2.1 .2 5 0 2.5-.3 2.2-.5 1.6-.6 .7-.6 .2-.6-.4-.9-.9-.7-1.6-.9-2.1-.7-2.3-.4-3.8-.3-1.9 .3-1.6 .5-1.3 .6-1.2 1-.7 1-.1 .8 .6 .9 1 .6 2 .5 2.1 .3 5 0 2.5-.3 2.2-.5 1.6-.6 .7-.6 .2-.6-.5-.9-.8-.7-1.7-.9-2-.6-2.3-.5-3.8-.2-1.9 .2-1.6 .5-1.3 .6-1.2 1-.7 1 0 .8 .5 .9 1 .6 2 .5 2.1 .3 5 0 2.5-.3 2.2-.5 1.5-.6 .7-.6 .2-.6-.4-.9-.9-.7-1.6-.8-2.1-.7-2.2-.5-3.8-.2-1.9 .2-1.6 .5-1.3 .6-1.2 1-.6 1-.1 .8 .5 .9 1 .6 2 .5 2.1 .3 5 0 2.5-.3 2.1-.5 1.6-.6 .7-.6 .2-.7-.5-.8-.8-.7-1.6-.8-2.1-.7-2.2-.5-3.8-.2-1.8 .2-1.6 .5-1.4 .6-1.2 1-.6 1-.1 .8 .6 .8 1 .6 1.9 .6 2.1 .3 5 0 4.6-.8 1.6-.7 .6-.5 .2-.7-.4-.8-.8-.7-1.7-.8-2-.7-2.2-.5-3.8-.2-1.8 .3-1.6 .4-1.3 .6-1.2 1-.7 1 0 .8 .5 .8 1 .6 1.9 .6 2.1 .3 5 0 4.6-.8 1.5-.7 .7-.5 .2-.7-.4-.8-.9-.7-1.6-.8-2-.7-2.2-.5-3.7-.2-1.9 .3-1.6 .4-1.3 .7-1.2 .9-.6 1-.1 .8 .5 .8 1 .6 1.9 .6 2.1 .3 5-.1 4.5-.7 1.6-.7 .7-.5 .2-.7-.5-.8-.8-.7-1.6-.8-2-.7-2.2-.5-3.7-.2-1.9 .3-1.6 .4-1.3 .7-1.2 .9-.6 1-.1 .8 .5 .8 1 .6 2 .6 2 .2 4.9 0 4.6-.7 1.6-.7 .6-.5 .2-.7-.4-.8-.8-.7-1.6-.8-2.1-.7-2.1-.4-3.7-.2-1.9 .2-1.6 .5-1.3 .6-1.1 .9-.7 1-.1 .7 .6 .9 .9 .6 2 .6 2 .2 4.9 0 4.6-.8 1.5-.6 .7-.6 .2-.6-.5-.8-.8-.7-1.6-.8-2-.7-2.1-.4-3.7-.2-1.9 .2-1.6 .5-1.2 .6-1.2 .9-.7 1 0 .7 .5 .9 1 .6 1.9 .6 2 .2 4.9 0 4.6-.8 1.5-.6 .6-.6 .2-.6-.4-.8-.8-.7-1.6-.8-2-.7-2.2-.4-3.6-.2-1.9 .2-1.5 .5-1.3 .6-1.2 .9-.6 1-.1 .7 .5 .9 1 .6 1.9 .5 2 .3 4.9 0 4.5-.8 1.5-.6 .7-.6 .2-.6-.4-.8-.8-.7-1.6-.8-2-.7-2.2-.4-3.6-.2-1.8 .2-1.6 .5-1.3 .6-1.2 .9-.6 1-.1 .7 .5 .9 1 .6 1.9 .5 2 .3 4.9 0 4.5-.8 1.5-.6 .7-.6 .2-.6-.5-.8-.8-.7-1.6-.8-1.9-.6-2.2-.5-3.6-.2-1.8 .3-1.6 .4-1.3 .6-1.1 .9-.7 1-.1 .7 .6 .9 .9 .6 1.9 .5 2 .3 4.9 0 4.5-.8 1.5-.6 .6-.6 .2-.6-.4-.8-.8-.7-1.6-.8-1.9-.6-2.2-.5-3.6-.2-1.8 .3-1.6 .4-1.2 .6-1.2 .9-.7 1 0 .7 .5 .9 1 .6 1.8 .5 2.1 .3 4.8-.1 4.4-.7 1.5-.6 .7-.6 .2-.6-.4-.8-.8-.7-1.6-.8-2-.6-2.1-.5-3.6-.2-1.8 .3-1.6 .4-1.2 .6-1.2 .9-.6 1-.1 .7 .5 .9 1 .6 1.9 .5 2 .3 4.8-.1 4.4-.7 1.5-.6 .7-.6 .1-.6-.4-.8-.8-.7-1.5-.8-2-.6-2.1-.5-3.6-.1-1.8 .2-1.5 .4-1.3 .6-1.2 .9-.6 1-.1 .7 .5 .9 1 .6 1.9 .5 2 .2 4.8 0 4.4-.7 1.5-.6 .6-.6 .2-.6-.4-.8-.8-.7-1.6-.8-4-1-3.6-.2-1.8 .2-1.5 .5-1.3 .6-1.1 .8-.7 1 0 .7 .5 .9 .9 .5 1.9 .6 2 .2 4.7 0 4.5-.7 1.4-.7 .7-.5 .2-.6-.5-.8-.7-.7-1.6-.8-4-1-3.6-.2-1.8 .2-1.5 .5-1.3 .6-1.1 .9-.6 .9-.1 .7 .5 .9 .9 .5 1.9 .6 2 .2 4.7 0 4.4-.7 1.5-.7 .6-.5 .2-.6-.4-.8-.8-.7-1.5-.7-4-1.1-3.6-.2-1.8 .2-1.5 .5-1.2 .6-1.2 .9-.6 .9-.1 .7 .5 .9 1 .5 1.8 .6 2 .2 4.7 0 4.4-.8 1.5-.6 .6-.5 .2-.6-.4-.8-.8-.7-1.5-.7-4-1.1-3.6-.2-1.7 .3-1.6 .4-1.2 .6-1.2 .9-.6 .9-.1 .7 .5 .9 1 .5 1.8 .5 2 .3 4.7 0 4.4-.8 1.4-.6 .7-.5 .2-.6-.5-.8-.7-.7-1.6-.7-3.9-1.1-3.6-.2-1.7 .3-1.5 .4-1.3 .6-1.1 .9-.7 .9 0 .7 .5 .9 .9 .5 1.8 .5 2 .3 4.7 0 4.3-.8 1.5-.6 .6-.5 .2-.6-.4-.8-.8-.7-1.5-.7-4-1.1-3.5-.2-1.7 .3-1.5 .4-1.3 .6-1.1 .9-.6 .9-.1 .7 .5 .9 .9 .5 1.9 .5 1.9 .3 4.7-.1 4.3-.7 1.5-.6 .6-.5 .2-.6-.4-.8-.8-.7-1.5-.7-4-1.1-3.5-.1-1.7 .2-1.5 .4-1.2 .6-1.2 .9-.6 .9-.1 .7 .5 .8 .9 .6 1.9 .5 1.9 .3 4.7-.1 4.3-.7 1.4-.6 .7-.5 .1-.6-.4-.8-.7-.7-1.6-.7-3.9-1.1-3.5-.1-1.7 .2-1.5 .4-1.2 .6-1.2 .9-.6 .9-.1 .7 .5 .8 1 .6 1.8 .5 1.9 .2 4.7 0 4.3-.7 1.4-.6 .6-.5 .2-.6-.4-.8-.8-.7-1.5-.7-3.9-1-3.4-.2-1.8 .2-1.5 .5-1.2 .5-1.1 .9-.7 .9 0 .7 .5 .8 .9 .6 1.8 .5 1.9 .2 4.7 0 4.2-.7 1.5-.6 .6-.5 .2-.6-.4-.8-.8-.6-1.5-.8-3.9-1-3.4-.2-1.8 .2-1.5 .5-1.2 .5-1.1 .9-.6 .9-.1 .7 .5 .8 .9 .6 1.8 .5 1.9 .2 4.6 0 4.3-.7 1.4-.6 .6-.6 .2-.5-.4-.8-.7-.6-1.5-.8-3.9-1-3.4-.2-1.8 .2-1.4 .5-1.3 .6-1.1 .8-.6 .9-.1 .7 .5 .8 .9 .6 1.8 .5 1.9 .2 4.6 0 4.3-.7 1.4-.6 .6-.6 .2-.5-.4-.8-.8-.6-1.5-.8-3.8-1-3.4-.2-1.7 .3-1.5 .4-1.2 .6-1.2 .8-.6 .9-.1 .7 .5 .8 .9 .6 1.8 .5 1.9 .2 4.6 0 4.2-.8 1.5-.5 .6-.6 .2-.5-.5-.8-.7-.6-1.5-.8-3.8-1-3.4-.2-3.2 .7-1.2 .6-1.1 .8-.6 .9-.1 .7 .4 .8 1 .5 1.7 .5 1.9 .3 4.6 0 4.2-.8 1.4-.6 .6-.5 .2-.5-.4-.8-.7-.6-1.5-.8-3.8-1-3.4-.1-3.2 .6-1.2 .6-1.1 .8-.6 .9-.1 .7 .5 .8 .9 .5 1.8 .5 1.9 .3 4.5-.1 4.2-.7 1.4-.6 .6-.5 .2-.5-.4-.8-.8-.6-1.4-.8-3.8-1-3.4-.1-3.2 .6-1.2 .6-1.1 .8-.6 .9-.1 .7 .5 .8 .9 .5 1.8 .5 1.9 .3 4.5-.1 4.2-.7 1.4-.6 .6-.5 .2-.5-.5-.8-.7-.6-1.5-.8-3.7-1-3.4-.1-3.2 .6-1.2 .6-1.1 .8-.6 .9-.1 .7 .5 .8 .9 .5 1.8 .5 1.9 .2 4.5 0 4.1-.7 1.4-.6 .6-.5 .2-.6-.4-.7-.7-.6-1.5-.7-3.8-1-3.3-.2-3.1 .6-1.2 .6-1.1 .8-.6 .9-.1 .7 .4 .8 .9 .5 1.8 .5 1.9 .2 4.5 0 4.1-.7 1.4-.6 .6-.5 .2-.6-.4-.7-.8-.6-1.4-.7-3.8-1-3.3-.2-3.1 .7-1.2 .5-1.1 .8-.6 .9-.1 .7 .5 .8 .8 .5 1.8 .5 1.9 .2 4.5 0 4.1-.7 1.4-.6 .6-.5 .1-.6-.4-.7-.7-.6-1.4-.7-3.8-1-3.3-.2-3.1 .7-1.2 .5-1.1 .9-.6 .8-.1 .7 .5 .8 .9 .5 1.7 .5 1.9 .2 4.4 0 4.2-.7 1.3-.6 .6-.5 .2-.6-.4-.7-.7-.6-1.5-.7-3.7-1-3.3-.2-3.1 .7-1.2 .5-1.1 .9-.6 .8-.1 .7 .5 .8 .9 .5 1.7 .5 1.9 .2 4.4 0 4.1-.7 1.4-.6 .6-.5 .2-.6-.4-.7-.8-.6-1.4-.7-3.7-1-3.3-.1-3.1 .6-1.1 .5-1.1 .9-.6 .8-.1 .7 .4 .8 .9 .5 1.7 .5 1.9 .2 4.4 0 4.1-.7 1.4-.6 .6-.5 .1-.6-.4-.7-.7-.6-1.4-.7-3.7-1-3.3-.1-3.1 .6-1.1 .6-1.1 .8-.6 .8-.1 .7 .5 .8 .8 .5 1.8 .5 1.8 .2 4.4-.1 4.1-.7 1.3-.5 .6-.5 .2-.6-.4-.7-.7-.6-1.4-.7-3.7-1-3.3-.1-3 .6-1.2 .6-1.1 .8-.6 .8-.1 .7 .5 .8 .8 .5 1.8 .4 1.8 .3 4.4-.1 4.1-.7 1.3-.5 .6-.5 .2-.6-.4-.7-.7-.6-1.5-.7-3.6-1-3.3-.1-3 .6-1.2 .6-1.1 .8-.6 .8-.1 .7 .5 .8 .9 .5 1.7 .4 1.8 .3 4.4-.1 4-.7 1.4-.5 .6-.5 .1-.6-.4-.7-2.1-1.3-3.6-.9-3.3-.2-3 .6-1.2 .6-1 .8-.6 .8-.1 .7 .4 .8 .9 .5 1.7 .4 1.8 .2 4.4 0 4-.7 1.3-.5 .6-.5 .2-.6-.4-.7-2.1-1.3-3.6-.9-3.3-.2-3 .6-1.1 .6-1.1 .8-.6 .8-.1 .7 .4 .7 .9 .6 1.7 .4 1.8 .2 4.4 0 4-.7 1.3-.5 .6-.5 .2-.6-.4-.7-2.1-1.3-3.6-.9-3.3-.2-3 .7-1.1 .5-1.1 .8-.6 .8-.1 .7 .5 .7 .8 .5 1.7 .5 1.8 .2 4.4 0 4-.7 1.3-.6 .6-.4 .1-.6-.4-.7-2.1-1.3-3.6-.9-3.2-.1-3 .6-1.1 .5-1.1 .8-.6 .8-.1 .7 .5 .7 .8 .5 1.7 .5 1.8 .2 4.4 0 3.9-.7 1.4-.6 .5-.5 .2-.5-.4-.7-2.1-1.3-3.6-.9-3.1-.1-3 .6-1.2 .5-1 .8-.6 .8-.1 .7 .4 .7 .9 .5 1.6 .5 1.8 .2 4.3 0 4-.7 1.3-.6 .6-.5 .2-.5-.4-.7-2.1-1.3-3.6-.9-3.1-.1-3 .6-1.2 .5-1 .8-.6 .8-.1 .7 .4 .7 .9 .5 1.7 .5 1.8 .2 4.2-.1 4-.6 1.3-.6 .6-.5 .1-.5-.4-.7-2-1.3-3.6-.9-3.1-.1-3 .6-1.1 .5-1.1 .8-.6 .8-.1 .7 .5 .7 .8 .5 1.7 .5 1.8 .2 4.2-.1 4-.6 1.3-.6 .5-.5 .2-.5-.4-.7-2.1-1.3-3.5-.9-3.1-.1-3 .6-1.1 .5-1.1 .8-.6 .8-.1 .7 .5 .7 .8 .5 1.7 .5 1.8 .2 4.2-.1 3.9-.6 1.3-.6 .6-.5 .2-.5-.4-.7-2.1-1.2-3.5-1-3.1-.1-3 .6-1.1 .6-1.1 .7-.5 .8-.1 .7 .4 .7 .8 .5 1.7 .4 1.8 .3 4.2-.1 3.9-.7 1.3-.5 .6-.5 .1-.5-.4-.7-2-1.2-3.5-.9-3.1-.2-3 .6-1.1 .6-1 .7-.6 .8-.1 .7 .4 .7 .9 .5 1.6 .4 1.8 .2 4.2 0 3.9-.7 1.3-.5 .5-.5 .2-.5-.4-.7-2-1.2-3.5-.9-3.1-.2-2.9 .6-1.2 .6-1 .7-.6 .9-.1 .6 .4 .7 .9 .5 1.6 .4 1.8 .2 4.2 0 3.9-.7 1.2-.5 .6-.5 .2-.5-.4-.7-2-1.2-3.5-.9-3.1-.1-2.9 .6-1.1 .5-1.1 .7-.6 .9-.1 .6 .5 .7 .8 .5 1.6 .4 1.8 .2 4.2 0 3.8-.7 1.3-.5 .6-.5 .1-.5-.4-.7-2-1.2-3.4-.9-3.1-.1-2.9 .6-1.1 .5-1.1 .7-.5 .9-.1 .6 .4 .7 .8 .5 1.6 .4 1.8 .2 4.2 0 3.8-.7 1.3-.5 .5-.5 .2-.5-.4-.7-2-1.2-3.4-.9-3.1-.1-2.9 .6-1.1 .5-1 .8-.6 .8-.1 .6 .4 .7 .8 .5 1.7 .4 1.7 .2 4.2 0 3.8-.7 1.3-.5 .5-.5 .2-.5-.4-.7-1-.7-1.4-.7-3.5-.7-3-.1-2.8 .7-1.2 .7-.9 .8-.4 .8 .1 .6 .5 .5 .9 .5 3.1 .5 4.2-.1 3.8-.6 1.2-.5 .6-.5 .1-.5-.3-.7-1-.7-1.4-.6-3.5-.8-3-.1-2.8 .7-1.2 .7-.9 .8-.4 .8 .1 .6 .5 .5 .9 .5 3.1 .5 4.1-.1 3.8-.6 1.3-.5 .5-.5 .2-.5-.4-.7-.9-.7-1.4-.6-3.5-.8-3 0-2.7 .6-1.3 .7-.9 .8-.3 .8 0 .6 .5 .5 .9 .4 3.1 .6 4.1-.1 3.8-.6 1.3-.6 .5-.4 .2-.5-.4-.7-1-.7-1.4-.6-3.4-.8-3 0-2.7 .6-1.3 .7-.8 .8-.4 .8 .1 .6 .5 .5 .9 .4 3 .6 4.1-.1 3.8-.6 1.2-.6 .6-.4 .1-.5-.3-.7-1-.7-1.4-.6-3.4-.8-3 0-2.7 .6-1.3 .7-.8 .8-.4 .8 .1 .6 .5 .5 .9 .4 3 .6 4.1-.1 3.8-.6 1.2-.6 .5-.4 .2-.5-.4-.7-.9-.7-1.4-.6-3.4-.8-3 0-2.7 .7-1.2 .6-.9 .8-.4 .8 .1 .6 .5 .5 .9 .4 3 .5 4.1 0 3.7-.7 1.3-.5 .5-.4 .2-.5-.4-.7-.9-.7-1.4-.6-3.4-.8-3 0-2.7 .7-1.2 .6-.9 .8-.4 .8 .1 .6 .5 .5 .9 .4 3 .5 4.1 0 3.7-.7 1.2-.5 .6-.4 .1-.5-.3-.7-1-.7-1.3-.6-3.4-.8-3 0-2.7 .7-1.2 .6-.8 .8-.4 .8 .1 .6 .4 .5 .9 .4 3 .5 4.1 0 3.7-.7 1.2-.5 .5-.4 .2-.5-.4-.7-.9-.7-1.4-.6-3.3-.8-3 0-2.6 .7-1.3 .6-.8 .8-.4 .8 .1 .6 .5 .5 .9 .4 3 .5 4 0 3.7-.7 1.2-.5 .5-.4 .2-.5-.4-.7-.9-.7-1.4-.6-3.4-.7-2.8-.1-2.7 .7-1.3 .7-.8 .7-.4 .8 .1 .6 .5 .5 .9 .4 3 .5 4 0 3.6-.7 1.3-.5 .5-.5 .1-.4-.3-.7-.9-.7-1.4-.6-3.4-.7-2.8-.1-2.7 .7-1.2 .7-.9 .7-.4 .8 .1 .5 .5 .6 .9 .4 3 .5 4-.1 3.6-.6 1.2-.5 .6-.5 .1-.4-.4-.7-.9-.7-1.3-.6-3.4-.7-2.8 0-2.7 .6-1.2 .7-.9 .7-.3 .8 0 .5 .5 .6 .9 .4 3 .5 3.9-.1 3.7-.6 1.2-.5 .5-.5 .2-.4-.4-.7-.9-.7-1.4-.6-3.3-.7-2.8 0-2.7 .6-1.2 .7-.8 .7-.4 .8 .1 .5 .4 .5 .9 .5 3 .5 3.9-.1 3.7-.6 1.2-.5 .5-.5 .1-.4-.3-.7-.9-.7-1.4-.6-3.3-.7-2.8 0-2.7 .6-1.2 .7-.8 .7-.4 .8 .1 .5 .5 .5 .8 .5 3 .5 3.9-.1 3.7-.6 1.2-.5 .5-.5 .1-.5-.3-.6-1-.7-1.3-.6-3.3-.7-2.8 0-2.7 .6-1.2 .7-.8 .7-.4 .8 .1 .5 .5 .5 .9 .5 2.9 .5 3.9-.1 3.6-.6 1.2-.5 .5-.5 .2-.5-.4-.6-.9-.7-1.3-.6-3.3-.7-2.8 0-2.6 .6-1.2 .7-.9 .7-.3 .8 0 .5 .5 .5 .9 .4 2.9 .5 3.9 0 3.6-.6 1.2-.5 .5-.5 .2-.5-.4-.6-.9-.7-1.3-.5-3.3-.8-2.8 0-2.6 .7-1.2 .6-.8 .7-.4 .8 .1 .5 .4 .5 .9 .4 2.9 .5 3.9 0 3.6-.6 1.2-.5 .5-.5 .1-.5-.3-.6-.9-.7-1.4-.5-3.2-.8-2.8 0-2.6 .7-1.2 .6-.8 .7-.4 .8 .1 .5 .4 .5 .9 .4 2.9 .5 3.9 0 3.6-.7 1.1-.4 .5-.5 .2-.5-.4-.6-.9-.7-1.3-.5-3.2-.7-2.8-.1-2.6 .7-1.2 .6-.8 .7-.4 .8 .1 .5 .5 .5 .8 .4 2.9 .5 3.9 0 3.5-.7 1.2-.5 .5-.4 .2-.5-.4-.6-.9-.7-1.3-.5-3.2-.7-2.8 0-2.6 .6-1.2 .6-.8 .7-.4 .8 .1 .5 .5 .5 .8 .4 2.9 .5 3.9-.1 3.5-.6 1.2-.5 .5-.4 .1-.5-.3-.6-.9-.7-1.3-.5-3.2-.7-2.8 0-2.6 .6-1.1 .6-.9 .7-.3 .8 0 .5 .5 .5 .8 .4 2.9 .5 3.9-.1 3.5-.6 1.2-.5 .5-.4 .1-.5-.3-.6-.9-.7-1.3-.5-3.2-.7-2.8 0-2.5 .6-1.2 .6-.8 .7-.4 .8 .1 .5 .4 .5 .9 .4 2.8 .5 3.9-.1 3.5-.6 1.1-.5 .5-.4 .2-.5-.4-.6-.9-.7-1.2-.5-3.2-.7-2.8 0-2.5 .6-1.9 1.2-.5 .7 0 .6 .4 .5 .7 .4 3.1 .6 3.9-.1 3.4-.6 1.2-.5 .5-.4 .1-.5-.3-.6-.9-.6-1.3-.6-3.1-.7-2.8 0-2.5 .6-1.9 1.2-.4 .7 0 .6 .3 .5 .7 .4 3.1 .6 3.8-.1 3.5-.6 1.2-.5 .5-.4 .1-.5-.3-.6-.9-.6-1.3-.6-3.1-.7-2.8 0-2.5 .6-1.2 .7-.8 .7-.3 .7 0 .5 .6 .6 1 .4" fill="none" stroke="#ff0000" stroke-width="0.7" stroke-linejoin="round" />
<path d="M388.8 211.2l0 16.5 93.2 72.2 191.2-35.5" fill="none" stroke="#333" stroke-width="0.9" stroke-linejoin="round" />
<line x1="482" y1="299.9" x2="485.85" y2="302.88" stroke="#333" stroke-width="0.9" />
<line x1="520.25" y1="292.8" x2="524.1" y2="295.78" stroke="#333" stroke-width="0.9" />
<line x1="558.5" y1="285.7" x2="562.35" y2="288.68" stroke="#333" stroke-width="0.9" />
<line x1="596.75" y1="278.6" x2="600.6" y2="281.58" stroke="#333" stroke-width="0.9" />
<line x1="635" y1="271.5" x2="638.85" y2="274.48" stroke="#333" stroke-width="0.9" />
<line x1="673.25" y1="264.4" x2="677.1" y2="267.38" stroke="#333" stroke-width="0.9" />
<line x1="482" y1="299.9" x2="476.8" y2="300.87" stroke="#333" stroke-width="0.9" />
<line x1="450.95" y1="275.85" x2="445.75" y2="276.82" stroke="#333" stroke-width="0.9" />
<line x1="419.9" y1="251.8" x2="414.7" y2="252.77" stroke="#333" stroke-width="0.9" />
<line x1="388.85" y1="227.75" x2="383.65" y2="228.72" stroke="#333" stroke-width="0.9" />
<line x1="388.85" y1="227.75" x2="383.88" y2="223.9" stroke="#333" stroke-width="0.9" />
<line x1="388.85" y1="211.25" x2="383.88" y2="207.4" stroke="#333" stroke-width="0.9" />
<text x="489" y="319.2" font-size="9" text-anchor="start" font-weight="normal" fill="#333" >0.5</text>
<text x="527.25" y="312.1" font-size="9" text-anchor="start" font-weight="normal" fill="#333" >1</text>
<text x="565.5" y="305" font-size="9" text-anchor="start" font-weight="normal" fill="#333" >1.5</text>
<text x="603.75" y="297.9" font-size="9" text-anchor="start" font-weight="normal" fill="#333" >2</text>
<text x="642" y="290.8" font-size="9" text-anchor="start" font-weight="normal" fill="#333" >2.5</text>
<text x="680.25" y="283.7" font-size="9" text-anchor="start" font-weight="normal" fill="#333" >3</text>
<text x="475.2" y="315.3" font-size="9" text-anchor="end" font-weight="normal" fill="#333" >0</text>
<text x="444.15" y="291.25" font-size="9" text-anchor="end" font-weight="normal" fill="#333" >0.5</text>
<text x="413.1" y="267.2" font-size="9" text-anchor="end" font-weight="normal" fill="#333" >1</text>
<text x="382.05" y="243.15" font-size="9" text-anchor="end" font-weight="normal" fill="#333" >1.5</text>
<text x="383.05" y="228.15" font-size="9" text-anchor="end" font-weight="normal" fill="#333" >0</text>
<text x="383.05" y="211.65" font-size="9" text-anchor="end" font-weight="normal" fill="#333" >0.5</text>
<text transform="translate(365.6,221) rotate(-90)" font-size="10" text-anchor="middle" fill="#222">P</text>
<text x="420.6" y="289.7" font-size="9.6" text-anchor="middle" font-weight="normal" fill="#333" >I</text>
<text x="593.7" y="315" font-size="10.5" text-anchor="middle" font-weight="normal" fill="#222" >S</text>
<text x="373.2" y="190.0" font-size="16" text-anchor="end" font-weight="bold" fill="#111">(d)</text>
<line x1="514.25" y1="458.8" x2="422.3" y2="389.35" stroke="#dcdcdc" stroke-width="0.8" />
<line x1="422.3" y1="389.35" x2="422.3" y2="368.55" stroke="#dcdcdc" stroke-width="0.8" />
<line x1="546" y1="453" x2="454.05" y2="383.55" stroke="#dcdcdc" stroke-width="0.8" />
<line x1="454.05" y1="383.55" x2="454.05" y2="362.75" stroke="#dcdcdc" stroke-width="0.8" />
<line x1="577.75" y1="447.2" x2="485.8" y2="377.75" stroke="#dcdcdc" stroke-width="0.8" />
<line x1="485.8" y1="377.75" x2="485.8" y2="356.95" stroke="#dcdcdc" stroke-width="0.8" />
<line x1="609.5" y1="441.4" x2="517.55" y2="371.95" stroke="#dcdcdc" stroke-width="0.8" />
<line x1="517.55" y1="371.95" x2="517.55" y2="351.15" stroke="#dcdcdc" stroke-width="0.8" />
<line x1="641.25" y1="435.6" x2="549.3" y2="366.15" stroke="#dcdcdc" stroke-width="0.8" />
<line x1="549.3" y1="366.15" x2="549.3" y2="345.35" stroke="#dcdcdc" stroke-width="0.8" />
<line x1="451.85" y1="441.45" x2="642.35" y2="406.65" stroke="#dcdcdc" stroke-width="0.8" />
<line x1="642.35" y1="406.65" x2="642.35" y2="385.85" stroke="#dcdcdc" stroke-width="0.8" />
<line x1="421.2" y1="418.3" x2="611.7" y2="383.5" stroke="#dcdcdc" stroke-width="0.8" />
<line x1="611.7" y1="383.5" x2="611.7" y2="362.7" stroke="#dcdcdc" stroke-width="0.8" />
<path d="M390.6 374.4l190.4-34.8 92 69.4" fill="none" stroke="#dcdcdc" stroke-width="0.8" stroke-linejoin="round" />
<path d="M390.6 395.2l190.4-34.8 92 69.4" fill="none" stroke="#dcdcdc" stroke-width="0.8" stroke-linejoin="round" />
<line x1="581.05" y1="360.35" x2="581.05" y2="339.55" stroke="#dcdcdc" stroke-width="0.8" />
<line x1="673" y1="429.8" x2="673" y2="409" stroke="#dcdcdc" stroke-width="0.8" />
<path d="M623 373.7l-24.6-5.2-9.3-1.6-6.2-.8-12.5-1.1-9.5-.5-9.3-.1-9.3 .4-9.4 .8-9.2 1.2-8.9 1.6-8.5 2-8.6 2.7-8.1 2.9-6.7 3-5.1 2.9-2.5 2-2.7 3-1.3 2.1-.9 2-.7 2-.1 1 .4 2.9 1.1 3 3.4 7.4 3.3 5.6 2.3 3.1 4.1 4.5 2.7 2.4 2.3 1.6 2.9 1.5 5.9 2.3 7.3 2.4 5.4 1.6 5.9 1.2 6.2 .9 6.5 .4 7.4 0 7.9-.4 8.1-.7 7.9-.9 10.4-1.6 5.8-1.3 5.1-1.7 18.4-7.4 3.3-2.5 1.7-1.9 1-1.9 .1-2-.3-1.3-.7-1.3-1.1-1.3-1.5-1.4-4.1-2.7-7-3.3-7.1-2.6-10.2-3.1-11.5-2.8-9.7-2-12.5-2-9.9-1.2-9.6-.8-9.1-.4-8.5 .1-7.8 .5-7 .9-7.7 1.6-5.2 1.7-5.4 2.4-4.4 2.7-2.1 1.8-1.8 1.7-2.7 3.7-1.6 3.7-1 4.2-.1 2.3 .2 2.3 .3 2.2 .7 2.6 1 2.5 1.2 2.3 2.9 4.4 3.9 4.3 4.6 3.7 5.2 3.2 5.4 2.3 5.6 1.6 6.5 1 6.8 .4 8-.2 9.5-.9 11.3-1.5 13-2.3 12.6-2.6 13.4-3.1 11.5-3 9.2-2.8 8.4-3 7.2-3.1 4.6-2.6 3.3-2.7 1.2-1.3 .8-1.4 .4-1.4 0-1.4-.4-1.4-.9-1.5-1.2-1.4-1.7-1.4-4.6-2.9-6.1-2.9-7.6-2.8-11.1-3.4-12.5-3.1-10.6-2.2-13.7-2.3-10.9-1.4-10.5-1-10.1-.5-9.3 0-8.6 .4-7.7 .9-8.3 1.7-5.6 1.7-5.9 2.5-4.6 2.9-2.2 1.8-1.9 1.9-1.5 1.9-1.2 2-1.6 3.9-.5 1.9-.3 2.6 0 2.5 .3 2.4 .4 2.3 .9 2.7 1.1 2.7 1.4 2.5 1.5 2.3 2 2.7 4.2 4.4 4.8 3.8 5.5 3.3 5.5 2.3 6.4 1.8 6.7 .9 8.1 .2 9.8-.5 10.6-1.2 14.1-2.3 14.5-2.8 15.9-3.5 14.2-3.6 9.9-2.9 9.1-3.1 7.9-3.2 5.1-2.7 3.9-2.8 1.4-1.4 1-1.5 .5-1.4 .2-1.5-.3-1.4-.7-1.5-1.2-1.5-1.6-1.5-4.5-3-6.2-3-10-3.7-9.4-2.8-13.1-3.3-14.1-2.9-11.5-1.9-14.4-1.9-11.1-1-10.5-.4-9.8 0-8.8 .4-8 1-6.9 1.4-7.3 2.2-3.7 1.6-3.2 1.7-2.8 1.8-2.3 1.9-1.9 1.9-2 2.7-1.5 2.7-1 2.7-.5 2.7-.2 3.3 .3 3.2 .6 3 1 2.9 1.5 3.2 1.7 3.1 2.4 3.3 2.3 2.6 2.4 2.4 3 2.6 2.8 2.1 3 1.9 3.1 1.6 3.3 1.5 3.6 1.2 3.3 .9 3.5 .7 3.9 .4 4.3 .3 8.9-.2 11-1 10.3-1.4 10-1.7 13-2.5 12.1-2.6 12.6-3 10.5-2.8 10-3 7.4-2.6 6.6-2.6 4.3-2.1 4.6-2.8 2.6-2.2 1.1-1.4 .8-1.5 .3-2.2-.7-2.3-1.7-2.3-1.8-1.5-2.2-1.5-2.7-1.6-4.8-2.3-9.9-3.7-12.2-3.7-13.6-3.3-14.7-2.9-15-2.4-14.7-1.7-11.3-.9-10.6-.3-9.7 .2-10.8 .9-7.5 1.2-8 2.1-6.4 2.6-5 3-2.5 2-2 2-1.6 2-1.3 2.1-.9 2.1-.9 2.8-.5 2.7-.1 2.7 .3 2.6 .6 3.2 .9 2.9 1.2 2.9 1.8 3.2 2 3 2.2 2.7 2.3 2.6 5.3 4.6 5.3 3.6 5.4 2.7 6.1 2.1 6.3 1.2 7.5 .6 8-.1 9.7-.9 10-1.3 11.5-1.8 13.1-2.6 12.3-2.6 12.8-3 10.7-2.8 10.4-3.1 9.5-3.2 6.7-2.7 4.3-2.1 4.6-2.9 2.5-2.1 1.1-1.5 .7-1.5 .2-2.3-.8-2.3-1.9-2.3-1.9-1.5-2.3-1.6-2.8-1.5-5.1-2.4-10.4-3.8-12.5-3.6-14-3.4-15.1-3-15.3-2.3-12-1.4-11.6-1-10.9-.4-10 .1-11.2 .9-7.8 1.2-8.2 2-6.7 2.6-5.2 3-2.5 2-2.1 2-1.7 2.1-1.3 2.1-1.1 2.1-.9 2.9-.5 2.8-.1 2.7 .2 2.6 .7 3.2 .9 3.1 1.2 2.9 1.5 2.7 2 3.1 2.2 2.8 2.4 2.7 5.2 4.8 5.3 3.7 5.9 3 6.1 2.1 6.2 1.3 7.5 .6 7.9-.1 9.5-.7 9.9-1.3 11.6-1.9 13.1-2.4 12.3-2.6 12.9-3.1 10.9-2.8 10.6-3 9.8-3.3 6.9-2.7 4.5-2.1 4.9-2.9 2.7-2.2 1.3-1.4 .8-1.5 .5-2.3-.7-2.3-1.7-2.3-1.7-1.6-2.2-1.6-2.7-1.5-4.9-2.4-8-3.1-12.1-3.7-13.8-3.5-15-3.2-15.4-2.6-15.4-1.9-11.8-1-11.1-.5-10.3 0-11.5 .8-8 1.1-8.5 2-2.9 1-4 1.6-2.3 1.2-3.1 1.8-2.6 2-2.2 2-1.8 2.1-1.3 2.1-1.1 2.2-1 2.8-.5 2.9-.1 2.7 .1 2.7 .5 2.6 .9 3.1 1.2 3 1.4 2.8 1.9 3.1 2.2 3 2.4 2.7 5.1 4.9 2.9 2.2 2.9 1.9 5.9 3.1 6 2.2 6.2 1.3 7.4 .7 7.8-.1 9.5-.7 9.8-1.2 11.4-1.8 13.1-2.5 12.3-2.5 13-3 11-2.8 10.7-3.1 10-3.2 7.1-2.7 4.7-2.1 5.1-2.9 2.9-2.2 1.5-1.5 1-1.5 .6-2.3-.4-2.3-1.5-2.3-1.6-1.6-2.1-1.6-2.6-1.5-4.7-2.4-10-3.9-12.3-3.7-14.1-3.5-15.1-3.1-15.6-2.6-15.5-1.9-11.8-1-11.1-.4-10.3 .1-11.4 .8-7.9 1.2-8.5 2.1-2.9 1-3.9 1.6-2.3 1.2-3 1.9-2.5 1.9-2.1 2.1-1.7 2.1-1.4 2.2-1 2.1-.9 2.9-.5 2.8-.1 2.8 .3 2.7 .6 3.2 1 3.1 1.3 3 1.5 2.7 2 3.1 2.2 2.9 2.4 2.7 5.3 4.8 5.4 3.8 5.9 3.1 6.1 2.1 6.2 1.3 7.4 .6 8 0 9.5-.8 9.9-1.3 11.6-1.8 13.2-2.5 12.4-2.6 13.1-3.1 11-2.8 10.8-3.1 9.9-3.2 7.1-2.8 4.6-2.1 5.1-2.9 2.8-2.2 1.3-1.5 .9-1.5 .5-2.3-.5-2.3-1.7-2.3-1.7-1.6-2.2-1.6-2.7-1.6-4.9-2.3-8-3.1-12.1-3.8-13.9-3.6-15.2-3.1-15.6-2.7-15.6-2-11.9-1-11.3-.6-10.5 0-11.6 .8-8.1 1.1-8.7 2-3 1-4 1.6-2.4 1.2-3.1 1.8-2.6 2-2.2 2.1-1.8 2.1-1.4 2.1-1.1 2.2-1 2.9-.5 2.8-.1 2.8 .2 2.7 .5 2.7 .9 3.1 1.2 3 1.4 2.8 2 3.2 2.2 3 2.3 2.7 5.3 5 2.8 2.1 3 2 5.8 3.1 6.1 2.2 6.2 1.4 7.3 .6 7.8 0 9.4-.7 9.9-1.2 11.4-1.8 13.1-2.5 14.5-3 13.1-3.1 11.1-2.8 10.7-3.1 9.9-3.3 7-2.8 4.6-2.1 4.9-2.9 2.7-2.2 1.2-1.5 .9-1.5 .4-2.3-.8-2.4-1.8-2.3-1.8-1.6-2.3-1.6-2.8-1.6-5-2.3-8.2-3.1-12.4-3.8-14.1-3.5-15.2-3.2-15.7-2.6-15.6-1.9-11.9-1-11.2-.5-10.4 .1-11.6 .8-8 1.2-3.6 .7-4.9 1.3-2.9 1-4 1.7-2.3 1.1-3.1 1.9-2.6 2-2.1 2.1-1.7 2.1-1.4 2.2-1 2.1-.9 2.9-.5 2.9-.1 2.8 .2 2.7 .7 3.2 1 3.2 1.3 2.9 1.5 2.8 2 3.1 2.3 2.9 2.4 2.8 5.3 4.8 5.3 3.8 6 3.1 6 2.1 6.3 1.3 7.4 .7 7.8-.1 9.6-.7 9.9-1.3 11.6-1.9 13.2-2.4 12.4-2.6 13.1-3.1 11.1-2.8 10.8-3.1 10-3.2 7.2-2.8 4.7-2.1 5.1-2.9 2.9-2.2 1.4-1.5 1-1.5 .6-2.3-.5-2.3-1.6-2.4-1.7-1.6-2.2-1.5-2.6-1.6-4.9-2.4-10.2-3.9-12.5-3.8-14.3-3.5-15.3-3.1-15.7-2.5-15.6-1.9-11.9-1-11.1-.4-10.3 .1-11.5 .9-7.9 1.2-3.5 .8-4.9 1.4-2.9 1-3.8 1.6-2.3 1.2-3 1.9-2.5 2-2.1 2.1-1.7 2.1-1.3 2.2-1 2.2-.8 2.9-.5 2.8 0 2.8 .2 2.7 .6 2.6 .9 3.2 1.3 2.9 1.5 2.9 2 3.1 2.2 3 2.4 2.7 5.3 4.9 5.3 3.8 5.9 3.1 6 2.2 6.2 1.4 7.3 .7 7.8-.1 9.4-.7 9.8-1.2 11.4-1.8 13.1-2.4 14.5-3 13.2-3.1 11.1-2.9 10.7-3 10-3.3 7.1-2.8 4.6-2.1 5-2.9 2.7-2.2 1.4-1.5 .8-1.6 .5-2.3-.7-2.3-1.7-2.3-1.8-1.6-2.3-1.6-2.7-1.6-5-2.3-8.2-3.2-12.2-3.8-14.1-3.5-15.3-3.2-15.7-2.6-15.6-2-12-1-11.4-.5-10.4 0-11.6 .8-8.1 1.2-3.7 .7-4.9 1.3-3 1-4 1.7-2.3 1.1-3.1 1.9-2.6 2-2.2 2.1-1.7 2.1-1.4 2.2-1 2.1-1 2.9-.5 2.9-.1 2.8 .3 2.7 .4 2.7 1 3.1 1.2 3 1.5 2.8 2 3.2 2.2 3 2.4 2.7 5.2 5 2.9 2.1 2.9 2 5.9 3.1 6.1 2.2 6.2 1.3 7.4 .7 7.8-.1 9.5-.7 9.9-1.3 11.6-1.8 13.2-2.5 12.4-2.6 13.1-3 11.1-2.8 10.8-3.1 10.1-3.2 7.3-2.8 4.7-2.1 5.2-2.9 2.9-2.2 1.5-1.5 1-1.5 .6-2.3-.4-2.3-1.5-2.4-1.6-1.6-2.2-1.5-2.6-1.6-4.8-2.4-3.7-1.6-6.4-2.3-12.5-3.8-14.2-3.5-15.3-3.1-15.8-2.6-15.6-1.9-11.9-1-11.3-.4-10.3 0-11.5 .9-8 1.2-3.6 .8-4.9 1.3-2.9 1-3.9 1.7-2.3 1.2-3 1.9-2.6 2-2.1 2-1.7 2.2-1.3 2.1-1 2.2-.9 2.9-.4 2.9-.1 2.8 .3 2.7 .5 2.6 1 3.2 1.2 2.9 1.5 2.8 2 3.2 2.2 3 2.4 2.7 5.3 4.9 5.3 3.8 5.9 3.2 6 2.2 6.2 1.4 7.3 .7 7.7-.1 9.4-.6 9.7-1.2 11.4-1.8 13.1-2.4 14.5-3 13.1-3.1 11.1-2.9 10.8-3 10-3.3 7.2-2.8 4.6-2.1 5.1-2.9 2.8-2.2 1.4-1.5 .9-1.5 .5-2.3-.6-2.4-1.7-2.3-1.7-1.6-2.2-1.6-2.7-1.6-5-2.3-8.1-3.2-12.2-3.8-14-3.5-15.3-3.2-15.7-2.7-15.7-2-12-1-11.4-.5-10.4 0-11.7 .7-8.2 1.2-3.7 .7-5 1.3-3 1-4 1.6-2.3 1.2-3.2 1.9-2.6 2-2.2 2-1.8 2.1-1.4 2.2-1 2.2-1 2.9-.5 2.8-.1 2.9 .2 2.7 .5 2.6 .9 3.2 1.2 3 1.5 2.8 2 3.2 2.2 3 2.4 2.7 5.2 5 2.9 2.2 2.9 2 5.9 3.1 6.1 2.2 6.2 1.3 7.3 .7 7.9-.1 9.4-.7 9.9-1.2 11.5-1.8 13.1-2.5 14.6-3 13.1-3.1 11.1-2.9 10.8-3.1 9.9-3.3 7.1-2.8 4.5-2.1 5-2.9 2.6-2.2 1.3-1.5 .8-1.6 .4-2.3-.7-2.3-1.8-2.3-1.9-1.6-2.3-1.6-2.8-1.6-5.1-2.4-8.3-3.1-12.3-3.8-14.2-3.5-15.3-3.2-15.8-2.6-15.6-1.9-12-1-11.3-.5-10.4 .1-11.5 .8-8.1 1.2-3.6 .8-4.9 1.3-2.9 1-4 1.7-2.3 1.1-3.1 1.9-2.5 2-2.2 2.1-1.7 2.1-1.3 2.2-1.1 2.2-.9 2.9-.4 2.8-.1 2.8 .2 2.8 .7 3.2 1 3.1 1.3 3 1.5 2.8 2.1 3.1 2.2 3 2.5 2.7 5.3 4.8 5.3 3.8 6 3.1 6 2.1 6.3 1.3 7.4 .7 7.9-.1 9.5-.7 10-1.3 11.6-1.9 13.2-2.4 12.5-2.7 13.1-3 11.1-2.8 10.9-3.1 10-3.3 7.2-2.7 4.7-2.2 5.1-2.9 2.9-2.2 1.4-1.5 1-1.5 .5-2.3-.5-2.3-1.6-2.4-1.7-1.6-2.2-1.5-2.6-1.6-4.9-2.4-10.3-3.9-12.5-3.8-14.3-3.5-15.4-3.1-15.8-2.5-15.6-1.9-11.9-1-11.2-.4-10.3 .1-11.4 .9-7.9 1.3-3.6 .7-4.8 1.4-2.9 1-3.9 1.7-2.3 1.2-3 1.9-2.5 2-2 2.1-1.7 2.1-1.3 2.2-1 2.2-.8 2.9-.4 2.8-.1 2.8 .3 2.7 .7 3.3 1 3.1 1.3 2.9 1.6 2.8 2 3.1 2.3 2.9 2.4 2.7 5.4 4.9 5.4 3.7 5.9 3.1 6.1 2.1 6.3 1.3 7.5 .6 7.9-.1 9.7-.8 10-1.3 11.7-1.9 13.3-2.5 12.6-2.7 13.1-3 11.1-2.9 10.8-3.1 10-3.3 7.1-2.7 4.6-2.2 5-2.9 2.7-2.2 1.3-1.5 .9-1.5 .4-2.3-.6-2.4-1.8-2.3-1.8-1.6-2.3-1.6-2.7-1.5-5-2.4-10.5-3.9-12.7-3.8-14.5-3.5-15.4-3-15.8-2.5-15.5-1.8-11.9-.9-11.1-.4-10.2 .2-11.3 .9-7.8 1.3-3.5 .8-4.7 1.4-2.9 1-3.8 1.7-3.2 1.9-2.8 1.9-2.3 2.1-2.4 2.8-1.4 2.2-1.3 2.9-.8 2.9-.4 2.8 0 2.8 .4 3.4 .8 3.2 1.2 3 1.6 3.5 2 3.2 2.2 3 2.8 3.2 3 3 3.2 2.7 5.4 3.7 5.9 3.1 6.2 2.1 6.3 1.2 7.5 .6 8.1-.1 9.7-.9 11.7-1.5 12.1-2 13.6-2.7 12.7-2.7 13.3-3.2 11-2.9 10.6-3.2 7.9-2.7 7-2.7 5.8-2.9 3.5-2.2 1.9-1.5 1.4-1.5 1.3-2.2 .3-1.6-.1-1.5-1.2-2.4-2.3-2.3-3.4-2.4-2.8-1.6-5.2-2.3-10.7-3.9-12.9-3.8-17.5-4.1-15.6-2.9-15.8-2.3-15.4-1.6-14.4-.8-10.5-.1-11.9 .7-10.1 1.5-3.6 .8-4.9 1.3-2.9 1-3.9 1.7-3.3 1.8-2.9 1.9-2.4 2.1-1.9 2.1-1.6 2.1-1.2 2.2-1.1 2.9-.8 3.6-.1 3.5 .4 3.4 .9 3.8 1.4 3.7 1.8 3.4 2.3 3.6 2.7 3.4 3.3 3.5 3.6 3.2 3.8 2.9 4.1 2.5 3.9 1.8 4.2 1.6 3.9 1.1 3.5 .7 3.9 .4 4.3 .3 4.8 0 10.2-.6 12.5-1.5 17.2-2.9 18.1-3.7 17.6-4.1 15.4-4.1 12.4-3.9 5.6-2 5-2.1 4.4-2.2 2.6-1.4 3.1-2.2 1.5-1.5 1.6-2.3 .4-1.5 0-1.6-.5-1.5-1-1.6-1.5-1.6-2-1.5-3.9-2.4-3.2-1.6-5.6-2.4-6.6-2.3-7.3-2.3-8.1-2.2-8.6-2.1-18.4-3.7-19-3-9.3-1.1-9.1-.8-14.3-.8-7.9 0-7.4 .3-9 .8-7.9 1.2-6.7 1.7-5.8 2.1-4.7 2.3-2 1.3-2.7 2-3.4 3.4-1.5 2.2-1.1 2.2-.9 2.2-.6 2.1-.3 2.2-.1 2.8 .2 2.7 .5 2.6 1.6 5 1.4 2.9 1.6 2.8 3.6 5 4.5 4.8 5.1 4.2 5 3.3 5.5 2.7 5.5 1.8 6.4 1.3 6.6 .6 6.7 0 9.3-.7 9.6-1.1 16.6-2.7 17.8-3.5 19.6-4.5 15.4-4 12.5-3.9 10.9-4.1 4.5-2.1 2.7-1.5 3.2-2.2 1.7-1.5 1.7-2.2 .7-2.3-.3-2.4-1.5-2.3-2.6-2.4-3.7-2.3-4.7-2.4-7.9-3.2-6.9-2.3-10.5-2.9-11.4-2.9-12.2-2.5-12.6-2.2-9.5-1.4-12.5-1.5-9-.8-11.5-.6-8-.1-7.5 .2-9.1 .7-8.1 1.2-6.9 1.7-5.9 2-4.9 2.3-2.1 1.2-2.7 2-3.5 3.4-2.5 3.6-1 2.2-.7 2.2-.7 4.3 .2 4.8 .6 2.6 .7 2.5 2 4.8" fill="none" stroke="#ff0000" stroke-width="0.9" stroke-linejoin="round" />
<path d="M390.6 374.4l0 20.8 91.9 69.4 190.5-34.8" fill="none" stroke="#333" stroke-width="0.9" stroke-linejoin="round" />
<line x1="482.5" y1="464.6" x2="486.3" y2="467.47" stroke="#333" stroke-width="0.9" />
<line x1="514.25" y1="458.8" x2="518.05" y2="461.67" stroke="#333" stroke-width="0.9" />
<line x1="546" y1="453" x2="549.8" y2="455.87" stroke="#333" stroke-width="0.9" />
<line x1="577.75" y1="447.2" x2="581.55" y2="450.07" stroke="#333" stroke-width="0.9" />
<line x1="609.5" y1="441.4" x2="613.3" y2="444.27" stroke="#333" stroke-width="0.9" />
<line x1="641.25" y1="435.6" x2="645.05" y2="438.47" stroke="#333" stroke-width="0.9" />
<line x1="673" y1="429.8" x2="676.8" y2="432.67" stroke="#333" stroke-width="0.9" />
<line x1="482.5" y1="464.6" x2="478.9" y2="465.26" stroke="#333" stroke-width="0.9" />
<line x1="451.85" y1="441.45" x2="448.25" y2="442.11" stroke="#333" stroke-width="0.9" />
<line x1="421.2" y1="418.3" x2="417.6" y2="418.96" stroke="#333" stroke-width="0.9" />
<line x1="390.55" y1="395.15" x2="386.95" y2="395.81" stroke="#333" stroke-width="0.9" />
<line x1="390.55" y1="395.15" x2="385.65" y2="391.45" stroke="#333" stroke-width="0.9" />
<line x1="390.55" y1="374.35" x2="385.65" y2="370.65" stroke="#333" stroke-width="0.9" />
<text x="489.5" y="483.9" font-size="9" text-anchor="start" font-weight="normal" fill="#333" >0</text>
<text x="521.25" y="478.1" font-size="9" text-anchor="start" font-weight="normal" fill="#333" >0.5</text>
<text x="553" y="472.3" font-size="9" text-anchor="start" font-weight="normal" fill="#333" >1</text>
<text x="584.75" y="466.5" font-size="9" text-anchor="start" font-weight="normal" fill="#333" >1.5</text>
<text x="616.5" y="460.7" font-size="9" text-anchor="start" font-weight="normal" fill="#333" >2</text>
<text x="648.25" y="454.9" font-size="9" text-anchor="start" font-weight="normal" fill="#333" >2.5</text>
<text x="680" y="449.1" font-size="9" text-anchor="start" font-weight="normal" fill="#333" >3</text>
<text x="475.7" y="480" font-size="9" text-anchor="end" font-weight="normal" fill="#333" >0</text>
<text x="445.05" y="456.85" font-size="9" text-anchor="end" font-weight="normal" fill="#333" >0.5</text>
<text x="414.4" y="433.7" font-size="9" text-anchor="end" font-weight="normal" fill="#333" >1</text>
<text x="383.75" y="410.55" font-size="9" text-anchor="end" font-weight="normal" fill="#333" >1.5</text>
<text x="384.75" y="395.55" font-size="9" text-anchor="end" font-weight="normal" fill="#333" >0</text>
<text x="384.75" y="374.75" font-size="9" text-anchor="end" font-weight="normal" fill="#333" >0.5</text>
<text transform="translate(365.6,386) rotate(-90)" font-size="10" text-anchor="middle" fill="#222">P</text>
<text x="420.6" y="455" font-size="9.6" text-anchor="middle" font-weight="normal" fill="#333" >I</text>
<text x="593.7" y="481.7" font-size="10.5" text-anchor="middle" font-weight="normal" fill="#222" >S</text>
<text x="373.2" y="355.0" font-size="16" text-anchor="end" font-weight="bold" fill="#111">(f)</text>
</svg>
</body></html>
